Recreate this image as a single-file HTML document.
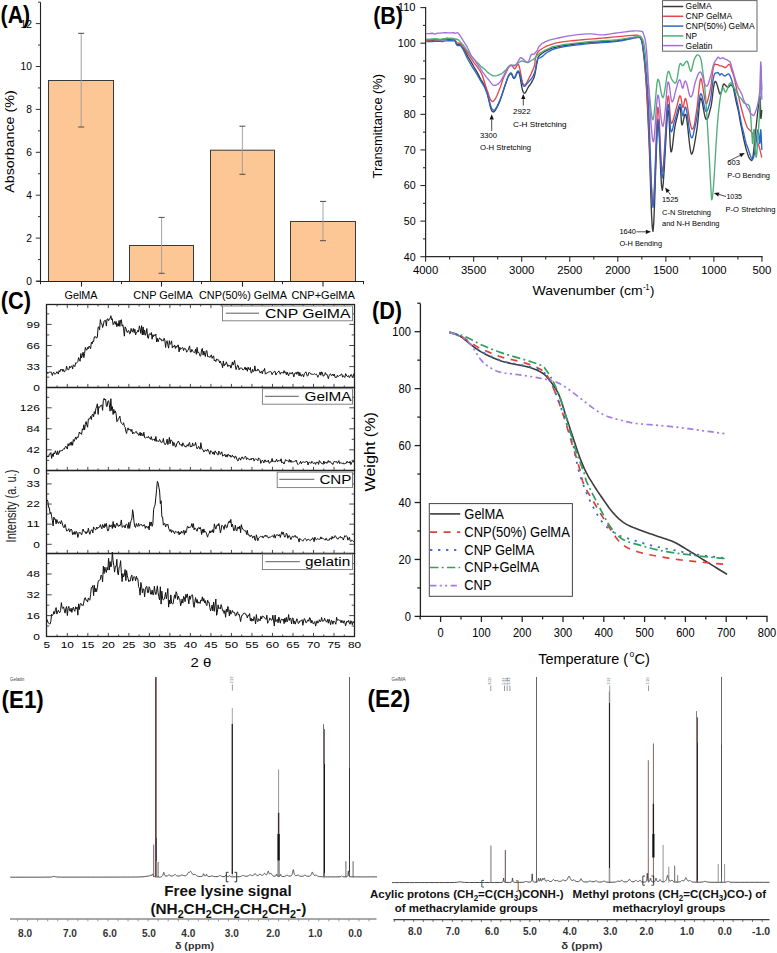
<!DOCTYPE html>
<html><head><meta charset="utf-8"><style>
html,body{margin:0;padding:0;background:#fff;overflow:hidden;width:777px;height:953px;}
svg{display:block;}
text{font-family:"Liberation Sans", sans-serif;}
</style></head><body>
<svg width="777" height="953" viewBox="0 0 777 953">
<defs><clipPath id="clipC"><rect x="46.5" y="304.5" width="308" height="332"/></clipPath></defs>
<rect width="777" height="953" fill="#fff"/>
<rect x="48.50" y="80.50" width="65.00" height="201.00" fill="#fdc795" stroke="#3a3a3a" stroke-width="1"/>
<rect x="129.50" y="245.50" width="64.00" height="36.00" fill="#fdc795" stroke="#3a3a3a" stroke-width="1"/>
<rect x="210.50" y="150.20" width="64.00" height="131.30" fill="#fdc795" stroke="#3a3a3a" stroke-width="1"/>
<rect x="290.50" y="221.50" width="65.00" height="60.00" fill="#fdc795" stroke="#3a3a3a" stroke-width="1"/>
<line x1="81.20" y1="33.30" x2="81.20" y2="127.00" stroke="#9a9a9a" stroke-width="0.9"/>
<line x1="78.20" y1="33.30" x2="84.20" y2="33.30" stroke="#4a4a4a" stroke-width="1.0"/>
<line x1="78.20" y1="127.00" x2="84.20" y2="127.00" stroke="#4a4a4a" stroke-width="1.0"/>
<line x1="161.60" y1="217.40" x2="161.60" y2="273.30" stroke="#9a9a9a" stroke-width="0.9"/>
<line x1="158.60" y1="217.40" x2="164.60" y2="217.40" stroke="#4a4a4a" stroke-width="1.0"/>
<line x1="158.60" y1="273.30" x2="164.60" y2="273.30" stroke="#4a4a4a" stroke-width="1.0"/>
<line x1="242.40" y1="126.20" x2="242.40" y2="174.30" stroke="#9a9a9a" stroke-width="0.9"/>
<line x1="239.40" y1="126.20" x2="245.40" y2="126.20" stroke="#4a4a4a" stroke-width="1.0"/>
<line x1="239.40" y1="174.30" x2="245.40" y2="174.30" stroke="#4a4a4a" stroke-width="1.0"/>
<line x1="323.00" y1="201.40" x2="323.00" y2="240.70" stroke="#9a9a9a" stroke-width="0.9"/>
<line x1="320.00" y1="201.40" x2="326.00" y2="201.40" stroke="#4a4a4a" stroke-width="1.0"/>
<line x1="320.00" y1="240.70" x2="326.00" y2="240.70" stroke="#4a4a4a" stroke-width="1.0"/>
<line x1="40.50" y1="2.20" x2="40.50" y2="282.00" stroke="#222" stroke-width="1.1"/>
<line x1="36.40" y1="281.50" x2="363.80" y2="281.50" stroke="#222" stroke-width="1.2"/>
<line x1="35.80" y1="281.00" x2="40.50" y2="281.00" stroke="#333" stroke-width="1"/>
<line x1="38.00" y1="259.55" x2="40.50" y2="259.55" stroke="#333" stroke-width="1"/>
<line x1="35.80" y1="238.10" x2="40.50" y2="238.10" stroke="#333" stroke-width="1"/>
<line x1="38.00" y1="216.65" x2="40.50" y2="216.65" stroke="#333" stroke-width="1"/>
<line x1="35.80" y1="195.20" x2="40.50" y2="195.20" stroke="#333" stroke-width="1"/>
<line x1="38.00" y1="173.75" x2="40.50" y2="173.75" stroke="#333" stroke-width="1"/>
<line x1="35.80" y1="152.30" x2="40.50" y2="152.30" stroke="#333" stroke-width="1"/>
<line x1="38.00" y1="130.85" x2="40.50" y2="130.85" stroke="#333" stroke-width="1"/>
<line x1="35.80" y1="109.40" x2="40.50" y2="109.40" stroke="#333" stroke-width="1"/>
<line x1="38.00" y1="87.95" x2="40.50" y2="87.95" stroke="#333" stroke-width="1"/>
<line x1="35.80" y1="66.50" x2="40.50" y2="66.50" stroke="#333" stroke-width="1"/>
<line x1="38.00" y1="45.05" x2="40.50" y2="45.05" stroke="#333" stroke-width="1"/>
<line x1="35.80" y1="23.60" x2="40.50" y2="23.60" stroke="#333" stroke-width="1"/>
<line x1="38.00" y1="2.15" x2="40.50" y2="2.15" stroke="#333" stroke-width="1"/>
<text x="31.90" y="284.90" font-size="11" text-anchor="end" textLength="5.70" lengthAdjust="spacingAndGlyphs">0</text>
<text x="31.90" y="242.00" font-size="11" text-anchor="end" textLength="5.70" lengthAdjust="spacingAndGlyphs">2</text>
<text x="31.90" y="199.10" font-size="11" text-anchor="end" textLength="5.70" lengthAdjust="spacingAndGlyphs">4</text>
<text x="31.90" y="156.20" font-size="11" text-anchor="end" textLength="5.70" lengthAdjust="spacingAndGlyphs">6</text>
<text x="31.90" y="113.30" font-size="11" text-anchor="end" textLength="5.70" lengthAdjust="spacingAndGlyphs">8</text>
<text x="31.90" y="70.40" font-size="11" text-anchor="end" textLength="11.40" lengthAdjust="spacingAndGlyphs">10</text>
<text x="31.90" y="27.50" font-size="11" text-anchor="end" textLength="11.40" lengthAdjust="spacingAndGlyphs">12</text>
<line x1="81.50" y1="281.00" x2="81.50" y2="286.60" stroke="#222" stroke-width="1.1"/>
<line x1="161.50" y1="281.00" x2="161.50" y2="286.60" stroke="#222" stroke-width="1.1"/>
<line x1="242.50" y1="281.00" x2="242.50" y2="286.60" stroke="#222" stroke-width="1.1"/>
<line x1="323.00" y1="281.00" x2="323.00" y2="286.60" stroke="#222" stroke-width="1.1"/>
<line x1="40.50" y1="281.00" x2="40.50" y2="284.20" stroke="#222" stroke-width="1"/>
<line x1="121.50" y1="281.00" x2="121.50" y2="284.20" stroke="#222" stroke-width="1"/>
<line x1="201.50" y1="281.00" x2="201.50" y2="284.20" stroke="#222" stroke-width="1"/>
<line x1="282.50" y1="281.00" x2="282.50" y2="284.20" stroke="#222" stroke-width="1"/>
<line x1="363.50" y1="281.00" x2="363.50" y2="284.20" stroke="#222" stroke-width="1"/>
<text x="64.50" y="299.30" font-size="10.8" textLength="33.10" lengthAdjust="spacingAndGlyphs">GelMA</text>
<text x="133.30" y="299.30" font-size="10.8" textLength="59.60" lengthAdjust="spacingAndGlyphs">CNP GelMA</text>
<text x="199.00" y="299.30" font-size="10.8" textLength="88.00" lengthAdjust="spacingAndGlyphs">CNP(50%) GelMA</text>
<text x="291.40" y="299.30" font-size="10.8" textLength="63.40" lengthAdjust="spacingAndGlyphs">CNP+GelMA</text>
<text x="14.20" y="192.80" font-size="13.3" textLength="102.50" lengthAdjust="spacingAndGlyphs" transform="rotate(-90 14.20 192.80)">Absorbance (%)</text>
<text x="0.60" y="22.50" font-size="23.5" font-weight="bold" textLength="29.60" lengthAdjust="spacingAndGlyphs" fill="#000">(A)</text>
<polyline points="426.40,40.00 427.88,39.98 429.92,39.95 432.34,40.26 434.95,39.79 437.56,39.74 440.00,39.92 442.41,39.75 444.98,39.17 447.56,39.62 449.99,39.38 452.12,39.24 453.80,39.40 454.92,40.05 455.57,40.88 455.92,41.78 456.15,42.70 456.42,43.54 456.90,44.20 457.54,44.45 458.21,44.33 458.91,44.13 459.68,44.18 460.54,44.55 461.50,45.58 462.59,47.14 463.78,48.84 465.06,51.01 466.40,53.68 467.79,56.51 469.20,58.80 470.68,61.05 472.24,63.93 473.85,66.76 475.46,69.38 477.02,72.00 478.50,74.82 479.90,77.58 481.25,80.04 482.56,82.14 483.83,84.44 485.04,87.07 486.20,90.11 487.28,93.65 488.28,97.74 489.23,101.90 490.16,105.94 491.10,109.27 492.10,111.31 493.10,112.04 494.06,111.70 495.04,110.62 496.09,108.88 497.26,106.76 498.60,104.08 500.22,100.13 502.11,94.61 504.12,88.32 506.10,82.47 507.91,77.32 509.40,74.39 510.52,73.42 511.39,73.87 512.08,75.11 512.69,76.63 513.30,77.86 514.00,78.54 514.78,78.00 515.56,76.42 516.35,74.46 517.14,72.75 517.92,71.82 518.70,72.15 519.47,74.28 520.24,77.91 521.01,82.36 521.77,86.84 522.53,90.30 523.30,92.32 524.05,93.18 524.77,93.20 525.50,92.44 526.25,91.10 527.04,89.54 527.90,87.79 528.88,86.21 529.96,84.94 531.09,83.17 532.20,81.17 533.23,79.27 534.10,77.13 534.80,74.64 535.37,71.89 535.86,69.16 536.30,66.50 536.74,64.05 537.20,62.00 537.54,60.40 537.69,59.14 537.83,58.10 538.14,57.16 538.81,56.22 540.00,54.86 541.66,53.72 543.63,52.28 545.94,50.92 548.65,49.64 551.79,48.17 555.40,47.29 559.65,46.35 564.55,45.49 569.88,44.72 575.43,44.03 580.97,43.41 586.30,42.83 591.59,42.34 597.06,41.97 602.52,41.66 607.81,41.36 612.76,41.03 617.20,40.63 621.18,40.10 624.84,39.47 628.17,38.81 631.12,38.19 633.68,37.67 635.80,37.33 637.35,37.11 638.33,36.96 638.91,36.91 639.26,37.00 639.57,37.30 640.00,37.50 640.50,38.03 640.92,38.46 641.29,39.09 641.66,40.20 642.05,42.08 642.50,45.00 643.03,48.95 643.61,53.70 644.22,59.22 644.83,65.46 645.43,72.40 646.00,80.00 646.52,88.19 647.00,96.99 647.47,106.48 647.94,116.75 648.45,127.89 649.00,140.00 649.60,155.74 650.23,175.59 650.88,196.30 651.56,214.66 652.27,227.44 653.00,231.40 653.77,222.70 654.59,203.15 655.43,176.82 656.27,152.65 657.10,133.17 657.90,122.31 658.65,124.63 659.36,137.18 660.06,154.74 660.76,172.44 661.50,185.74 662.30,190.38 663.19,184.06 664.17,169.98 665.19,152.06 666.18,133.61 667.10,118.49 667.90,110.10 668.54,110.46 669.06,116.97 669.50,127.06 669.92,137.94 670.37,146.99 670.90,151.70 671.50,151.70 672.12,148.91 672.77,143.81 673.46,137.64 674.16,131.62 674.90,126.89 675.71,122.67 676.60,119.06 677.52,115.42 678.42,111.32 679.23,108.32 679.90,106.86 680.38,107.71 680.71,110.63 680.96,114.81 681.20,119.22 681.49,122.87 681.90,124.90 682.43,124.56 683.03,122.24 683.68,119.13 684.38,116.21 685.12,114.37 685.90,114.91 686.73,119.06 687.63,126.08 688.56,135.15 689.52,143.99 690.47,150.88 691.40,154.17 692.32,153.39 693.26,150.28 694.19,145.55 695.11,140.37 695.98,135.10 696.80,130.09 697.53,124.72 698.19,118.02 698.81,110.96 699.43,104.54 700.08,100.08 700.80,98.06 701.60,99.26 702.45,103.16 703.34,108.22 704.24,113.18 705.13,117.30 706.00,119.27 706.86,119.34 707.72,118.28 708.58,115.90 709.41,112.73 710.23,109.51 711.00,106.47 711.71,102.47 712.37,97.04 713.01,91.36 713.64,86.76 714.29,83.28 715.00,81.39 715.77,81.50 716.60,83.39 717.45,86.03 718.30,88.98 719.13,92.22 719.90,93.99 720.62,93.58 721.30,92.06 721.96,89.66 722.60,86.92 723.24,84.55 723.90,83.91 724.57,84.34 725.23,85.10 725.90,85.72 726.57,86.44 727.23,87.11 727.90,87.41 728.57,87.11 729.23,86.37 729.90,85.48 730.57,84.92 731.23,84.89 731.90,85.52 732.54,86.20 733.16,87.40 733.77,89.59 734.42,92.89 735.12,96.64 735.90,100.26 736.80,104.46 737.79,108.47 738.84,113.20 739.90,119.65 740.93,125.09 741.90,129.54 742.79,134.16 743.63,138.69 744.44,142.26 745.25,145.46 746.06,148.73 746.90,151.65 747.79,154.37 748.71,157.02 749.64,158.70 750.55,159.66 751.41,160.57 752.20,160.05 752.89,157.08 753.51,152.62 754.08,147.23 754.63,141.47 755.20,135.61 755.80,129.98 756.48,123.62 757.21,116.31 757.96,109.64 758.67,103.77 759.30,99.11 759.80,96.54 760.14,97.24 760.36,100.70 760.49,105.72 760.58,111.12 760.67,115.68 760.80,118.22 760.98,118.49 761.17,117.11 761.36,115.27 761.54,113.12 761.69,111.19 761.80,110.00" fill="none" stroke="#3a3a3a" stroke-width="1.35" stroke-linejoin="round"/>
<polyline points="426.40,40.00 427.88,39.97 429.92,39.93 432.34,39.70 434.95,39.95 437.56,39.63 440.00,39.96 442.41,39.40 444.98,39.72 447.56,38.93 449.99,38.84 452.12,39.19 453.80,39.70 454.92,40.21 455.57,40.86 455.92,41.41 456.15,42.07 456.42,42.63 456.90,42.91 457.51,43.02 458.09,43.06 458.72,43.04 459.45,43.21 460.36,43.80 461.50,45.01 462.96,46.79 464.70,48.88 466.61,51.63 468.58,54.66 470.52,57.51 472.30,60.02 473.97,62.61 475.63,64.83 477.24,66.90 478.79,69.06 480.25,71.23 481.60,73.74 482.83,76.85 483.97,80.42 485.01,83.82 485.99,86.94 486.91,89.82 487.80,92.22 488.62,94.74 489.35,96.98 490.03,98.63 490.69,99.87 491.37,100.79 492.10,101.46 492.87,101.68 493.64,101.08 494.43,100.06 495.25,98.84 496.10,97.33 497.00,95.47 497.95,93.12 498.94,90.77 499.97,88.08 501.03,85.11 502.11,81.75 503.20,78.49 504.35,75.92 505.56,73.42 506.80,70.99 508.01,68.45 509.16,66.67 510.20,65.53 511.11,65.16 511.94,65.60 512.69,66.52 513.41,67.57 514.10,68.47 514.80,68.86 515.48,68.29 516.13,67.05 516.75,65.64 517.37,64.65 518.02,64.32 518.70,64.98 519.43,67.08 520.18,70.55 520.96,74.89 521.74,79.23 522.53,82.52 523.30,84.41 524.05,85.16 524.77,85.09 525.50,84.40 526.25,83.35 527.04,81.98 527.90,80.19 528.89,78.26 530.02,76.18 531.19,73.68 532.31,71.11 533.31,68.76 534.10,66.62 534.60,64.73 534.87,63.02 535.02,61.46 535.14,59.99 535.33,58.58 535.70,57.22 536.13,55.95 536.52,54.77 536.99,53.66 537.64,52.48 538.61,51.23 540.00,49.96 541.83,48.72 544.02,47.52 546.52,46.20 549.28,45.21 552.25,44.05 555.40,43.07 558.82,42.43 562.56,41.82 566.51,41.32 570.58,40.88 574.64,40.48 578.60,40.08 582.38,39.71 586.05,39.39 589.72,39.11 593.50,38.84 597.49,38.54 601.80,38.18 606.79,37.73 612.45,37.19 618.32,36.63 623.95,36.10 628.90,35.67 632.70,35.38 635.19,35.23 636.68,35.17 637.49,35.19 637.91,35.32 638.24,35.55 638.80,35.88 639.49,36.11 640.06,36.21 640.54,36.39 640.98,36.93 641.42,38.08 641.90,40.10 642.42,42.96 642.93,46.46 643.45,50.56 643.97,55.26 644.48,60.51 645.00,66.30 645.50,72.33 645.97,78.57 646.44,85.37 646.93,93.09 647.48,102.08 648.10,112.70 648.81,127.62 649.60,147.09 650.44,167.82 651.30,186.57 652.16,200.05 653.00,205.00 653.82,197.90 654.65,180.67 655.48,158.93 656.30,134.98 657.11,115.74 657.90,107.12 658.65,110.45 659.36,121.72 660.06,137.41 660.76,153.83 661.50,166.84 662.30,171.90 663.19,166.93 664.17,154.79 665.19,138.63 666.18,120.63 667.10,104.86 667.90,96.84 668.54,95.89 669.06,99.40 669.50,105.59 669.92,112.69 670.37,118.92 670.90,122.44 671.50,123.31 672.12,122.99 672.77,121.36 673.46,118.98 674.16,116.31 674.90,113.65 675.70,110.49 676.57,107.30 677.46,103.82 678.34,100.12 679.17,97.26 679.90,95.82 680.52,96.27 681.05,98.22 681.52,100.97 681.97,103.85 682.42,106.15 682.90,107.45 683.37,106.93 683.79,104.96 684.22,102.40 684.69,99.89 685.23,98.49 685.90,99.03 686.73,102.31 687.69,107.95 688.73,114.80 689.79,121.29 690.84,126.14 691.80,129.02 692.70,129.10 693.57,127.56 694.42,124.57 695.24,119.59 696.03,114.30 696.80,109.27 697.51,103.59 698.16,97.28 698.79,91.12 699.41,85.59 700.08,80.81 700.80,78.44 701.61,80.02 702.49,85.02 703.40,90.85 704.31,96.28 705.19,101.03 706.00,103.52 706.74,103.37 707.42,101.65 708.08,98.97 708.71,96.53 709.35,93.82 710.00,91.06 710.64,87.73 711.26,83.64 711.88,78.29 712.53,72.81 713.22,68.11 714.00,65.45 714.87,64.16 715.82,64.27 716.83,64.69 717.86,64.64 718.89,65.22 719.90,65.80 720.92,65.89 721.97,66.16 723.02,66.65 724.04,67.21 725.01,67.72 725.90,67.30 726.66,66.52 727.31,65.89 727.90,65.19 728.49,64.68 729.14,64.28 729.90,64.80 730.78,67.04 731.75,70.40 732.77,73.02 733.83,76.36 734.88,80.79 735.90,85.51 736.91,90.39 737.94,93.90 738.96,97.90 739.97,102.57 740.96,106.66 741.90,110.21 742.80,113.72 743.68,117.08 744.53,119.73 745.35,122.13 746.14,124.49 746.90,126.54 747.61,127.87 748.28,128.69 748.91,129.26 749.53,129.83 750.16,130.39 750.80,131.17 751.46,132.13 752.13,133.07 752.79,134.08 753.46,135.14 754.13,136.15 754.80,137.08 755.48,138.06 756.17,139.37 756.86,140.80 757.54,142.30 758.19,143.88 758.80,145.59 759.39,147.60 759.99,149.93 760.55,152.37 761.06,154.44 761.49,156.35 761.80,157.70" fill="none" stroke="#e2474a" stroke-width="1.35" stroke-linejoin="round"/>
<polyline points="426.40,41.60 427.88,41.56 429.92,41.50 432.34,41.66 434.95,41.21 437.56,41.40 440.00,41.44 442.41,41.58 444.98,40.81 447.56,40.79 449.99,40.70 452.12,40.71 453.80,40.85 454.92,41.37 455.57,42.13 455.92,42.97 456.15,43.86 456.42,44.65 456.90,45.18 457.54,45.46 458.21,45.56 458.91,45.58 459.68,45.53 460.54,45.83 461.50,46.93 462.59,48.68 463.78,50.79 465.06,53.54 466.40,56.44 467.79,59.24 469.20,61.78 470.68,64.33 472.24,66.87 473.85,69.36 475.46,71.99 477.02,74.51 478.50,77.09 479.89,79.52 481.24,81.70 482.54,83.99 483.80,85.90 485.02,88.29 486.20,91.21 487.32,94.04 488.38,97.57 489.39,101.36 490.39,104.94 491.38,107.82 492.40,109.48 493.38,110.19 494.30,110.27 495.21,109.49 496.19,107.97 497.30,105.84 498.60,103.14 500.21,99.40 502.09,94.29 504.10,87.89 506.09,82.12 507.91,76.90 509.40,74.21 510.52,73.00 511.39,72.94 512.08,74.29 512.69,76.10 513.30,77.62 514.00,78.03 514.78,77.27 515.56,75.57 516.35,73.51 517.14,71.84 517.92,70.98 518.70,71.11 519.47,72.59 520.24,75.18 521.01,78.25 521.77,81.37 522.53,84.04 523.30,85.67 524.05,86.30 524.77,86.28 525.50,85.71 526.25,84.71 527.04,83.58 527.90,82.57 528.88,81.53 529.96,80.25 531.09,78.98 532.20,77.54 533.23,75.65 534.10,73.86 534.80,71.92 535.37,69.57 535.86,66.83 536.30,64.18 536.74,61.84 537.20,60.06 537.54,59.05 537.69,58.62 537.83,58.51 538.14,58.45 538.81,58.18 540.00,57.78 541.66,56.94 543.63,55.35 545.94,53.27 548.65,51.53 551.79,49.96 555.40,48.50 559.65,47.58 564.55,46.67 569.88,45.89 575.43,45.19 580.97,44.56 586.30,43.95 591.59,43.41 597.06,42.96 602.52,42.58 607.81,42.21 612.76,41.81 617.20,41.35 621.17,40.77 624.83,40.09 628.14,39.39 631.09,38.74 633.65,38.20 635.80,37.85 637.39,37.59 638.43,37.34 639.07,37.21 639.50,37.29 639.88,37.71 640.40,38.50 640.99,39.50 641.49,40.51 641.95,41.85 642.41,43.82 642.91,46.74 643.50,50.90 644.18,55.91 644.91,61.45 645.69,67.93 646.49,75.77 647.30,85.39 648.10,97.20 648.90,114.18 649.71,136.60 650.53,160.79 651.36,183.10 652.18,199.89 653.00,207.50 653.82,202.53 654.65,187.21 655.48,165.85 656.30,144.73 657.11,127.64 657.90,119.12 658.65,121.92 659.36,132.68 660.06,147.55 660.76,162.63 661.50,174.06 662.30,177.98 663.19,172.30 664.17,159.87 665.19,143.89 666.18,126.96 667.10,112.57 667.90,105.09 668.54,104.56 669.06,108.43 669.50,114.73 669.92,121.86 670.37,127.94 670.90,131.25 671.50,131.74 672.12,130.71 672.77,128.34 673.46,125.26 674.16,122.19 674.90,119.88 675.70,117.51 676.57,114.27 677.46,110.91 678.34,107.61 679.17,105.13 679.90,104.03 680.52,104.65 681.05,106.68 681.52,109.47 681.97,112.37 682.42,114.71 682.90,115.77 683.37,115.05 683.81,112.97 684.24,110.35 684.71,108.13 685.26,106.97 685.90,107.68 686.67,110.93 687.55,116.44 688.50,123.47 689.48,130.28 690.46,135.26 691.40,137.81 692.32,137.65 693.26,134.87 694.19,130.29 695.11,126.27 695.98,122.48 696.80,117.96 697.53,113.19 698.19,108.01 698.81,102.93 699.43,98.37 700.08,95.10 700.80,93.66 701.61,94.57 702.49,97.45 703.40,101.75 704.31,106.46 705.19,109.94 706.00,111.48 706.74,111.41 707.42,110.45 708.08,108.74 708.71,106.61 709.35,104.04 710.00,101.45 710.64,98.39 711.26,94.31 711.88,89.06 712.53,83.71 713.22,78.98 714.00,75.45 714.87,73.30 715.82,72.97 716.83,72.94 717.86,72.46 718.89,73.58 719.90,75.24 720.92,73.89 721.97,73.56 723.02,74.95 724.04,75.69 725.01,76.09 725.90,75.52 726.66,74.60 727.31,74.36 727.90,74.05 728.49,73.97 729.14,74.28 729.90,75.59 730.78,77.61 731.75,80.30 732.77,83.73 733.83,87.72 734.88,92.24 735.90,96.37 736.91,100.61 737.94,105.78 738.96,111.10 739.97,116.22 740.96,121.42 741.90,126.24 742.79,129.71 743.64,132.80 744.47,136.75 745.28,140.52 746.08,143.16 746.90,145.44 747.74,147.82 748.61,150.18 749.48,152.93 750.31,155.48 751.09,157.46 751.80,158.74 752.41,159.13 752.94,158.66 753.42,157.70 753.87,156.28 754.32,154.28 754.80,151.83 755.31,148.34 755.84,143.96 756.36,139.47 756.87,135.25 757.36,131.96 757.80,129.97 758.20,130.34 758.58,132.61 758.92,135.90 759.24,139.47 759.54,142.31 759.80,143.48 760.02,142.40 760.21,139.67 760.36,136.16 760.50,132.74 760.64,130.27 760.80,129.62 760.98,131.27 761.17,134.68 761.36,138.97 761.54,143.47 761.69,147.39 761.80,150.00" fill="none" stroke="#2a67cc" stroke-width="1.35" stroke-linejoin="round"/>
<polyline points="426.40,39.30 427.88,39.27 429.92,39.23 432.34,38.92 434.95,38.73 437.56,39.03 440.00,39.41 442.36,38.94 444.81,38.69 447.27,38.02 449.64,38.37 451.85,38.21 453.80,38.58 455.40,39.02 456.70,39.23 457.84,39.67 458.93,40.38 460.11,41.68 461.50,43.14 463.10,44.92 464.81,47.25 466.61,49.98 468.47,52.27 470.37,54.79 472.30,57.24 474.31,59.41 476.43,61.61 478.59,63.73 480.74,66.23 482.79,67.88 484.70,69.29 486.43,71.13 488.03,72.67 489.55,73.73 491.02,74.56 492.49,75.73 494.00,75.83 495.57,75.88 497.19,75.68 498.79,74.86 500.36,74.16 501.84,73.62 503.20,72.57 504.41,71.32 505.49,70.25 506.49,69.27 507.44,67.90 508.40,66.65 509.40,65.61 510.43,65.13 511.47,65.10 512.50,65.19 513.53,65.29 514.57,65.24 515.60,64.92 516.63,64.29 517.67,63.52 518.71,62.71 519.74,61.99 520.77,61.32 521.80,60.84 522.82,61.08 523.84,61.49 524.85,61.79 525.86,62.22 526.88,62.56 527.90,62.62 528.93,62.25 529.97,61.47 531.01,60.75 532.05,60.05 533.08,59.59 534.10,58.93 534.99,57.97 535.74,57.02 536.47,56.07 537.34,55.12 538.47,54.26 540.00,53.14 541.84,52.14 543.86,50.74 546.14,49.59 548.77,48.70 551.83,46.99 555.40,46.21 559.65,45.32 564.55,44.53 569.88,43.82 575.43,43.16 580.97,42.56 586.30,42.00 591.59,41.52 597.06,41.11 602.52,40.77 607.81,40.44 612.76,40.09 617.20,39.70 621.16,39.22 624.77,38.66 628.05,38.08 630.98,37.56 633.57,37.14 635.80,36.90 637.57,36.74 638.87,36.58 639.82,36.53 640.55,36.80 641.20,37.29 641.90,38.20 642.58,39.35 643.12,40.61 643.58,42.19 644.01,44.29 644.47,47.13 645.00,50.90 645.61,55.98 646.27,62.29 646.94,69.33 647.63,76.60 648.32,83.62 649.00,89.90 649.66,96.22 650.30,103.13 650.94,109.78 651.60,115.34 652.28,118.96 653.00,119.80 653.76,116.52 654.56,109.53 655.39,100.34 656.23,90.63 657.07,82.64 657.90,79.28 658.73,80.15 659.56,83.39 660.39,88.25 661.23,92.88 662.07,96.32 662.90,97.74 663.74,95.97 664.60,91.81 665.46,86.46 666.31,80.34 667.12,75.10 667.90,72.06 668.62,71.25 669.31,72.17 669.96,74.20 670.60,76.59 671.24,78.49 671.90,79.74 672.57,80.58 673.23,81.46 673.90,82.20 674.57,82.96 675.23,83.24 675.90,82.71 676.58,80.88 677.27,77.96 677.96,73.78 678.64,69.43 679.29,65.90 679.90,64.08 680.45,63.48 680.94,63.66 681.40,64.22 681.86,64.97 682.35,65.59 682.90,65.67 683.51,65.08 684.16,64.10 684.84,63.14 685.54,62.30 686.23,61.56 686.90,61.15 687.57,61.67 688.24,63.70 688.91,66.12 689.57,68.48 690.20,70.36 690.80,71.31 691.34,70.76 691.83,69.25 692.29,67.27 692.76,65.05 693.25,62.84 693.80,60.91 694.41,59.07 695.06,57.79 695.74,56.58 696.43,55.55 697.12,54.91 697.80,54.95 698.47,55.07 699.13,55.54 699.80,56.48 700.47,58.01 701.13,60.25 701.80,64.14 702.48,69.08 703.17,74.32 703.86,79.38 704.54,85.00 705.19,92.24 705.80,99.79 706.37,107.78 706.90,116.00 707.41,124.62 707.90,133.30 708.36,141.60 708.80,149.27 709.23,156.64 709.64,164.03 710.02,171.66 710.39,178.80 710.71,185.04 711.00,190.09 711.22,193.93 711.39,196.79 711.51,198.60 711.64,199.56 711.79,199.75 712.00,199.18 712.26,197.90 712.56,195.88 712.88,193.07 713.22,189.41 713.60,184.79 714.00,179.26 714.44,172.19 714.93,163.67 715.44,154.84 715.97,145.89 716.49,137.55 717.00,129.92 717.49,123.62 717.97,118.03 718.45,113.01 718.93,108.45 719.41,104.27 719.90,100.37 720.39,97.30 720.89,94.57 721.39,92.23 721.90,90.30 722.40,88.84 722.90,87.93 723.39,87.89 723.86,88.68 724.34,89.96 724.83,91.31 725.34,92.18 725.90,92.19 726.51,91.17 727.16,89.48 727.84,87.46 728.53,85.48 729.22,83.99 729.90,83.22 730.54,82.95 731.16,83.05 731.77,83.51 732.42,84.79 733.12,86.33 733.90,87.60 734.78,88.67 735.75,90.35 736.77,92.44 737.83,94.60 738.88,96.40 739.90,97.29 740.92,98.41 741.98,99.70 743.03,101.72 744.06,103.09 745.02,103.42 745.90,103.92 746.69,104.23 747.43,104.35 748.10,104.62 748.72,105.15 749.28,105.97 749.80,107.69 750.25,110.76 750.64,115.09 750.98,120.18 751.28,125.33 751.55,130.04 751.80,133.77 752.02,136.71 752.19,139.31 752.34,141.35 752.47,142.83 752.62,143.64 752.80,143.66 753.00,142.14 753.21,139.04 753.44,135.27 753.67,131.74 753.93,129.39 754.20,129.33 754.50,132.29 754.82,137.73 755.16,144.35 755.51,150.83 755.86,155.55 756.20,157.42 756.54,156.19 756.88,152.86 757.23,148.07 757.56,143.07 757.89,138.10 758.20,133.67 758.50,129.77 758.79,125.85 759.06,121.68 759.33,116.86 759.57,111.72 759.80,106.15 760.00,99.30 760.18,91.09 760.34,82.57 760.49,74.77 760.64,68.74 760.80,65.57 760.98,66.07 761.17,70.16 761.36,75.51 761.54,81.41 761.69,86.65 761.80,90.00" fill="none" stroke="#4fae78" stroke-width="1.35" stroke-linejoin="round"/>
<polyline points="426.40,33.60 427.86,33.56 429.86,33.50 432.24,33.26 434.84,34.18 437.48,33.11 440.00,33.14 442.58,32.93 445.40,32.67 448.26,32.82 450.98,32.90 453.39,32.63 455.30,33.38 456.57,32.94 457.33,32.65 457.77,32.78 458.09,33.07 458.50,33.60 459.20,34.50 460.20,35.92 461.34,37.61 462.56,39.53 463.82,41.72 465.05,43.66 466.20,45.47 467.25,47.20 468.24,49.23 469.21,51.34 470.18,53.65 471.20,55.72 472.30,57.38 473.49,58.57 474.74,60.17 476.04,62.44 477.37,64.09 478.69,66.12 480.00,67.98 481.31,69.81 482.65,72.16 483.99,73.88 485.31,75.66 486.59,77.33 487.80,78.75 488.93,80.16 489.99,81.57 491.01,82.92 492.00,84.13 492.99,85.07 494.00,85.41 495.02,85.37 496.04,85.02 497.05,84.68 498.06,84.17 499.08,83.06 500.10,81.83 501.15,80.36 502.24,78.43 503.34,76.33 504.40,74.31 505.40,72.42 506.30,70.84 507.07,69.37 507.74,68.02 508.35,66.98 508.93,66.50 509.54,66.18 510.20,65.85 510.92,65.56 511.65,65.60 512.41,65.75 513.18,65.88 513.98,66.02 514.80,65.84 515.69,64.97 516.66,63.65 517.64,62.21 518.60,60.68 519.47,59.07 520.20,57.98 520.73,57.73 521.08,57.66 521.35,57.75 521.62,57.99 521.97,58.30 522.50,58.62 523.25,59.15 524.16,60.00 525.15,60.95 526.16,61.70 527.10,62.16 527.90,62.12 528.55,61.53 529.10,60.32 529.59,58.86 530.05,57.36 530.51,56.03 531.00,55.08 531.52,54.51 532.03,54.18 532.55,54.26 533.07,54.38 533.58,54.43 534.10,54.12 534.62,53.57 535.14,52.93 535.67,52.29 536.19,51.66 536.70,51.01 537.20,50.34 537.61,49.55 537.91,48.76 538.21,47.96 538.60,47.12 539.16,46.31 540.00,45.53 541.03,44.55 542.16,43.35 543.47,42.80 545.05,41.84 546.96,41.02 549.30,40.19 552.22,39.31 555.70,38.56 559.52,37.72 563.47,36.93 567.34,36.21 570.90,35.60 574.23,35.10 577.52,34.68 580.72,34.34 583.80,34.08 586.71,33.90 589.40,33.80 591.78,33.85 593.87,34.07 595.79,34.36 597.67,34.65 599.63,34.86 601.80,34.90 604.19,34.74 606.71,34.46 609.31,34.09 611.95,33.67 614.59,33.26 617.20,32.90 619.87,32.55 622.65,32.18 625.43,31.81 628.11,31.47 630.57,31.19 632.70,31.00 634.49,30.89 636.01,30.84 637.33,30.86 638.46,30.93 639.47,31.08 640.40,31.10 641.18,31.26 641.77,31.32 642.24,31.46 642.64,31.82 643.04,32.58 643.50,33.90 644.01,35.43 644.52,36.96 645.03,38.89 645.54,41.60 646.07,45.48 646.60,50.90 647.15,58.60 647.70,68.43 648.27,79.42 648.84,90.61 649.42,101.06 650.00,109.80 650.58,117.59 651.16,125.35 651.74,132.36 652.34,137.90 652.96,141.25 653.60,141.70 654.27,137.54 654.96,129.01 655.66,117.69 656.39,107.50 657.13,99.37 657.90,95.05 658.69,96.51 659.51,103.08 660.36,111.86 661.21,119.26 662.06,124.47 662.90,126.58 663.74,123.25 664.60,116.56 665.46,107.80 666.31,96.56 667.12,87.01 667.90,82.28 668.62,82.11 669.31,85.17 669.96,90.08 670.60,95.43 671.24,99.68 671.90,101.77 672.57,101.66 673.23,100.41 673.90,98.31 674.57,95.40 675.23,92.43 675.90,89.92 676.58,87.54 677.27,84.91 677.96,82.77 678.64,81.01 679.29,79.93 679.90,79.92 680.46,81.03 680.97,82.85 681.46,84.67 681.94,86.56 682.41,88.04 682.90,88.14 683.38,86.91 683.83,84.81 684.28,82.53 684.76,81.46 685.29,81.04 685.90,81.79 686.61,83.22 687.39,85.94 688.23,89.84 689.09,93.82 689.96,96.25 690.80,96.84 691.63,96.27 692.46,94.49 693.29,91.02 694.13,86.90 694.97,83.27 695.80,80.57 696.63,78.31 697.46,76.03 698.29,74.10 699.12,72.68 699.96,71.99 700.80,72.19 701.67,73.77 702.56,76.69 703.46,79.79 704.35,82.64 705.20,84.85 706.00,85.85 706.74,86.06 707.42,85.73 708.08,84.67 708.71,82.54 709.35,80.25 710.00,78.11 710.67,75.94 711.34,73.39 712.01,70.56 712.67,67.76 713.34,65.31 714.00,63.50 714.63,62.16 715.23,61.08 715.83,60.23 716.45,59.56 717.13,58.42 717.90,57.19 718.78,57.41 719.74,58.65 720.77,58.47 721.82,58.09 722.88,57.76 723.90,58.17 724.90,59.08 725.90,59.32 726.90,59.70 727.90,60.52 728.90,61.06 729.90,61.40 730.90,64.07 731.90,67.64 732.90,70.96 733.90,74.48 734.90,78.06 735.90,81.18 736.90,84.05 737.90,86.65 738.91,88.93 739.91,90.48 740.91,92.33 741.90,94.30 742.90,97.62 743.91,100.69 744.91,102.49 745.90,104.50 746.87,106.72 747.80,108.19 748.70,109.50 749.57,111.37 750.42,113.20 751.24,114.07 752.03,114.44 752.80,115.19 753.54,115.53 754.24,114.89 754.92,113.35 755.58,111.47 756.20,109.77 756.80,107.89 757.38,105.77 757.95,103.23 758.49,100.41 758.99,97.32 759.43,93.81 759.80,90.04 760.08,85.14 760.28,78.93 760.42,72.45 760.54,66.76 760.66,62.89 760.80,61.93 760.98,64.90 761.17,71.13 761.36,79.16 761.54,87.57 761.69,94.93 761.80,99.80" fill="none" stroke="#a46ddc" stroke-width="1.35" stroke-linejoin="round"/>
<line x1="425.60" y1="7.00" x2="425.60" y2="257.20" stroke="#2a2a2a" stroke-width="1.25"/>
<line x1="425.00" y1="256.60" x2="762.60" y2="256.60" stroke="#2a2a2a" stroke-width="1.25"/>
<line x1="420.40" y1="256.70" x2="425.60" y2="256.70" stroke="#2a2a2a" stroke-width="1.1"/>
<text x="415.60" y="260.50" font-size="10.8" text-anchor="end" textLength="11.90" lengthAdjust="spacingAndGlyphs">40</text>
<line x1="423.00" y1="238.91" x2="425.60" y2="238.91" stroke="#2a2a2a" stroke-width="1.1"/>
<line x1="420.40" y1="221.12" x2="425.60" y2="221.12" stroke="#2a2a2a" stroke-width="1.1"/>
<text x="415.60" y="224.92" font-size="10.8" text-anchor="end" textLength="11.90" lengthAdjust="spacingAndGlyphs">50</text>
<line x1="423.00" y1="203.32" x2="425.60" y2="203.32" stroke="#2a2a2a" stroke-width="1.1"/>
<line x1="420.40" y1="185.53" x2="425.60" y2="185.53" stroke="#2a2a2a" stroke-width="1.1"/>
<text x="415.60" y="189.33" font-size="10.8" text-anchor="end" textLength="11.90" lengthAdjust="spacingAndGlyphs">60</text>
<line x1="423.00" y1="167.74" x2="425.60" y2="167.74" stroke="#2a2a2a" stroke-width="1.1"/>
<line x1="420.40" y1="149.94" x2="425.60" y2="149.94" stroke="#2a2a2a" stroke-width="1.1"/>
<text x="415.60" y="153.74" font-size="10.8" text-anchor="end" textLength="11.90" lengthAdjust="spacingAndGlyphs">70</text>
<line x1="423.00" y1="132.15" x2="425.60" y2="132.15" stroke="#2a2a2a" stroke-width="1.1"/>
<line x1="420.40" y1="114.36" x2="425.60" y2="114.36" stroke="#2a2a2a" stroke-width="1.1"/>
<text x="415.60" y="118.16" font-size="10.8" text-anchor="end" textLength="11.90" lengthAdjust="spacingAndGlyphs">80</text>
<line x1="423.00" y1="96.56" x2="425.60" y2="96.56" stroke="#2a2a2a" stroke-width="1.1"/>
<line x1="420.40" y1="78.77" x2="425.60" y2="78.77" stroke="#2a2a2a" stroke-width="1.1"/>
<text x="415.60" y="82.57" font-size="10.8" text-anchor="end" textLength="11.90" lengthAdjust="spacingAndGlyphs">90</text>
<line x1="423.00" y1="60.98" x2="425.60" y2="60.98" stroke="#2a2a2a" stroke-width="1.1"/>
<line x1="420.40" y1="43.19" x2="425.60" y2="43.19" stroke="#2a2a2a" stroke-width="1.1"/>
<text x="415.60" y="46.99" font-size="10.8" text-anchor="end" textLength="17.85" lengthAdjust="spacingAndGlyphs">100</text>
<line x1="423.00" y1="25.39" x2="425.60" y2="25.39" stroke="#2a2a2a" stroke-width="1.1"/>
<line x1="420.40" y1="7.60" x2="425.60" y2="7.60" stroke="#2a2a2a" stroke-width="1.1"/>
<text x="415.60" y="11.40" font-size="10.8" text-anchor="end" textLength="17.85" lengthAdjust="spacingAndGlyphs">110</text>
<line x1="761.95" y1="256.60" x2="761.95" y2="261.80" stroke="#2a2a2a" stroke-width="1.1"/>
<text x="761.95" y="273.90" font-size="10.8" text-anchor="middle" textLength="18.90" lengthAdjust="spacingAndGlyphs">500</text>
<line x1="737.92" y1="256.60" x2="737.92" y2="259.50" stroke="#2a2a2a" stroke-width="1.1"/>
<line x1="713.90" y1="256.60" x2="713.90" y2="261.80" stroke="#2a2a2a" stroke-width="1.1"/>
<text x="713.90" y="273.90" font-size="10.8" text-anchor="middle" textLength="25.20" lengthAdjust="spacingAndGlyphs">1000</text>
<line x1="689.88" y1="256.60" x2="689.88" y2="259.50" stroke="#2a2a2a" stroke-width="1.1"/>
<line x1="665.85" y1="256.60" x2="665.85" y2="261.80" stroke="#2a2a2a" stroke-width="1.1"/>
<text x="665.85" y="273.90" font-size="10.8" text-anchor="middle" textLength="25.20" lengthAdjust="spacingAndGlyphs">1500</text>
<line x1="641.83" y1="256.60" x2="641.83" y2="259.50" stroke="#2a2a2a" stroke-width="1.1"/>
<line x1="617.80" y1="256.60" x2="617.80" y2="261.80" stroke="#2a2a2a" stroke-width="1.1"/>
<text x="617.80" y="273.90" font-size="10.8" text-anchor="middle" textLength="25.20" lengthAdjust="spacingAndGlyphs">2000</text>
<line x1="593.78" y1="256.60" x2="593.78" y2="259.50" stroke="#2a2a2a" stroke-width="1.1"/>
<line x1="569.75" y1="256.60" x2="569.75" y2="261.80" stroke="#2a2a2a" stroke-width="1.1"/>
<text x="569.75" y="273.90" font-size="10.8" text-anchor="middle" textLength="25.20" lengthAdjust="spacingAndGlyphs">2500</text>
<line x1="545.73" y1="256.60" x2="545.73" y2="259.50" stroke="#2a2a2a" stroke-width="1.1"/>
<line x1="521.70" y1="256.60" x2="521.70" y2="261.80" stroke="#2a2a2a" stroke-width="1.1"/>
<text x="521.70" y="273.90" font-size="10.8" text-anchor="middle" textLength="25.20" lengthAdjust="spacingAndGlyphs">3000</text>
<line x1="497.68" y1="256.60" x2="497.68" y2="259.50" stroke="#2a2a2a" stroke-width="1.1"/>
<line x1="473.65" y1="256.60" x2="473.65" y2="261.80" stroke="#2a2a2a" stroke-width="1.1"/>
<text x="473.65" y="273.90" font-size="10.8" text-anchor="middle" textLength="25.20" lengthAdjust="spacingAndGlyphs">3500</text>
<line x1="449.62" y1="256.60" x2="449.62" y2="259.50" stroke="#2a2a2a" stroke-width="1.1"/>
<line x1="425.60" y1="256.60" x2="425.60" y2="261.80" stroke="#2a2a2a" stroke-width="1.1"/>
<text x="425.60" y="273.90" font-size="10.8" text-anchor="middle" textLength="25.20" lengthAdjust="spacingAndGlyphs">4000</text>
<text x="381.70" y="178.40" font-size="13.6" textLength="104.50" lengthAdjust="spacingAndGlyphs" transform="rotate(-90 381.70 178.40)">Transmittance (%)</text>
<text x="532.60" y="295.40" font-size="13.2" textLength="110.20" lengthAdjust="spacingAndGlyphs">Wavenumber (cm</text>
<text x="643.30" y="289.60" font-size="8.6" textLength="6.20" lengthAdjust="spacingAndGlyphs">-1</text>
<text x="650.00" y="295.40" font-size="13.2">)</text>
<text x="373.20" y="24.00" font-size="24" font-weight="bold" textLength="29.80" lengthAdjust="spacingAndGlyphs" fill="#000">(B)</text>
<rect x="662.5" y="0.6" width="94.5" height="50.6" fill="#fff" stroke="#666" stroke-width="1"/>
<line x1="663.10" y1="6.50" x2="683.30" y2="6.50" stroke="#3a3a3a" stroke-width="1.5"/>
<text x="685.60" y="9.40" font-size="8.3" textLength="26.00" lengthAdjust="spacingAndGlyphs">GelMA</text>
<line x1="663.10" y1="16.30" x2="683.30" y2="16.30" stroke="#e2474a" stroke-width="1.5"/>
<text x="685.60" y="19.20" font-size="8.3" textLength="46.50" lengthAdjust="spacingAndGlyphs">CNP GelMA</text>
<line x1="663.10" y1="26.10" x2="683.30" y2="26.10" stroke="#2a67cc" stroke-width="1.5"/>
<text x="685.60" y="29.00" font-size="8.3" textLength="69.00" lengthAdjust="spacingAndGlyphs">CNP(50%) GelMA</text>
<line x1="663.10" y1="35.90" x2="683.30" y2="35.90" stroke="#4fae78" stroke-width="1.5"/>
<text x="685.60" y="38.80" font-size="8.3" textLength="11.50" lengthAdjust="spacingAndGlyphs">NP</text>
<line x1="663.10" y1="45.60" x2="683.30" y2="45.60" stroke="#a46ddc" stroke-width="1.5"/>
<text x="685.60" y="48.50" font-size="8.3" textLength="26.80" lengthAdjust="spacingAndGlyphs">Gelatin</text>
<line x1="491.70" y1="131.00" x2="491.70" y2="119.50" stroke="#222" stroke-width="0.8"/>
<polygon points="491.70,114.30 493.80,119.50 489.60,119.50" fill="#111"/>
<text x="480.00" y="137.50" font-size="7.9" textLength="17.00" lengthAdjust="spacingAndGlyphs">3300</text>
<text x="480.00" y="150.30" font-size="7.9" textLength="51.00" lengthAdjust="spacingAndGlyphs">O-H Stretching</text>
<line x1="523.30" y1="105.50" x2="523.30" y2="99.10" stroke="#222" stroke-width="0.8"/>
<polygon points="523.30,93.90 525.40,99.10 521.20,99.10" fill="#111"/>
<text x="513.00" y="114.30" font-size="7.9" textLength="17.70" lengthAdjust="spacingAndGlyphs">2922</text>
<text x="513.00" y="127.10" font-size="7.9" textLength="53.60" lengthAdjust="spacingAndGlyphs">C-H Stretching</text>
<line x1="636.50" y1="231.80" x2="645.80" y2="231.80" stroke="#222" stroke-width="0.8"/>
<polygon points="651.00,231.80 645.80,233.90 645.80,229.70" fill="#111"/>
<text x="619.40" y="233.70" font-size="7.9" textLength="16.60" lengthAdjust="spacingAndGlyphs">1640</text>
<text x="619.40" y="245.80" font-size="7.9" textLength="42.60" lengthAdjust="spacingAndGlyphs">O-H Bending</text>
<line x1="670.50" y1="194.80" x2="668.22" y2="191.76" stroke="#222" stroke-width="0.8"/>
<polygon points="665.10,187.60 669.90,190.50 666.54,193.02" fill="#111"/>
<text x="662.00" y="202.00" font-size="7.9" textLength="16.30" lengthAdjust="spacingAndGlyphs">1525</text>
<text x="662.00" y="214.60" font-size="7.9" textLength="49.00" lengthAdjust="spacingAndGlyphs">C-N Stretching</text>
<text x="662.00" y="226.30" font-size="7.9" textLength="57.50" lengthAdjust="spacingAndGlyphs">and N-H Bending</text>
<line x1="726.00" y1="196.50" x2="718.80" y2="194.43" stroke="#222" stroke-width="0.8"/>
<polygon points="713.80,193.00 719.38,192.42 718.22,196.45" fill="#111"/>
<text x="726.40" y="199.30" font-size="7.9" textLength="15.60" lengthAdjust="spacingAndGlyphs">1035</text>
<text x="725.50" y="211.50" font-size="7.9" textLength="50.00" lengthAdjust="spacingAndGlyphs">P-O Stretching</text>
<line x1="728.20" y1="161.40" x2="740.16" y2="155.35" stroke="#222" stroke-width="0.8"/>
<polygon points="744.80,153.00 741.11,157.22 739.21,153.47" fill="#111"/>
<text x="727.30" y="165.40" font-size="7.9" textLength="12.70" lengthAdjust="spacingAndGlyphs">603</text>
<text x="727.30" y="177.70" font-size="7.9" textLength="42.70" lengthAdjust="spacingAndGlyphs">P-O Bending</text>
<g clip-path="url(#clipC)">
<polyline points="47.10,372.00 47.85,373.54 48.60,372.71 49.35,371.79 50.10,372.54 50.85,371.73 51.60,373.44 52.35,375.50 53.10,372.59 53.85,372.38 54.60,374.13 55.35,373.88 56.10,373.42 56.85,371.68 57.60,373.02 58.35,374.06 59.10,370.61 59.85,371.89 60.60,369.35 61.35,370.15 62.10,369.02 62.85,371.47 63.60,369.50 64.35,371.85 65.10,371.38 65.85,370.51 66.60,366.13 67.35,369.22 68.10,369.71 68.85,369.61 69.60,366.22 70.35,367.68 71.10,366.27 71.85,366.04 72.60,369.02 73.35,364.80 74.10,365.60 74.85,366.69 75.60,362.93 76.35,363.03 77.10,362.58 77.85,361.51 78.60,357.65 79.35,359.44 80.10,361.29 80.85,353.49 81.60,358.00 82.35,355.14 83.10,352.17 83.85,357.62 84.60,353.50 85.35,347.46 86.10,349.73 86.85,350.13 87.60,347.26 88.35,348.79 89.10,346.03 89.85,347.30 90.60,348.72 91.35,342.15 92.10,343.81 92.85,341.07 93.60,341.77 94.35,336.84 95.10,337.22 95.85,336.71 96.60,338.17 97.35,336.99 98.10,327.22 98.85,326.86 99.60,329.74 100.35,319.58 101.10,323.44 101.85,323.72 102.60,327.52 103.35,325.00 104.10,321.02 104.85,320.42 105.60,320.40 106.35,326.09 107.10,318.94 107.85,318.89 108.60,320.74 109.35,318.91 110.10,318.71 110.85,315.72 111.60,319.84 112.35,318.72 113.10,324.68 113.85,323.37 114.60,321.53 115.35,324.38 116.10,321.47 116.85,326.69 117.60,323.64 118.35,326.13 119.10,320.40 119.85,326.39 120.60,320.25 121.35,319.76 122.10,326.08 122.85,324.79 123.60,328.88 124.35,336.18 125.10,326.85 125.85,328.05 126.60,331.15 127.35,332.44 128.10,330.61 128.85,330.74 129.60,333.75 130.35,333.28 131.10,328.45 131.85,331.48 132.60,331.86 133.35,328.45 134.10,332.61 134.85,329.14 135.60,334.95 136.35,332.57 137.10,332.30 137.85,330.21 138.60,331.73 139.35,325.88 140.10,328.63 140.85,333.34 141.60,325.61 142.35,334.98 143.10,326.97 143.85,334.89 144.60,330.04 145.35,335.28 146.10,333.47 146.85,328.56 147.60,337.47 148.35,338.38 149.10,334.09 149.85,333.83 150.60,334.57 151.35,332.51 152.10,339.21 152.85,334.67 153.60,336.57 154.35,334.76 155.10,335.67 155.85,334.13 156.60,342.01 157.35,338.22 158.10,341.89 158.85,339.48 159.60,337.81 160.35,339.27 161.10,338.98 161.85,341.00 162.60,340.29 163.35,340.89 164.10,338.22 164.85,340.22 165.60,347.52 166.35,341.36 167.10,340.66 167.85,344.89 168.60,348.19 169.35,340.64 170.10,344.41 170.85,343.60 171.60,340.88 172.35,348.00 173.10,346.28 173.85,346.85 174.60,344.95 175.35,348.48 176.10,346.11 176.85,347.42 177.60,345.11 178.35,345.04 179.10,351.96 179.85,347.27 180.60,349.49 181.35,348.74 182.10,347.75 182.85,347.63 183.60,350.65 184.35,348.25 185.10,348.68 185.85,349.16 186.60,352.22 187.35,350.97 188.10,350.26 188.85,347.89 189.60,345.87 190.35,352.02 191.10,352.16 191.85,349.38 192.60,351.24 193.35,351.96 194.10,352.19 194.85,352.54 195.60,349.13 196.35,354.33 197.10,347.42 197.85,353.00 198.60,352.28 199.35,353.48 200.10,356.29 200.85,355.60 201.60,349.38 202.35,348.45 203.10,355.10 203.85,351.05 204.60,354.00 205.35,356.56 206.10,351.09 206.85,350.51 207.60,356.65 208.35,356.63 209.10,356.43 209.85,357.53 210.60,355.89 211.35,354.83 212.10,358.30 212.85,356.90 213.60,355.82 214.35,361.00 215.10,360.13 215.85,361.53 216.60,358.87 217.35,359.96 218.10,359.58 218.85,360.18 219.60,362.80 220.35,361.05 221.10,363.74 221.85,363.99 222.60,367.75 223.35,360.98 224.10,365.91 224.85,364.15 225.60,364.53 226.35,361.85 227.10,364.05 227.85,366.65 228.60,365.19 229.35,365.69 230.10,365.14 230.85,368.15 231.60,366.02 232.35,361.95 233.10,365.06 233.85,362.77 234.60,360.49 235.35,365.89 236.10,369.61 236.85,367.32 237.60,365.17 238.35,365.78 239.10,369.83 239.85,368.16 240.60,368.11 241.35,368.07 242.10,368.39 242.85,369.96 243.60,369.63 244.35,369.16 245.10,367.01 245.85,369.97 246.60,367.94 247.35,371.29 248.10,367.16 248.85,369.33 249.60,369.69 250.35,367.47 251.10,372.98 251.85,372.63 252.60,369.34 253.35,371.62 254.10,371.02 254.85,365.90 255.60,370.99 256.35,370.53 257.10,370.87 257.85,368.95 258.60,370.43 259.35,370.66 260.10,373.08 260.85,371.69 261.60,371.18 262.35,373.86 263.10,370.38 263.85,370.73 264.60,368.38 265.35,374.17 266.10,373.21 266.85,373.19 267.60,372.84 268.35,371.96 269.10,372.20 269.85,371.48 270.60,371.63 271.35,372.12 272.10,374.61 272.85,373.09 273.60,372.14 274.35,371.35 275.10,371.33 275.85,375.07 276.60,373.33 277.35,372.68 278.10,372.07 278.85,370.90 279.60,372.66 280.35,374.25 281.10,372.26 281.85,372.59 282.60,372.67 283.35,373.26 284.10,370.59 284.85,372.82 285.60,371.89 286.35,374.72 287.10,372.14 287.85,374.33 288.60,375.88 289.35,373.02 290.10,372.61 290.85,373.90 291.60,373.64 292.35,372.12 293.10,374.44 293.85,376.91 294.60,373.37 295.35,373.48 296.10,372.18 296.85,374.34 297.60,371.90 298.35,372.13 299.10,375.87 299.85,372.46 300.60,375.57 301.35,376.27 302.10,374.29 302.85,374.76 303.60,376.94 304.35,373.59 305.10,372.98 305.85,371.80 306.60,373.98 307.35,376.23 308.10,375.43 308.85,372.48 309.60,372.64 310.35,373.20 311.10,374.46 311.85,373.72 312.60,374.40 313.35,374.56 314.10,373.69 314.85,374.13 315.60,374.56 316.35,374.17 317.10,375.13 317.85,377.28 318.60,375.38 319.35,374.63 320.10,372.05 320.85,375.27 321.60,371.81 322.35,372.70 323.10,376.19 323.85,376.03 324.60,374.82 325.35,372.57 326.10,374.64 326.85,374.26 327.60,376.27 328.35,378.72 329.10,375.78 329.85,374.39 330.60,373.87 331.35,375.56 332.10,375.44 332.85,374.06 333.60,375.95 334.35,374.15 335.10,377.46 335.85,377.42 336.60,377.48 337.35,375.25 338.10,376.70 338.85,375.79 339.60,375.44 340.35,375.53 341.10,374.17 341.85,373.98 342.60,377.20 343.35,375.80 344.10,376.40 344.85,377.53 345.60,373.63 346.35,374.99 347.10,376.37 347.85,376.69 348.60,375.60 349.35,377.62 350.10,376.45 350.85,374.43 351.60,374.84 352.35,377.32 353.10,376.84 353.85,373.48" fill="none" stroke="#111" stroke-width="1.0" stroke-linejoin="round"/>
<polyline points="47.10,457.14 47.85,455.83 48.60,456.91 49.35,454.02 50.10,454.05 50.85,452.58 51.60,458.41 52.35,453.87 53.10,456.62 53.85,452.82 54.60,454.00 55.35,450.79 56.10,452.74 56.85,454.82 57.60,450.82 58.35,454.50 59.10,452.99 59.85,450.33 60.60,450.95 61.35,450.68 62.10,451.02 62.85,449.73 63.60,448.73 64.35,449.16 65.10,447.27 65.85,446.16 66.60,447.89 67.35,449.03 68.10,443.62 68.85,445.92 69.60,443.87 70.35,442.42 71.10,445.44 71.85,441.78 72.60,445.29 73.35,439.58 74.10,441.32 74.85,439.14 75.60,437.12 76.35,439.35 77.10,436.81 77.85,437.75 78.60,435.37 79.35,432.01 80.10,433.50 80.85,433.00 81.60,434.37 82.35,428.79 83.10,430.06 83.85,424.79 84.60,429.98 85.35,424.47 86.10,421.51 86.85,425.15 87.60,427.26 88.35,418.94 89.10,418.97 89.85,418.75 90.60,416.44 91.35,419.58 92.10,414.94 92.85,413.99 93.60,416.72 94.35,411.59 95.10,414.11 95.85,408.71 96.60,406.85 97.35,403.79 98.10,414.38 98.85,406.50 99.60,407.41 100.35,405.74 101.10,405.68 101.85,404.74 102.60,410.32 103.35,400.32 104.10,398.39 104.85,400.10 105.60,399.11 106.35,406.14 107.10,406.72 107.85,401.40 108.60,400.65 109.35,404.74 110.10,411.18 110.85,398.67 111.60,410.36 112.35,406.59 113.10,414.52 113.85,409.43 114.60,413.23 115.35,410.90 116.10,413.70 116.85,421.69 117.60,421.02 118.35,418.45 119.10,418.08 119.85,416.14 120.60,421.26 121.35,423.15 122.10,423.86 122.85,424.67 123.60,422.71 124.35,426.33 125.10,427.15 125.85,431.33 126.60,433.48 127.35,428.90 128.10,427.86 128.85,430.17 129.60,429.28 130.35,429.37 131.10,431.48 131.85,429.38 132.60,433.82 133.35,432.38 134.10,433.55 134.85,432.78 135.60,431.75 136.35,431.52 137.10,433.57 137.85,433.14 138.60,435.36 139.35,435.12 140.10,432.23 140.85,435.95 141.60,432.95 142.35,434.98 143.10,436.05 143.85,432.22 144.60,437.54 145.35,437.96 146.10,437.52 146.85,437.16 147.60,437.52 148.35,436.38 149.10,438.20 149.85,437.75 150.60,439.37 151.35,436.63 152.10,440.01 152.85,439.94 153.60,439.44 154.35,438.91 155.10,441.24 155.85,436.46 156.60,441.29 157.35,440.95 158.10,441.18 158.85,441.56 159.60,439.44 160.35,440.47 161.10,442.59 161.85,442.30 162.60,441.98 163.35,438.43 164.10,443.02 164.85,444.52 165.60,444.33 166.35,442.81 167.10,439.13 167.85,444.58 168.60,442.39 169.35,437.44 170.10,443.69 170.85,439.82 171.60,440.31 172.35,441.77 173.10,445.84 173.85,442.43 174.60,443.84 175.35,446.99 176.10,446.73 176.85,443.24 177.60,443.03 178.35,441.00 179.10,442.29 179.85,444.73 180.60,444.79 181.35,444.34 182.10,446.30 182.85,442.81 183.60,444.43 184.35,446.19 185.10,446.05 185.85,447.19 186.60,445.98 187.35,444.70 188.10,446.21 188.85,443.62 189.60,442.50 190.35,447.08 191.10,445.94 191.85,446.80 192.60,442.96 193.35,445.74 194.10,445.41 194.85,445.03 195.60,442.45 196.35,446.36 197.10,448.90 197.85,448.05 198.60,446.31 199.35,447.62 200.10,449.28 200.85,442.75 201.60,447.98 202.35,449.46 203.10,449.93 203.85,452.06 204.60,451.22 205.35,449.92 206.10,450.14 206.85,451.26 207.60,449.08 208.35,450.22 209.10,452.16 209.85,454.27 210.60,450.71 211.35,451.14 212.10,451.82 212.85,454.07 213.60,451.93 214.35,454.77 215.10,450.83 215.85,452.41 216.60,452.62 217.35,454.49 218.10,455.12 218.85,451.06 219.60,452.25 220.35,454.49 221.10,453.04 221.85,451.81 222.60,456.14 223.35,455.42 224.10,455.59 224.85,454.20 225.60,456.76 226.35,454.91 227.10,457.17 227.85,454.19 228.60,454.44 229.35,456.24 230.10,455.00 230.85,457.26 231.60,456.78 232.35,455.14 233.10,456.79 233.85,456.30 234.60,458.33 235.35,456.17 236.10,456.60 236.85,459.15 237.60,460.77 238.35,460.54 239.10,457.86 239.85,458.20 240.60,460.20 241.35,457.94 242.10,456.84 242.85,458.50 243.60,459.07 244.35,457.37 245.10,456.33 245.85,456.72 246.60,459.73 247.35,457.85 248.10,458.78 248.85,459.35 249.60,459.98 250.35,458.75 251.10,459.96 251.85,458.15 252.60,458.93 253.35,458.11 254.10,461.07 254.85,459.58 255.60,458.70 256.35,459.28 257.10,459.51 257.85,460.80 258.60,457.83 259.35,458.63 260.10,459.56 260.85,463.43 261.60,461.43 262.35,460.10 263.10,461.23 263.85,463.03 264.60,460.13 265.35,460.02 266.10,462.10 266.85,461.24 267.60,461.52 268.35,460.08 269.10,463.22 269.85,462.99 270.60,461.60 271.35,461.80 272.10,458.45 272.85,461.84 273.60,460.85 274.35,461.68 275.10,462.04 275.85,460.82 276.60,459.20 277.35,461.78 278.10,460.46 278.85,461.01 279.60,460.72 280.35,461.08 281.10,458.72 281.85,463.05 282.60,461.92 283.35,462.99 284.10,464.07 284.85,461.73 285.60,459.57 286.35,460.69 287.10,460.34 287.85,461.21 288.60,461.93 289.35,459.47 290.10,462.29 290.85,460.10 291.60,462.28 292.35,461.81 293.10,461.59 293.85,461.89 294.60,461.35 295.35,461.29 296.10,460.04 296.85,462.01 297.60,464.25 298.35,464.42 299.10,463.66 299.85,462.95 300.60,461.34 301.35,463.85 302.10,462.11 302.85,462.12 303.60,461.88 304.35,462.35 305.10,461.76 305.85,462.19 306.60,461.05 307.35,461.91 308.10,465.02 308.85,462.32 309.60,462.15 310.35,463.07 311.10,463.30 311.85,461.23 312.60,462.30 313.35,463.62 314.10,462.90 314.85,462.75 315.60,464.41 316.35,461.88 317.10,462.77 317.85,462.10 318.60,464.41 319.35,460.51 320.10,461.98 320.85,462.16 321.60,463.52 322.35,463.47 323.10,464.37 323.85,461.02 324.60,463.66 325.35,462.48 326.10,462.07 326.85,463.44 327.60,461.79 328.35,460.49 329.10,462.42 329.85,461.15 330.60,462.11 331.35,463.26 332.10,463.19 332.85,464.63 333.60,462.62 334.35,461.11 335.10,461.99 335.85,461.81 336.60,461.47 337.35,463.33 338.10,462.11 338.85,460.61 339.60,463.63 340.35,462.71 341.10,463.24 341.85,462.95 342.60,463.55 343.35,462.87 344.10,464.22 344.85,463.31 345.60,463.27 346.35,463.28 347.10,461.17 347.85,462.63 348.60,462.52 349.35,463.05 350.10,461.27 350.85,464.66 351.60,462.92 352.35,461.43 353.10,460.87 353.85,462.48" fill="none" stroke="#111" stroke-width="1.0" stroke-linejoin="round"/>
<polyline points="47.10,499.67 47.85,501.39 48.60,507.55 49.35,507.72 50.10,513.92 50.85,512.21 51.60,516.11 52.35,520.45 53.10,525.99 53.85,517.05 54.60,519.34 55.35,519.05 56.10,523.94 56.85,519.52 57.60,521.79 58.35,523.47 59.10,521.63 59.85,522.22 60.60,523.93 61.35,520.60 62.10,522.74 62.85,525.73 63.60,527.56 64.35,527.35 65.10,524.38 65.85,527.77 66.60,530.95 67.35,530.85 68.10,529.92 68.85,528.62 69.60,532.04 70.35,529.88 71.10,529.00 71.85,529.99 72.60,534.62 73.35,532.44 74.10,534.43 74.85,531.48 75.60,534.31 76.35,531.54 77.10,532.48 77.85,537.48 78.60,534.32 79.35,531.98 80.10,532.73 80.85,533.43 81.60,534.96 82.35,531.61 83.10,529.01 83.85,531.55 84.60,531.86 85.35,531.76 86.10,533.88 86.85,531.61 87.60,532.34 88.35,528.16 89.10,531.96 89.85,534.30 90.60,531.34 91.35,530.05 92.10,529.64 92.85,532.94 93.60,526.91 94.35,528.47 95.10,529.52 95.85,529.96 96.60,527.16 97.35,528.63 98.10,527.14 98.85,527.84 99.60,527.10 100.35,524.63 101.10,527.00 101.85,528.90 102.60,524.49 103.35,526.00 104.10,527.95 104.85,523.73 105.60,526.50 106.35,523.40 107.10,528.43 107.85,531.09 108.60,530.27 109.35,524.77 110.10,526.94 110.85,525.33 111.60,525.17 112.35,528.58 113.10,521.53 113.85,527.24 114.60,524.51 115.35,528.04 116.10,525.05 116.85,522.98 117.60,525.33 118.35,526.51 119.10,524.88 119.85,526.07 120.60,523.72 121.35,519.93 122.10,527.35 122.85,526.96 123.60,525.74 124.35,525.64 125.10,528.03 125.85,524.54 126.60,524.00 127.35,525.25 128.10,528.50 128.85,522.31 129.60,528.35 130.35,523.72 131.10,520.42 131.85,519.04 132.60,509.72 133.35,513.85 134.10,522.60 134.85,526.75 135.60,527.42 136.35,523.51 137.10,525.65 137.85,526.54 138.60,523.42 139.35,526.03 140.10,525.30 140.85,524.29 141.60,524.58 142.35,526.05 143.10,526.05 143.85,524.66 144.60,524.92 145.35,528.40 146.10,526.05 146.85,527.38 147.60,527.85 148.35,526.04 149.10,529.86 149.85,521.91 150.60,525.56 151.35,521.98 152.10,526.33 152.85,523.86 153.60,509.67 154.35,506.74 155.10,504.88 155.85,497.31 156.60,489.72 157.35,481.37 158.10,482.81 158.85,487.15 159.60,491.04 160.35,503.68 161.10,500.73 161.85,516.84 162.60,516.90 163.35,525.18 164.10,523.93 164.85,523.37 165.60,527.01 166.35,524.54 167.10,525.07 167.85,524.14 168.60,528.13 169.35,529.82 170.10,531.45 170.85,529.48 171.60,532.40 172.35,530.67 173.10,530.79 173.85,532.45 174.60,533.72 175.35,531.32 176.10,531.81 176.85,532.24 177.60,532.92 178.35,531.26 179.10,534.92 179.85,532.29 180.60,533.80 181.35,531.19 182.10,533.04 182.85,532.60 183.60,530.38 184.35,534.65 185.10,530.57 185.85,532.89 186.60,530.51 187.35,526.35 188.10,526.52 188.85,528.09 189.60,527.14 190.35,527.18 191.10,526.63 191.85,523.54 192.60,527.51 193.35,523.62 194.10,529.77 194.85,527.93 195.60,528.45 196.35,529.90 197.10,531.24 197.85,528.04 198.60,527.59 199.35,529.08 200.10,527.24 200.85,529.45 201.60,534.55 202.35,529.38 203.10,532.79 203.85,528.90 204.60,532.29 205.35,531.33 206.10,532.50 206.85,534.78 207.60,537.15 208.35,534.16 209.10,533.53 209.85,530.83 210.60,533.07 211.35,530.71 212.10,532.14 212.85,529.58 213.60,532.69 214.35,523.87 215.10,526.94 215.85,529.08 216.60,525.86 217.35,524.64 218.10,525.86 218.85,523.45 219.60,527.19 220.35,532.79 221.10,530.11 221.85,525.21 222.60,525.75 223.35,526.62 224.10,529.50 224.85,524.92 225.60,524.74 226.35,527.98 227.10,527.52 227.85,524.17 228.60,522.07 229.35,520.85 230.10,522.93 230.85,519.40 231.60,526.94 232.35,524.07 233.10,527.21 233.85,530.95 234.60,529.86 235.35,525.15 236.10,530.11 236.85,531.11 237.60,527.26 238.35,527.05 239.10,529.04 239.85,526.02 240.60,532.66 241.35,524.61 242.10,527.49 242.85,529.39 243.60,529.66 244.35,530.71 245.10,531.25 245.85,530.80 246.60,534.49 247.35,530.29 248.10,535.16 248.85,534.57 249.60,536.27 250.35,536.64 251.10,535.08 251.85,535.64 252.60,537.93 253.35,537.35 254.10,535.86 254.85,539.98 255.60,540.41 256.35,534.82 257.10,537.46 257.85,540.74 258.60,538.19 259.35,537.35 260.10,536.71 260.85,536.21 261.60,536.69 262.35,536.16 263.10,538.07 263.85,536.33 264.60,536.22 265.35,535.03 266.10,536.71 266.85,535.38 267.60,536.40 268.35,538.21 269.10,537.11 269.85,537.27 270.60,536.98 271.35,536.45 272.10,536.09 272.85,535.74 273.60,537.35 274.35,534.38 275.10,538.15 275.85,536.01 276.60,534.70 277.35,535.05 278.10,534.68 278.85,535.97 279.60,534.50 280.35,537.46 281.10,534.29 281.85,531.82 282.60,534.30 283.35,532.19 284.10,535.38 284.85,537.16 285.60,536.47 286.35,533.19 287.10,534.13 287.85,538.31 288.60,535.94 289.35,535.48 290.10,537.26 290.85,539.61 291.60,537.86 292.35,536.15 293.10,536.67 293.85,537.31 294.60,535.74 295.35,535.50 296.10,537.57 296.85,536.63 297.60,538.28 298.35,538.89 299.10,542.05 299.85,538.36 300.60,539.49 301.35,539.64 302.10,540.47 302.85,541.26 303.60,539.59 304.35,539.27 305.10,538.38 305.85,539.18 306.60,540.81 307.35,540.24 308.10,539.04 308.85,539.72 309.60,540.13 310.35,540.63 311.10,539.33 311.85,539.66 312.60,537.80 313.35,538.50 314.10,541.67 314.85,537.13 315.60,539.25 316.35,539.84 317.10,539.07 317.85,538.47 318.60,539.31 319.35,539.31 320.10,539.16 320.85,536.87 321.60,538.95 322.35,538.01 323.10,538.34 323.85,539.27 324.60,539.75 325.35,540.02 326.10,538.18 326.85,539.95 327.60,540.22 328.35,540.11 329.10,540.38 329.85,538.28 330.60,538.17 331.35,539.44 332.10,536.41 332.85,538.47 333.60,537.39 334.35,537.54 335.10,535.57 335.85,536.67 336.60,537.82 337.35,539.03 338.10,539.13 338.85,537.56 339.60,537.37 340.35,536.41 341.10,538.14 341.85,537.20 342.60,538.41 343.35,540.07 344.10,537.55 344.85,535.56 345.60,536.57 346.35,535.92 347.10,536.52 347.85,540.15 348.60,539.04 349.35,537.25 350.10,540.40 350.85,541.55 351.60,540.27 352.35,540.41 353.10,541.08 353.85,541.97" fill="none" stroke="#111" stroke-width="1.0" stroke-linejoin="round"/>
<polyline points="47.10,619.51 47.85,622.05 48.60,623.27 49.35,623.75 50.10,623.94 50.85,621.26 51.60,614.25 52.35,615.50 53.10,614.79 53.85,611.44 54.60,613.88 55.35,609.67 56.10,607.63 56.85,614.05 57.60,611.67 58.35,610.28 59.10,612.23 59.85,612.59 60.60,610.54 61.35,602.58 62.10,607.69 62.85,608.35 63.60,606.89 64.35,610.27 65.10,613.10 65.85,608.32 66.60,606.47 67.35,615.51 68.10,608.56 68.85,606.46 69.60,610.73 70.35,611.34 71.10,608.20 71.85,612.39 72.60,608.69 73.35,607.24 74.10,610.06 74.85,611.34 75.60,606.79 76.35,609.01 77.10,607.12 77.85,615.17 78.60,603.83 79.35,609.48 80.10,604.31 80.85,603.32 81.60,605.27 82.35,605.14 83.10,605.68 83.85,601.95 84.60,598.19 85.35,597.67 86.10,600.47 86.85,600.00 87.60,602.08 88.35,597.95 89.10,599.40 89.85,600.21 90.60,594.51 91.35,587.57 92.10,587.59 92.85,585.48 93.60,595.65 94.35,585.24 95.10,592.00 95.85,588.32 96.60,591.61 97.35,587.64 98.10,581.98 98.85,580.31 99.60,580.21 100.35,579.32 101.10,575.08 101.85,575.94 102.60,581.80 103.35,566.23 104.10,573.54 104.85,567.13 105.60,570.76 106.35,572.52 107.10,567.30 107.85,570.08 108.60,558.26 109.35,570.03 110.10,561.50 110.85,566.97 111.60,564.93 112.35,552.16 113.10,560.90 113.85,565.67 114.60,572.12 115.35,566.51 116.10,566.67 116.85,559.28 117.60,572.77 118.35,574.88 119.10,567.14 119.85,566.48 120.60,560.66 121.35,572.64 122.10,581.58 122.85,573.56 123.60,577.03 124.35,574.98 125.10,569.49 125.85,580.66 126.60,570.62 127.35,575.85 128.10,578.64 128.85,581.81 129.60,580.43 130.35,580.86 131.10,576.63 131.85,574.98 132.60,581.06 133.35,578.43 134.10,576.54 134.85,577.29 135.60,581.03 136.35,576.25 137.10,579.03 137.85,578.70 138.60,586.64 139.35,588.29 140.10,595.18 140.85,582.43 141.60,586.20 142.35,592.77 143.10,588.99 143.85,589.00 144.60,596.91 145.35,589.57 146.10,586.79 146.85,586.41 147.60,592.69 148.35,592.74 149.10,586.73 149.85,588.29 150.60,594.00 151.35,594.28 152.10,589.95 152.85,594.71 153.60,594.66 154.35,586.26 155.10,591.78 155.85,594.61 156.60,591.25 157.35,585.85 158.10,592.78 158.85,596.74 159.60,599.95 160.35,586.78 161.10,604.11 161.85,591.13 162.60,598.76 163.35,599.99 164.10,599.37 164.85,596.72 165.60,592.42 166.35,598.88 167.10,594.48 167.85,588.49 168.60,607.12 169.35,600.03 170.10,604.02 170.85,594.90 171.60,603.18 172.35,603.77 173.10,603.81 173.85,598.65 174.60,594.81 175.35,598.40 176.10,591.72 176.85,593.52 177.60,599.61 178.35,596.04 179.10,598.85 179.85,599.04 180.60,605.82 181.35,603.62 182.10,599.02 182.85,603.11 183.60,596.28 184.35,597.64 185.10,601.72 185.85,594.32 186.60,597.49 187.35,593.90 188.10,598.75 188.85,603.92 189.60,595.90 190.35,599.32 191.10,595.67 191.85,594.99 192.60,594.89 193.35,604.13 194.10,607.37 194.85,601.32 195.60,597.58 196.35,602.55 197.10,599.38 197.85,603.38 198.60,601.96 199.35,602.19 200.10,603.51 200.85,599.93 201.60,600.78 202.35,596.85 203.10,601.27 203.85,598.47 204.60,602.85 205.35,600.61 206.10,604.26 206.85,605.67 207.60,600.16 208.35,602.36 209.10,602.26 209.85,607.72 210.60,610.90 211.35,608.54 212.10,605.13 212.85,610.82 213.60,602.09 214.35,611.33 215.10,605.10 215.85,599.01 216.60,615.31 217.35,612.33 218.10,604.87 218.85,608.62 219.60,607.74 220.35,608.91 221.10,604.60 221.85,607.21 222.60,610.80 223.35,610.41 224.10,613.48 224.85,610.64 225.60,617.29 226.35,609.09 227.10,612.10 227.85,606.46 228.60,608.59 229.35,615.87 230.10,610.01 230.85,614.20 231.60,612.83 232.35,610.43 233.10,612.46 233.85,612.20 234.60,612.43 235.35,615.82 236.10,615.69 236.85,612.62 237.60,611.90 238.35,615.11 239.10,614.25 239.85,617.28 240.60,621.57 241.35,617.08 242.10,614.99 242.85,614.80 243.60,613.23 244.35,613.27 245.10,613.19 245.85,614.87 246.60,614.95 247.35,618.00 248.10,615.33 248.85,615.97 249.60,613.60 250.35,620.73 251.10,618.07 251.85,621.29 252.60,618.99 253.35,620.75 254.10,616.65 254.85,619.05 255.60,623.89 256.35,614.56 257.10,620.36 257.85,621.67 258.60,618.69 259.35,619.58 260.10,620.87 260.85,616.32 261.60,618.97 262.35,615.96 263.10,616.51 263.85,616.73 264.60,617.95 265.35,618.72 266.10,619.53 266.85,615.15 267.60,623.31 268.35,621.42 269.10,620.48 269.85,618.00 270.60,618.71 271.35,620.28 272.10,620.04 272.85,615.21 273.60,620.95 274.35,626.09 275.10,615.07 275.85,621.75 276.60,620.37 277.35,619.32 278.10,622.82 278.85,616.99 279.60,620.15 280.35,623.20 281.10,619.45 281.85,619.00 282.60,620.28 283.35,619.05 284.10,623.64 284.85,618.10 285.60,622.20 286.35,617.42 287.10,621.82 287.85,620.10 288.60,614.54 289.35,620.41 290.10,618.05 290.85,619.49 291.60,624.00 292.35,618.05 293.10,618.22 293.85,623.86 294.60,620.92 295.35,624.15 296.10,621.45 296.85,618.78 297.60,620.64 298.35,623.56 299.10,622.94 299.85,620.88 300.60,621.01 301.35,620.68 302.10,619.68 302.85,625.28 303.60,621.04 304.35,618.55 305.10,620.03 305.85,622.72 306.60,622.56 307.35,620.87 308.10,619.73 308.85,621.28 309.60,617.57 310.35,618.42 311.10,623.06 311.85,620.28 312.60,622.18 313.35,624.05 314.10,622.83 314.85,621.48 315.60,626.11 316.35,622.94 317.10,620.73 317.85,623.13 318.60,622.44 319.35,619.71 320.10,621.76 320.85,621.26 321.60,617.37 322.35,621.29 323.10,621.07 323.85,620.76 324.60,618.17 325.35,620.98 326.10,621.68 326.85,622.01 327.60,619.36 328.35,623.20 329.10,619.23 329.85,621.39 330.60,624.70 331.35,620.42 332.10,620.83 332.85,624.26 333.60,621.15 334.35,621.35 335.10,622.48 335.85,624.28 336.60,617.33 337.35,620.30 338.10,619.93 338.85,619.79 339.60,620.30 340.35,620.35 341.10,622.80 341.85,620.29 342.60,622.46 343.35,623.07 344.10,620.69 344.85,622.53 345.60,625.74 346.35,622.98 347.10,620.97 347.85,622.20 348.60,620.42 349.35,622.94 350.10,624.21 350.85,620.68 351.60,621.99 352.35,624.78 353.10,621.42 353.85,622.88" fill="none" stroke="#111" stroke-width="1.0" stroke-linejoin="round"/>
</g>
<rect x="46.5" y="304.5" width="308.00" height="83.00" fill="none" stroke="#222" stroke-width="1.3"/>
<rect x="46.5" y="387.5" width="308.00" height="83.00" fill="none" stroke="#222" stroke-width="1.3"/>
<rect x="46.5" y="470.5" width="308.00" height="83.00" fill="none" stroke="#222" stroke-width="1.3"/>
<rect x="46.5" y="553.5" width="308.00" height="83.00" fill="none" stroke="#222" stroke-width="1.3"/>
<line x1="57.06" y1="387.50" x2="57.06" y2="385.50" stroke="#333" stroke-width="0.9"/>
<line x1="57.06" y1="304.50" x2="57.06" y2="306.50" stroke="#333" stroke-width="0.9"/>
<line x1="67.31" y1="387.50" x2="67.31" y2="383.90" stroke="#333" stroke-width="0.9"/>
<line x1="67.31" y1="304.50" x2="67.31" y2="308.10" stroke="#333" stroke-width="0.9"/>
<line x1="77.57" y1="387.50" x2="77.57" y2="385.50" stroke="#333" stroke-width="0.9"/>
<line x1="77.57" y1="304.50" x2="77.57" y2="306.50" stroke="#333" stroke-width="0.9"/>
<line x1="87.83" y1="387.50" x2="87.83" y2="383.90" stroke="#333" stroke-width="0.9"/>
<line x1="87.83" y1="304.50" x2="87.83" y2="308.10" stroke="#333" stroke-width="0.9"/>
<line x1="98.09" y1="387.50" x2="98.09" y2="385.50" stroke="#333" stroke-width="0.9"/>
<line x1="98.09" y1="304.50" x2="98.09" y2="306.50" stroke="#333" stroke-width="0.9"/>
<line x1="108.34" y1="387.50" x2="108.34" y2="383.90" stroke="#333" stroke-width="0.9"/>
<line x1="108.34" y1="304.50" x2="108.34" y2="308.10" stroke="#333" stroke-width="0.9"/>
<line x1="118.60" y1="387.50" x2="118.60" y2="385.50" stroke="#333" stroke-width="0.9"/>
<line x1="118.60" y1="304.50" x2="118.60" y2="306.50" stroke="#333" stroke-width="0.9"/>
<line x1="128.86" y1="387.50" x2="128.86" y2="383.90" stroke="#333" stroke-width="0.9"/>
<line x1="128.86" y1="304.50" x2="128.86" y2="308.10" stroke="#333" stroke-width="0.9"/>
<line x1="139.12" y1="387.50" x2="139.12" y2="385.50" stroke="#333" stroke-width="0.9"/>
<line x1="139.12" y1="304.50" x2="139.12" y2="306.50" stroke="#333" stroke-width="0.9"/>
<line x1="149.38" y1="387.50" x2="149.38" y2="383.90" stroke="#333" stroke-width="0.9"/>
<line x1="149.38" y1="304.50" x2="149.38" y2="308.10" stroke="#333" stroke-width="0.9"/>
<line x1="159.63" y1="387.50" x2="159.63" y2="385.50" stroke="#333" stroke-width="0.9"/>
<line x1="159.63" y1="304.50" x2="159.63" y2="306.50" stroke="#333" stroke-width="0.9"/>
<line x1="169.89" y1="387.50" x2="169.89" y2="383.90" stroke="#333" stroke-width="0.9"/>
<line x1="169.89" y1="304.50" x2="169.89" y2="308.10" stroke="#333" stroke-width="0.9"/>
<line x1="180.15" y1="387.50" x2="180.15" y2="385.50" stroke="#333" stroke-width="0.9"/>
<line x1="180.15" y1="304.50" x2="180.15" y2="306.50" stroke="#333" stroke-width="0.9"/>
<line x1="190.40" y1="387.50" x2="190.40" y2="383.90" stroke="#333" stroke-width="0.9"/>
<line x1="190.40" y1="304.50" x2="190.40" y2="308.10" stroke="#333" stroke-width="0.9"/>
<line x1="200.66" y1="387.50" x2="200.66" y2="385.50" stroke="#333" stroke-width="0.9"/>
<line x1="200.66" y1="304.50" x2="200.66" y2="306.50" stroke="#333" stroke-width="0.9"/>
<line x1="210.92" y1="387.50" x2="210.92" y2="383.90" stroke="#333" stroke-width="0.9"/>
<line x1="210.92" y1="304.50" x2="210.92" y2="308.10" stroke="#333" stroke-width="0.9"/>
<line x1="221.18" y1="387.50" x2="221.18" y2="385.50" stroke="#333" stroke-width="0.9"/>
<line x1="221.18" y1="304.50" x2="221.18" y2="306.50" stroke="#333" stroke-width="0.9"/>
<line x1="231.44" y1="387.50" x2="231.44" y2="383.90" stroke="#333" stroke-width="0.9"/>
<line x1="231.44" y1="304.50" x2="231.44" y2="308.10" stroke="#333" stroke-width="0.9"/>
<line x1="241.69" y1="387.50" x2="241.69" y2="385.50" stroke="#333" stroke-width="0.9"/>
<line x1="241.69" y1="304.50" x2="241.69" y2="306.50" stroke="#333" stroke-width="0.9"/>
<line x1="251.95" y1="387.50" x2="251.95" y2="383.90" stroke="#333" stroke-width="0.9"/>
<line x1="251.95" y1="304.50" x2="251.95" y2="308.10" stroke="#333" stroke-width="0.9"/>
<line x1="262.21" y1="387.50" x2="262.21" y2="385.50" stroke="#333" stroke-width="0.9"/>
<line x1="262.21" y1="304.50" x2="262.21" y2="306.50" stroke="#333" stroke-width="0.9"/>
<line x1="272.46" y1="387.50" x2="272.46" y2="383.90" stroke="#333" stroke-width="0.9"/>
<line x1="272.46" y1="304.50" x2="272.46" y2="308.10" stroke="#333" stroke-width="0.9"/>
<line x1="282.72" y1="387.50" x2="282.72" y2="385.50" stroke="#333" stroke-width="0.9"/>
<line x1="282.72" y1="304.50" x2="282.72" y2="306.50" stroke="#333" stroke-width="0.9"/>
<line x1="292.98" y1="387.50" x2="292.98" y2="383.90" stroke="#333" stroke-width="0.9"/>
<line x1="292.98" y1="304.50" x2="292.98" y2="308.10" stroke="#333" stroke-width="0.9"/>
<line x1="303.24" y1="387.50" x2="303.24" y2="385.50" stroke="#333" stroke-width="0.9"/>
<line x1="303.24" y1="304.50" x2="303.24" y2="306.50" stroke="#333" stroke-width="0.9"/>
<line x1="313.50" y1="387.50" x2="313.50" y2="383.90" stroke="#333" stroke-width="0.9"/>
<line x1="313.50" y1="304.50" x2="313.50" y2="308.10" stroke="#333" stroke-width="0.9"/>
<line x1="323.75" y1="387.50" x2="323.75" y2="385.50" stroke="#333" stroke-width="0.9"/>
<line x1="323.75" y1="304.50" x2="323.75" y2="306.50" stroke="#333" stroke-width="0.9"/>
<line x1="334.01" y1="387.50" x2="334.01" y2="383.90" stroke="#333" stroke-width="0.9"/>
<line x1="334.01" y1="304.50" x2="334.01" y2="308.10" stroke="#333" stroke-width="0.9"/>
<line x1="344.27" y1="387.50" x2="344.27" y2="385.50" stroke="#333" stroke-width="0.9"/>
<line x1="344.27" y1="304.50" x2="344.27" y2="306.50" stroke="#333" stroke-width="0.9"/>
<line x1="57.06" y1="470.50" x2="57.06" y2="468.50" stroke="#333" stroke-width="0.9"/>
<line x1="67.31" y1="470.50" x2="67.31" y2="466.90" stroke="#333" stroke-width="0.9"/>
<line x1="77.57" y1="470.50" x2="77.57" y2="468.50" stroke="#333" stroke-width="0.9"/>
<line x1="87.83" y1="470.50" x2="87.83" y2="466.90" stroke="#333" stroke-width="0.9"/>
<line x1="98.09" y1="470.50" x2="98.09" y2="468.50" stroke="#333" stroke-width="0.9"/>
<line x1="108.34" y1="470.50" x2="108.34" y2="466.90" stroke="#333" stroke-width="0.9"/>
<line x1="118.60" y1="470.50" x2="118.60" y2="468.50" stroke="#333" stroke-width="0.9"/>
<line x1="128.86" y1="470.50" x2="128.86" y2="466.90" stroke="#333" stroke-width="0.9"/>
<line x1="139.12" y1="470.50" x2="139.12" y2="468.50" stroke="#333" stroke-width="0.9"/>
<line x1="149.38" y1="470.50" x2="149.38" y2="466.90" stroke="#333" stroke-width="0.9"/>
<line x1="159.63" y1="470.50" x2="159.63" y2="468.50" stroke="#333" stroke-width="0.9"/>
<line x1="169.89" y1="470.50" x2="169.89" y2="466.90" stroke="#333" stroke-width="0.9"/>
<line x1="180.15" y1="470.50" x2="180.15" y2="468.50" stroke="#333" stroke-width="0.9"/>
<line x1="190.40" y1="470.50" x2="190.40" y2="466.90" stroke="#333" stroke-width="0.9"/>
<line x1="200.66" y1="470.50" x2="200.66" y2="468.50" stroke="#333" stroke-width="0.9"/>
<line x1="210.92" y1="470.50" x2="210.92" y2="466.90" stroke="#333" stroke-width="0.9"/>
<line x1="221.18" y1="470.50" x2="221.18" y2="468.50" stroke="#333" stroke-width="0.9"/>
<line x1="231.44" y1="470.50" x2="231.44" y2="466.90" stroke="#333" stroke-width="0.9"/>
<line x1="241.69" y1="470.50" x2="241.69" y2="468.50" stroke="#333" stroke-width="0.9"/>
<line x1="251.95" y1="470.50" x2="251.95" y2="466.90" stroke="#333" stroke-width="0.9"/>
<line x1="262.21" y1="470.50" x2="262.21" y2="468.50" stroke="#333" stroke-width="0.9"/>
<line x1="272.46" y1="470.50" x2="272.46" y2="466.90" stroke="#333" stroke-width="0.9"/>
<line x1="282.72" y1="470.50" x2="282.72" y2="468.50" stroke="#333" stroke-width="0.9"/>
<line x1="292.98" y1="470.50" x2="292.98" y2="466.90" stroke="#333" stroke-width="0.9"/>
<line x1="303.24" y1="470.50" x2="303.24" y2="468.50" stroke="#333" stroke-width="0.9"/>
<line x1="313.50" y1="470.50" x2="313.50" y2="466.90" stroke="#333" stroke-width="0.9"/>
<line x1="323.75" y1="470.50" x2="323.75" y2="468.50" stroke="#333" stroke-width="0.9"/>
<line x1="334.01" y1="470.50" x2="334.01" y2="466.90" stroke="#333" stroke-width="0.9"/>
<line x1="344.27" y1="470.50" x2="344.27" y2="468.50" stroke="#333" stroke-width="0.9"/>
<line x1="57.06" y1="553.50" x2="57.06" y2="551.50" stroke="#333" stroke-width="0.9"/>
<line x1="67.31" y1="553.50" x2="67.31" y2="549.90" stroke="#333" stroke-width="0.9"/>
<line x1="77.57" y1="553.50" x2="77.57" y2="551.50" stroke="#333" stroke-width="0.9"/>
<line x1="87.83" y1="553.50" x2="87.83" y2="549.90" stroke="#333" stroke-width="0.9"/>
<line x1="98.09" y1="553.50" x2="98.09" y2="551.50" stroke="#333" stroke-width="0.9"/>
<line x1="108.34" y1="553.50" x2="108.34" y2="549.90" stroke="#333" stroke-width="0.9"/>
<line x1="118.60" y1="553.50" x2="118.60" y2="551.50" stroke="#333" stroke-width="0.9"/>
<line x1="128.86" y1="553.50" x2="128.86" y2="549.90" stroke="#333" stroke-width="0.9"/>
<line x1="139.12" y1="553.50" x2="139.12" y2="551.50" stroke="#333" stroke-width="0.9"/>
<line x1="149.38" y1="553.50" x2="149.38" y2="549.90" stroke="#333" stroke-width="0.9"/>
<line x1="159.63" y1="553.50" x2="159.63" y2="551.50" stroke="#333" stroke-width="0.9"/>
<line x1="169.89" y1="553.50" x2="169.89" y2="549.90" stroke="#333" stroke-width="0.9"/>
<line x1="180.15" y1="553.50" x2="180.15" y2="551.50" stroke="#333" stroke-width="0.9"/>
<line x1="190.40" y1="553.50" x2="190.40" y2="549.90" stroke="#333" stroke-width="0.9"/>
<line x1="200.66" y1="553.50" x2="200.66" y2="551.50" stroke="#333" stroke-width="0.9"/>
<line x1="210.92" y1="553.50" x2="210.92" y2="549.90" stroke="#333" stroke-width="0.9"/>
<line x1="221.18" y1="553.50" x2="221.18" y2="551.50" stroke="#333" stroke-width="0.9"/>
<line x1="231.44" y1="553.50" x2="231.44" y2="549.90" stroke="#333" stroke-width="0.9"/>
<line x1="241.69" y1="553.50" x2="241.69" y2="551.50" stroke="#333" stroke-width="0.9"/>
<line x1="251.95" y1="553.50" x2="251.95" y2="549.90" stroke="#333" stroke-width="0.9"/>
<line x1="262.21" y1="553.50" x2="262.21" y2="551.50" stroke="#333" stroke-width="0.9"/>
<line x1="272.46" y1="553.50" x2="272.46" y2="549.90" stroke="#333" stroke-width="0.9"/>
<line x1="282.72" y1="553.50" x2="282.72" y2="551.50" stroke="#333" stroke-width="0.9"/>
<line x1="292.98" y1="553.50" x2="292.98" y2="549.90" stroke="#333" stroke-width="0.9"/>
<line x1="303.24" y1="553.50" x2="303.24" y2="551.50" stroke="#333" stroke-width="0.9"/>
<line x1="313.50" y1="553.50" x2="313.50" y2="549.90" stroke="#333" stroke-width="0.9"/>
<line x1="323.75" y1="553.50" x2="323.75" y2="551.50" stroke="#333" stroke-width="0.9"/>
<line x1="334.01" y1="553.50" x2="334.01" y2="549.90" stroke="#333" stroke-width="0.9"/>
<line x1="344.27" y1="553.50" x2="344.27" y2="551.50" stroke="#333" stroke-width="0.9"/>
<line x1="57.06" y1="636.50" x2="57.06" y2="634.50" stroke="#333" stroke-width="0.9"/>
<line x1="67.31" y1="636.50" x2="67.31" y2="632.90" stroke="#333" stroke-width="0.9"/>
<line x1="77.57" y1="636.50" x2="77.57" y2="634.50" stroke="#333" stroke-width="0.9"/>
<line x1="87.83" y1="636.50" x2="87.83" y2="632.90" stroke="#333" stroke-width="0.9"/>
<line x1="98.09" y1="636.50" x2="98.09" y2="634.50" stroke="#333" stroke-width="0.9"/>
<line x1="108.34" y1="636.50" x2="108.34" y2="632.90" stroke="#333" stroke-width="0.9"/>
<line x1="118.60" y1="636.50" x2="118.60" y2="634.50" stroke="#333" stroke-width="0.9"/>
<line x1="128.86" y1="636.50" x2="128.86" y2="632.90" stroke="#333" stroke-width="0.9"/>
<line x1="139.12" y1="636.50" x2="139.12" y2="634.50" stroke="#333" stroke-width="0.9"/>
<line x1="149.38" y1="636.50" x2="149.38" y2="632.90" stroke="#333" stroke-width="0.9"/>
<line x1="159.63" y1="636.50" x2="159.63" y2="634.50" stroke="#333" stroke-width="0.9"/>
<line x1="169.89" y1="636.50" x2="169.89" y2="632.90" stroke="#333" stroke-width="0.9"/>
<line x1="180.15" y1="636.50" x2="180.15" y2="634.50" stroke="#333" stroke-width="0.9"/>
<line x1="190.40" y1="636.50" x2="190.40" y2="632.90" stroke="#333" stroke-width="0.9"/>
<line x1="200.66" y1="636.50" x2="200.66" y2="634.50" stroke="#333" stroke-width="0.9"/>
<line x1="210.92" y1="636.50" x2="210.92" y2="632.90" stroke="#333" stroke-width="0.9"/>
<line x1="221.18" y1="636.50" x2="221.18" y2="634.50" stroke="#333" stroke-width="0.9"/>
<line x1="231.44" y1="636.50" x2="231.44" y2="632.90" stroke="#333" stroke-width="0.9"/>
<line x1="241.69" y1="636.50" x2="241.69" y2="634.50" stroke="#333" stroke-width="0.9"/>
<line x1="251.95" y1="636.50" x2="251.95" y2="632.90" stroke="#333" stroke-width="0.9"/>
<line x1="262.21" y1="636.50" x2="262.21" y2="634.50" stroke="#333" stroke-width="0.9"/>
<line x1="272.46" y1="636.50" x2="272.46" y2="632.90" stroke="#333" stroke-width="0.9"/>
<line x1="282.72" y1="636.50" x2="282.72" y2="634.50" stroke="#333" stroke-width="0.9"/>
<line x1="292.98" y1="636.50" x2="292.98" y2="632.90" stroke="#333" stroke-width="0.9"/>
<line x1="303.24" y1="636.50" x2="303.24" y2="634.50" stroke="#333" stroke-width="0.9"/>
<line x1="313.50" y1="636.50" x2="313.50" y2="632.90" stroke="#333" stroke-width="0.9"/>
<line x1="323.75" y1="636.50" x2="323.75" y2="634.50" stroke="#333" stroke-width="0.9"/>
<line x1="334.01" y1="636.50" x2="334.01" y2="632.90" stroke="#333" stroke-width="0.9"/>
<line x1="344.27" y1="636.50" x2="344.27" y2="634.50" stroke="#333" stroke-width="0.9"/>
<line x1="46.50" y1="377.15" x2="49.30" y2="377.15" stroke="#333" stroke-width="0.9"/>
<line x1="354.50" y1="377.15" x2="351.70" y2="377.15" stroke="#333" stroke-width="0.9"/>
<line x1="46.50" y1="366.60" x2="51.70" y2="366.60" stroke="#333" stroke-width="0.9"/>
<line x1="354.50" y1="366.60" x2="349.30" y2="366.60" stroke="#333" stroke-width="0.9"/>
<line x1="46.50" y1="356.05" x2="49.30" y2="356.05" stroke="#333" stroke-width="0.9"/>
<line x1="354.50" y1="356.05" x2="351.70" y2="356.05" stroke="#333" stroke-width="0.9"/>
<line x1="46.50" y1="345.50" x2="51.70" y2="345.50" stroke="#333" stroke-width="0.9"/>
<line x1="354.50" y1="345.50" x2="349.30" y2="345.50" stroke="#333" stroke-width="0.9"/>
<line x1="46.50" y1="334.95" x2="49.30" y2="334.95" stroke="#333" stroke-width="0.9"/>
<line x1="354.50" y1="334.95" x2="351.70" y2="334.95" stroke="#333" stroke-width="0.9"/>
<line x1="46.50" y1="324.40" x2="51.70" y2="324.40" stroke="#333" stroke-width="0.9"/>
<line x1="354.50" y1="324.40" x2="349.30" y2="324.40" stroke="#333" stroke-width="0.9"/>
<line x1="46.50" y1="313.85" x2="49.30" y2="313.85" stroke="#333" stroke-width="0.9"/>
<line x1="354.50" y1="313.85" x2="351.70" y2="313.85" stroke="#333" stroke-width="0.9"/>
<text x="39.80" y="391.00" font-size="9.8" text-anchor="end" textLength="6.65" lengthAdjust="spacingAndGlyphs">0</text>
<text x="39.80" y="369.90" font-size="9.8" text-anchor="end" textLength="13.30" lengthAdjust="spacingAndGlyphs">33</text>
<text x="39.80" y="348.80" font-size="9.8" text-anchor="end" textLength="13.30" lengthAdjust="spacingAndGlyphs">66</text>
<text x="39.80" y="327.70" font-size="9.8" text-anchor="end" textLength="13.30" lengthAdjust="spacingAndGlyphs">99</text>
<line x1="46.50" y1="460.30" x2="49.30" y2="460.30" stroke="#333" stroke-width="0.9"/>
<line x1="354.50" y1="460.30" x2="351.70" y2="460.30" stroke="#333" stroke-width="0.9"/>
<line x1="46.50" y1="449.80" x2="51.70" y2="449.80" stroke="#333" stroke-width="0.9"/>
<line x1="354.50" y1="449.80" x2="349.30" y2="449.80" stroke="#333" stroke-width="0.9"/>
<line x1="46.50" y1="439.30" x2="49.30" y2="439.30" stroke="#333" stroke-width="0.9"/>
<line x1="354.50" y1="439.30" x2="351.70" y2="439.30" stroke="#333" stroke-width="0.9"/>
<line x1="46.50" y1="428.80" x2="51.70" y2="428.80" stroke="#333" stroke-width="0.9"/>
<line x1="354.50" y1="428.80" x2="349.30" y2="428.80" stroke="#333" stroke-width="0.9"/>
<line x1="46.50" y1="418.30" x2="49.30" y2="418.30" stroke="#333" stroke-width="0.9"/>
<line x1="354.50" y1="418.30" x2="351.70" y2="418.30" stroke="#333" stroke-width="0.9"/>
<line x1="46.50" y1="407.80" x2="51.70" y2="407.80" stroke="#333" stroke-width="0.9"/>
<line x1="354.50" y1="407.80" x2="349.30" y2="407.80" stroke="#333" stroke-width="0.9"/>
<line x1="46.50" y1="397.30" x2="49.30" y2="397.30" stroke="#333" stroke-width="0.9"/>
<line x1="354.50" y1="397.30" x2="351.70" y2="397.30" stroke="#333" stroke-width="0.9"/>
<text x="39.80" y="474.10" font-size="9.8" text-anchor="end" textLength="6.65" lengthAdjust="spacingAndGlyphs">0</text>
<text x="39.80" y="453.10" font-size="9.8" text-anchor="end" textLength="13.30" lengthAdjust="spacingAndGlyphs">42</text>
<text x="39.80" y="432.10" font-size="9.8" text-anchor="end" textLength="13.30" lengthAdjust="spacingAndGlyphs">84</text>
<text x="39.80" y="411.10" font-size="9.8" text-anchor="end" textLength="19.95" lengthAdjust="spacingAndGlyphs">126</text>
<line x1="46.50" y1="544.30" x2="51.70" y2="544.30" stroke="#333" stroke-width="0.9"/>
<line x1="354.50" y1="544.30" x2="349.30" y2="544.30" stroke="#333" stroke-width="0.9"/>
<line x1="46.50" y1="534.23" x2="49.30" y2="534.23" stroke="#333" stroke-width="0.9"/>
<line x1="354.50" y1="534.23" x2="351.70" y2="534.23" stroke="#333" stroke-width="0.9"/>
<line x1="46.50" y1="524.17" x2="51.70" y2="524.17" stroke="#333" stroke-width="0.9"/>
<line x1="354.50" y1="524.17" x2="349.30" y2="524.17" stroke="#333" stroke-width="0.9"/>
<line x1="46.50" y1="514.10" x2="49.30" y2="514.10" stroke="#333" stroke-width="0.9"/>
<line x1="354.50" y1="514.10" x2="351.70" y2="514.10" stroke="#333" stroke-width="0.9"/>
<line x1="46.50" y1="504.04" x2="51.70" y2="504.04" stroke="#333" stroke-width="0.9"/>
<line x1="354.50" y1="504.04" x2="349.30" y2="504.04" stroke="#333" stroke-width="0.9"/>
<line x1="46.50" y1="493.97" x2="49.30" y2="493.97" stroke="#333" stroke-width="0.9"/>
<line x1="354.50" y1="493.97" x2="351.70" y2="493.97" stroke="#333" stroke-width="0.9"/>
<line x1="46.50" y1="483.91" x2="51.70" y2="483.91" stroke="#333" stroke-width="0.9"/>
<line x1="354.50" y1="483.91" x2="349.30" y2="483.91" stroke="#333" stroke-width="0.9"/>
<line x1="46.50" y1="473.84" x2="49.30" y2="473.84" stroke="#333" stroke-width="0.9"/>
<line x1="354.50" y1="473.84" x2="351.70" y2="473.84" stroke="#333" stroke-width="0.9"/>
<text x="39.80" y="547.60" font-size="9.8" text-anchor="end" textLength="6.65" lengthAdjust="spacingAndGlyphs">0</text>
<text x="39.80" y="527.47" font-size="9.8" text-anchor="end" textLength="13.30" lengthAdjust="spacingAndGlyphs">11</text>
<text x="39.80" y="507.34" font-size="9.8" text-anchor="end" textLength="13.30" lengthAdjust="spacingAndGlyphs">22</text>
<text x="39.80" y="487.21" font-size="9.8" text-anchor="end" textLength="13.30" lengthAdjust="spacingAndGlyphs">33</text>
<line x1="46.50" y1="626.00" x2="49.30" y2="626.00" stroke="#333" stroke-width="0.9"/>
<line x1="354.50" y1="626.00" x2="351.70" y2="626.00" stroke="#333" stroke-width="0.9"/>
<line x1="46.50" y1="615.60" x2="51.70" y2="615.60" stroke="#333" stroke-width="0.9"/>
<line x1="354.50" y1="615.60" x2="349.30" y2="615.60" stroke="#333" stroke-width="0.9"/>
<line x1="46.50" y1="605.20" x2="49.30" y2="605.20" stroke="#333" stroke-width="0.9"/>
<line x1="354.50" y1="605.20" x2="351.70" y2="605.20" stroke="#333" stroke-width="0.9"/>
<line x1="46.50" y1="594.80" x2="51.70" y2="594.80" stroke="#333" stroke-width="0.9"/>
<line x1="354.50" y1="594.80" x2="349.30" y2="594.80" stroke="#333" stroke-width="0.9"/>
<line x1="46.50" y1="584.40" x2="49.30" y2="584.40" stroke="#333" stroke-width="0.9"/>
<line x1="354.50" y1="584.40" x2="351.70" y2="584.40" stroke="#333" stroke-width="0.9"/>
<line x1="46.50" y1="574.00" x2="51.70" y2="574.00" stroke="#333" stroke-width="0.9"/>
<line x1="354.50" y1="574.00" x2="349.30" y2="574.00" stroke="#333" stroke-width="0.9"/>
<line x1="46.50" y1="563.60" x2="49.30" y2="563.60" stroke="#333" stroke-width="0.9"/>
<line x1="354.50" y1="563.60" x2="351.70" y2="563.60" stroke="#333" stroke-width="0.9"/>
<text x="39.80" y="639.70" font-size="9.8" text-anchor="end" textLength="6.65" lengthAdjust="spacingAndGlyphs">0</text>
<text x="39.80" y="618.90" font-size="9.8" text-anchor="end" textLength="13.30" lengthAdjust="spacingAndGlyphs">16</text>
<text x="39.80" y="598.10" font-size="9.8" text-anchor="end" textLength="13.30" lengthAdjust="spacingAndGlyphs">32</text>
<text x="39.80" y="577.30" font-size="9.8" text-anchor="end" textLength="13.30" lengthAdjust="spacingAndGlyphs">48</text>
<text x="46.80" y="648.40" font-size="9.5" text-anchor="middle" textLength="6.60" lengthAdjust="spacingAndGlyphs">5</text>
<text x="67.31" y="648.40" font-size="9.5" text-anchor="middle" textLength="13.20" lengthAdjust="spacingAndGlyphs">10</text>
<text x="87.83" y="648.40" font-size="9.5" text-anchor="middle" textLength="13.20" lengthAdjust="spacingAndGlyphs">15</text>
<text x="108.34" y="648.40" font-size="9.5" text-anchor="middle" textLength="13.20" lengthAdjust="spacingAndGlyphs">20</text>
<text x="128.86" y="648.40" font-size="9.5" text-anchor="middle" textLength="13.20" lengthAdjust="spacingAndGlyphs">25</text>
<text x="149.38" y="648.40" font-size="9.5" text-anchor="middle" textLength="13.20" lengthAdjust="spacingAndGlyphs">30</text>
<text x="169.89" y="648.40" font-size="9.5" text-anchor="middle" textLength="13.20" lengthAdjust="spacingAndGlyphs">35</text>
<text x="190.40" y="648.40" font-size="9.5" text-anchor="middle" textLength="13.20" lengthAdjust="spacingAndGlyphs">40</text>
<text x="210.92" y="648.40" font-size="9.5" text-anchor="middle" textLength="13.20" lengthAdjust="spacingAndGlyphs">45</text>
<text x="231.44" y="648.40" font-size="9.5" text-anchor="middle" textLength="13.20" lengthAdjust="spacingAndGlyphs">50</text>
<text x="251.95" y="648.40" font-size="9.5" text-anchor="middle" textLength="13.20" lengthAdjust="spacingAndGlyphs">55</text>
<text x="272.46" y="648.40" font-size="9.5" text-anchor="middle" textLength="13.20" lengthAdjust="spacingAndGlyphs">60</text>
<text x="292.98" y="648.40" font-size="9.5" text-anchor="middle" textLength="13.20" lengthAdjust="spacingAndGlyphs">65</text>
<text x="313.50" y="648.40" font-size="9.5" text-anchor="middle" textLength="13.20" lengthAdjust="spacingAndGlyphs">70</text>
<text x="334.01" y="648.40" font-size="9.5" text-anchor="middle" textLength="13.20" lengthAdjust="spacingAndGlyphs">75</text>
<text x="354.52" y="648.40" font-size="9.5" text-anchor="middle" textLength="13.20" lengthAdjust="spacingAndGlyphs">80</text>
<text x="190.60" y="667.10" font-size="12.2" textLength="20.80" lengthAdjust="spacingAndGlyphs">2 &#952;</text>
<text x="0" y="0" font-size="10.6" textLength="72.7" lengthAdjust="spacingAndGlyphs" fill="#222" transform="translate(16.4 542.4) scale(1.38 1) rotate(-90)">Intensity (a. u.)</text>
<text x="0.70" y="309.10" font-size="23.5" font-weight="bold" textLength="30.40" lengthAdjust="spacingAndGlyphs" fill="#000">(C)</text>
<rect x="222.5" y="306.0" width="130.00" height="14.80" fill="#fff" stroke="#777" stroke-width="0.9"/>
<line x1="225.80" y1="313.20" x2="259.00" y2="313.20" stroke="#333" stroke-width="0.8"/>
<text x="265.00" y="317.50" font-size="12.0" textLength="85.50" lengthAdjust="spacingAndGlyphs">CNP GelMA</text>
<rect x="262.4" y="388.7" width="90.10" height="15.50" fill="#fff" stroke="#777" stroke-width="0.9"/>
<line x1="264.90" y1="396.30" x2="298.80" y2="396.30" stroke="#333" stroke-width="0.8"/>
<text x="304.60" y="400.60" font-size="12.0" textLength="46.80" lengthAdjust="spacingAndGlyphs">GelMA</text>
<rect x="277.2" y="472.1" width="75.30" height="15.50" fill="#fff" stroke="#777" stroke-width="0.9"/>
<line x1="279.30" y1="479.30" x2="314.30" y2="479.30" stroke="#333" stroke-width="0.8"/>
<text x="319.40" y="483.60" font-size="12.0" textLength="32.00" lengthAdjust="spacingAndGlyphs">CNP</text>
<rect x="262.4" y="554.1" width="90.10" height="15.50" fill="#fff" stroke="#777" stroke-width="0.9"/>
<line x1="265.50" y1="561.70" x2="299.90" y2="561.70" stroke="#333" stroke-width="0.8"/>
<text x="305.00" y="566.00" font-size="12.0" textLength="45.30" lengthAdjust="spacingAndGlyphs">gelatin</text>
<polyline points="449.30,332.40 450.18,332.69 451.35,333.04 452.75,333.46 454.31,333.94 455.94,334.48 457.58,335.09 459.16,335.76 460.60,336.50 461.94,337.34 463.25,338.29 464.54,339.32 465.81,340.41 467.08,341.52 468.35,342.62 469.62,343.69 470.90,344.70 472.19,345.66 473.47,346.62 474.76,347.56 476.05,348.49 477.34,349.39 478.62,350.26 479.91,351.10 481.20,351.90 482.49,352.65 483.77,353.37 485.06,354.04 486.35,354.69 487.64,355.32 488.93,355.92 490.21,356.52 491.50,357.10 492.79,357.68 494.07,358.24 495.36,358.79 496.65,359.32 497.94,359.83 499.23,360.31 500.51,360.77 501.80,361.20 503.09,361.59 504.38,361.95 505.66,362.28 506.95,362.58 508.24,362.87 509.53,363.15 510.81,363.42 512.10,363.70 513.39,363.97 514.68,364.22 515.96,364.46 517.25,364.69 518.54,364.92 519.83,365.16 521.11,365.42 522.40,365.70 523.69,365.99 524.98,366.27 526.26,366.56 527.55,366.86 528.84,367.18 530.13,367.54 531.41,367.94 532.70,368.40 534.01,368.91 535.37,369.47 536.74,370.08 538.10,370.71 539.43,371.38 540.71,372.07 541.90,372.78 543.00,373.50 543.96,374.19 544.79,374.85 545.53,375.51 546.22,376.20 546.90,376.96 547.61,377.82 548.40,378.82 549.30,380.00 550.33,381.34 551.45,382.79 552.63,384.37 553.86,386.06 555.08,387.86 556.29,389.77 557.44,391.78 558.50,393.90 559.48,396.17 560.41,398.61 561.29,401.19 562.14,403.86 562.98,406.59 563.81,409.33 564.64,412.05 565.50,414.70 566.37,417.31 567.23,419.92 568.09,422.53 568.95,425.15 569.81,427.77 570.67,430.38 571.53,432.99 572.40,435.60 573.27,438.24 574.15,440.91 575.02,443.61 575.90,446.29 576.78,448.93 577.65,451.52 578.53,454.02 579.40,456.40 580.25,458.66 581.08,460.81 581.89,462.88 582.71,464.88 583.54,466.84 584.41,468.79 585.32,470.73 586.30,472.70 587.37,474.72 588.54,476.80 589.77,478.89 591.03,480.95 592.28,482.95 593.48,484.85 594.60,486.61 595.60,488.20 596.44,489.54 597.15,490.64 597.76,491.57 598.34,492.42 598.92,493.26 599.56,494.16 600.30,495.22 601.20,496.50 602.26,498.04 603.44,499.77 604.72,501.63 606.06,503.57 607.43,505.53 608.81,507.45 610.18,509.25 611.50,510.90 612.79,512.41 614.08,513.87 615.36,515.26 616.65,516.59 617.94,517.85 619.22,519.04 620.51,520.16 621.80,521.20 623.02,522.13 624.13,522.92 625.21,523.63 626.31,524.27 627.48,524.89 628.80,525.53 630.32,526.22 632.10,527.00 634.18,527.87 636.53,528.78 639.07,529.74 641.76,530.71 644.52,531.70 647.31,532.69 650.05,533.66 652.70,534.60 655.32,535.51 658.00,536.40 660.70,537.29 663.39,538.16 666.03,539.04 668.59,539.94 671.02,540.85 673.30,541.80 675.38,542.76 677.29,543.73 679.06,544.71 680.76,545.71 682.42,546.73 684.10,547.78 685.84,548.87 687.70,550.00 689.62,551.16 691.53,552.34 693.45,553.54 695.42,554.78 697.45,556.07 699.58,557.41 701.82,558.82 704.20,560.30 706.91,561.98 710.01,563.89 713.33,565.93 716.68,567.99 719.91,569.98 722.84,571.78 725.29,573.29 727.10,574.40" fill="none" stroke="#3c3c3c" stroke-width="1.6" stroke-linejoin="round"/>
<polyline points="449.30,332.20 450.18,332.48 451.35,332.84 452.75,333.26 454.31,333.74 455.94,334.27 457.58,334.84 459.16,335.46 460.60,336.10 461.94,336.80 463.25,337.57 464.54,338.40 465.81,339.26 467.08,340.14 468.35,341.02 469.62,341.88 470.90,342.70 472.12,343.47 473.23,344.21 474.31,344.93 475.41,345.64 476.58,346.37 477.90,347.13 479.42,347.94 481.20,348.80 483.28,349.75 485.63,350.80 488.17,351.89 490.86,353.01 493.62,354.13 496.41,355.20 499.15,356.20 501.80,357.10 504.40,357.88 507.05,358.57 509.71,359.20 512.36,359.78 514.98,360.35 517.55,360.92 520.03,361.53 522.40,362.20 524.71,362.92 526.99,363.65 529.21,364.40 531.37,365.17 533.43,365.95 535.37,366.75 537.17,367.57 538.80,368.40 540.24,369.21 541.48,369.98 542.57,370.74 543.55,371.53 544.45,372.38 545.32,373.32 546.19,374.38 547.10,375.60 548.00,376.92 548.85,378.29 549.65,379.75 550.44,381.31 551.23,383.02 552.06,384.90 552.94,386.98 553.90,389.30 554.94,391.88 556.05,394.71 557.21,397.76 558.40,400.97 559.61,404.31 560.82,407.74 562.03,411.22 563.20,414.70 564.37,418.29 565.56,422.08 566.75,425.99 567.94,429.94 569.12,433.88 570.26,437.74 571.36,441.43 572.40,444.90 573.40,448.18 574.37,451.34 575.30,454.39 576.21,457.33 577.07,460.16 577.89,462.88 578.67,465.50 579.40,468.00 580.03,470.34 580.55,472.51 580.99,474.53 581.41,476.46 581.85,478.34 582.34,480.21 582.95,482.12 583.70,484.10 584.59,486.12 585.58,488.10 586.65,490.08 587.79,492.07 589.00,494.09 590.26,496.18 591.56,498.34 592.90,500.60 594.30,502.99 595.77,505.51 597.32,508.12 598.90,510.78 600.51,513.45 602.12,516.10 603.73,518.70 605.30,521.20 606.86,523.68 608.45,526.21 610.04,528.74 611.63,531.22 613.20,533.60 614.75,535.84 616.25,537.89 617.70,539.70 619.06,541.25 620.33,542.57 621.54,543.70 622.73,544.69 623.93,545.57 625.19,546.39 626.53,547.19 628.00,548.00 629.56,548.80 631.17,549.52 632.83,550.19 634.56,550.81 636.37,551.40 638.27,551.97 640.28,552.53 642.40,553.10 644.68,553.67 647.11,554.22 649.67,554.75 652.31,555.28 655.00,555.78 657.70,556.27 660.38,556.74 663.00,557.20 665.58,557.64 668.15,558.07 670.73,558.48 673.30,558.88 675.88,559.25 678.45,559.62 681.02,559.97 683.60,560.30 686.16,560.61 688.70,560.89 691.22,561.16 693.76,561.41 696.31,561.65 698.89,561.89 701.51,562.14 704.20,562.40 707.11,562.69 710.30,562.99 713.63,563.31 716.94,563.63 720.09,563.93 722.93,564.20 725.32,564.43 727.10,564.60" fill="none" stroke="#e0403c" stroke-width="1.7" stroke-linejoin="round" stroke-dasharray="7 6.5"/>
<polyline points="449.30,332.40 450.18,332.69 451.35,333.05 452.75,333.47 454.31,333.95 455.94,334.50 457.58,335.10 459.16,335.77 460.60,336.50 461.94,337.32 463.25,338.25 464.54,339.26 465.81,340.32 467.08,341.40 468.35,342.48 469.62,343.52 470.90,344.50 472.12,345.41 473.23,346.27 474.31,347.10 475.41,347.92 476.58,348.75 477.90,349.61 479.42,350.52 481.20,351.50 483.28,352.59 485.63,353.78 488.17,355.03 490.86,356.31 493.62,357.57 496.41,358.77 499.15,359.86 501.80,360.80 504.40,361.59 507.05,362.25 509.71,362.81 512.36,363.31 514.98,363.77 517.55,364.22 520.03,364.69 522.40,365.20 524.71,365.73 526.99,366.23 529.21,366.72 531.37,367.22 533.43,367.73 535.37,368.27 537.17,368.86 538.80,369.50 540.24,370.16 541.48,370.82 542.57,371.49 543.55,372.21 544.45,372.99 545.32,373.87 546.19,374.86 547.10,376.00 548.00,377.23 548.85,378.51 549.65,379.87 550.44,381.34 551.23,382.96 552.06,384.75 552.94,386.76 553.90,389.00 554.94,391.53 556.05,394.34 557.21,397.36 558.40,400.56 559.61,403.88 560.82,407.26 562.03,410.65 563.20,414.00 564.39,417.40 565.61,420.94 566.86,424.57 568.09,428.22 569.29,431.85 570.43,435.39 571.47,438.80 572.40,442.00 573.20,445.02 573.87,447.93 574.46,450.72 574.99,453.41 575.48,456.02 575.96,458.54 576.46,461.00 577.00,463.40 577.54,465.66 578.04,467.74 578.52,469.71 579.01,471.62 579.53,473.54 580.12,475.53 580.80,477.67 581.60,480.00 582.52,482.56 583.52,485.30 584.61,488.16 585.77,491.11 586.99,494.08 588.25,497.04 589.56,499.93 590.90,502.70 592.28,505.43 593.71,508.19 595.20,510.95 596.72,513.66 598.29,516.28 599.90,518.77 601.54,521.09 603.20,523.20 604.91,525.10 606.67,526.84 608.48,528.42 610.32,529.86 612.17,531.19 614.03,532.41 615.88,533.54 617.70,534.60 619.46,535.53 621.16,536.29 622.83,536.93 624.52,537.48 626.25,537.98 628.07,538.50 630.00,539.05 632.10,539.70 634.38,540.44 636.81,541.22 639.37,542.04 642.01,542.86 644.70,543.68 647.40,544.47 650.08,545.22 652.70,545.90 655.28,546.51 657.85,547.07 660.43,547.59 663.00,548.08 665.58,548.55 668.15,549.02 670.73,549.50 673.30,550.00 675.79,550.51 678.15,551.02 680.47,551.53 682.81,552.04 685.25,552.56 687.86,553.07 690.72,553.58 693.90,554.10 697.67,554.65 702.09,555.24 706.89,555.85 711.79,556.46 716.53,557.03 720.84,557.54 724.45,557.98 727.10,558.30" fill="none" stroke="#3a6fc8" stroke-width="1.8" stroke-linejoin="round" stroke-dasharray="2.2 5.8"/>
<polyline points="449.30,332.00 450.48,332.32 452.04,332.72 453.90,333.20 455.97,333.74 458.17,334.34 460.41,335.01 462.62,335.73 464.70,336.50 466.68,337.35 468.65,338.29 470.63,339.30 472.62,340.37 474.66,341.46 476.76,342.56 478.93,343.65 481.20,344.70 483.58,345.74 486.06,346.80 488.62,347.86 491.24,348.92 493.89,349.97 496.55,350.99 499.20,351.97 501.80,352.90 504.39,353.77 507.00,354.59 509.62,355.37 512.23,356.12 514.83,356.86 517.40,357.60 519.93,358.34 522.40,359.10 524.90,359.88 527.46,360.65 530.03,361.43 532.55,362.20 534.96,362.98 537.19,363.75 539.19,364.53 540.90,365.30 542.26,366.05 543.31,366.75 544.13,367.44 544.77,368.14 545.32,368.87 545.84,369.66 546.41,370.53 547.10,371.50 547.88,372.56 548.65,373.69 549.43,374.88 550.21,376.14 550.98,377.46 551.76,378.84 552.53,380.29 553.30,381.80 554.07,383.38 554.83,385.02 555.59,386.72 556.36,388.49 557.12,390.32 557.88,392.22 558.64,394.18 559.40,396.20 560.14,398.22 560.85,400.21 561.55,402.22 562.26,404.32 562.99,406.56 563.76,408.99 564.59,411.69 565.50,414.70 566.50,418.14 567.58,422.00 568.72,426.17 569.90,430.51 571.11,434.91 572.32,439.24 573.52,443.38 574.70,447.20 575.90,450.83 577.17,454.44 578.47,457.98 579.75,461.39 580.98,464.62 582.13,467.62 583.15,470.33 584.00,472.70 584.61,474.57 584.98,475.92 585.20,476.91 585.34,477.71 585.49,478.46 585.72,479.34 586.14,480.50 586.80,482.10 587.71,484.13 588.80,486.42 590.03,488.92 591.36,491.58 592.76,494.34 594.21,497.15 595.67,499.95 597.10,502.70 598.54,505.49 600.03,508.42 601.56,511.43 603.12,514.45 604.69,517.41 606.27,520.25 607.84,522.90 609.40,525.30 610.89,527.46 612.30,529.44 613.68,531.27 615.08,532.96 616.55,534.53 618.12,536.00 619.86,537.38 621.80,538.70 623.98,539.91 626.37,540.99 628.92,541.95 631.59,542.82 634.31,543.63 637.06,544.39 639.77,545.14 642.40,545.90 644.98,546.65 647.55,547.37 650.12,548.05 652.70,548.71 655.27,549.33 657.85,549.91 660.42,550.47 663.00,551.00 665.58,551.49 668.15,551.93 670.73,552.34 673.30,552.71 675.88,553.07 678.45,553.41 681.02,553.75 683.60,554.10 686.16,554.44 688.70,554.78 691.22,555.10 693.76,555.41 696.31,555.72 698.89,556.02 701.51,556.31 704.20,556.60 707.11,556.90 710.30,557.20 713.63,557.51 716.94,557.81 720.09,558.08 722.93,558.33 725.32,558.54 727.10,558.70" fill="none" stroke="#2da060" stroke-width="1.7" stroke-linejoin="round" stroke-dasharray="8.3 3.3 1.9 3.4"/>
<polyline points="449.30,332.40 450.37,332.78 451.83,333.27 453.57,333.85 455.49,334.50 457.47,335.21 459.40,335.96 461.18,336.73 462.70,337.50 463.96,338.24 465.07,338.96 466.06,339.68 466.99,340.45 467.90,341.30 468.82,342.27 469.81,343.39 470.90,344.70 472.09,346.29 473.33,348.16 474.61,350.23 475.92,352.39 477.25,354.56 478.58,356.64 479.90,358.56 481.20,360.20 482.49,361.60 483.77,362.86 485.06,363.99 486.35,365.01 487.64,365.95 488.93,366.81 490.21,367.62 491.50,368.40 492.72,369.12 493.83,369.75 494.91,370.30 496.01,370.79 497.18,371.25 498.50,371.67 500.02,372.08 501.80,372.50 503.88,372.90 506.23,373.25 508.77,373.58 511.46,373.89 514.22,374.19 517.01,374.50 519.75,374.83 522.40,375.20 525.04,375.61 527.78,376.04 530.55,376.50 533.31,376.96 535.99,377.43 538.53,377.88 540.89,378.30 543.00,378.70 544.83,379.05 546.44,379.34 547.85,379.61 549.13,379.88 550.33,380.15 551.49,380.44 552.66,380.79 553.90,381.20 555.16,381.66 556.38,382.14 557.56,382.66 558.74,383.21 559.91,383.80 561.10,384.44 562.33,385.14 563.60,385.90 564.93,386.75 566.31,387.68 567.73,388.68 569.16,389.73 570.59,390.80 572.00,391.86 573.38,392.91 574.70,393.90 575.98,394.87 577.25,395.84 578.50,396.81 579.72,397.77 580.91,398.71 582.05,399.61 583.15,400.48 584.20,401.30 585.16,402.06 586.04,402.75 586.85,403.41 587.63,404.03 588.41,404.65 589.21,405.27 590.06,405.91 591.00,406.60 592.02,407.34 593.08,408.11 594.19,408.90 595.33,409.71 596.49,410.50 597.66,411.28 598.84,412.01 600.00,412.70 601.07,413.32 602.02,413.89 602.92,414.41 603.86,414.92 604.91,415.42 606.15,415.94 607.65,416.49 609.50,417.10 611.75,417.78 614.34,418.53 617.20,419.33 620.25,420.13 623.41,420.92 626.59,421.66 629.71,422.33 632.70,422.90 635.59,423.35 638.48,423.72 641.37,424.02 644.25,424.27 647.13,424.49 650.02,424.71 652.91,424.94 655.80,425.20 658.58,425.47 661.21,425.70 663.78,425.93 666.38,426.16 669.11,426.42 672.06,426.71 675.32,427.07 679.00,427.50 683.36,428.05 688.43,428.71 693.94,429.45 699.61,430.22 705.16,430.98 710.33,431.69 714.83,432.31 718.40,432.80 721.02,433.15 722.94,433.42 724.29,433.60 725.21,433.73 725.82,433.82 726.26,433.88 726.64,433.94 727.10,434.00" fill="none" stroke="#a77be0" stroke-width="1.7" stroke-linejoin="round" stroke-dasharray="6.3 3.3 2.1 3.3 2.1 3.4"/>
<line x1="420.40" y1="303.60" x2="420.40" y2="617.00" stroke="#222" stroke-width="1.3"/>
<line x1="419.80" y1="616.40" x2="767.60" y2="616.40" stroke="#222" stroke-width="1.3"/>
<line x1="414.60" y1="616.40" x2="420.40" y2="616.40" stroke="#222" stroke-width="1.3"/>
<text x="410.90" y="620.70" font-size="12.6" text-anchor="end" textLength="6.20" lengthAdjust="spacingAndGlyphs">0</text>
<line x1="417.30" y1="587.93" x2="420.40" y2="587.93" stroke="#222" stroke-width="1.3"/>
<line x1="414.60" y1="559.46" x2="420.40" y2="559.46" stroke="#222" stroke-width="1.3"/>
<text x="410.90" y="563.76" font-size="12.6" text-anchor="end" textLength="12.40" lengthAdjust="spacingAndGlyphs">20</text>
<line x1="417.30" y1="530.99" x2="420.40" y2="530.99" stroke="#222" stroke-width="1.3"/>
<line x1="414.60" y1="502.52" x2="420.40" y2="502.52" stroke="#222" stroke-width="1.3"/>
<text x="410.90" y="506.82" font-size="12.6" text-anchor="end" textLength="12.40" lengthAdjust="spacingAndGlyphs">40</text>
<line x1="417.30" y1="474.05" x2="420.40" y2="474.05" stroke="#222" stroke-width="1.3"/>
<line x1="414.60" y1="445.58" x2="420.40" y2="445.58" stroke="#222" stroke-width="1.3"/>
<text x="410.90" y="449.88" font-size="12.6" text-anchor="end" textLength="12.40" lengthAdjust="spacingAndGlyphs">60</text>
<line x1="417.30" y1="417.11" x2="420.40" y2="417.11" stroke="#222" stroke-width="1.3"/>
<line x1="414.60" y1="388.64" x2="420.40" y2="388.64" stroke="#222" stroke-width="1.3"/>
<text x="410.90" y="392.94" font-size="12.6" text-anchor="end" textLength="12.40" lengthAdjust="spacingAndGlyphs">80</text>
<line x1="417.30" y1="360.17" x2="420.40" y2="360.17" stroke="#222" stroke-width="1.3"/>
<line x1="414.60" y1="331.70" x2="420.40" y2="331.70" stroke="#222" stroke-width="1.3"/>
<text x="410.90" y="336.00" font-size="12.6" text-anchor="end" textLength="18.60" lengthAdjust="spacingAndGlyphs">100</text>
<line x1="417.30" y1="303.23" x2="420.40" y2="303.23" stroke="#222" stroke-width="1.3"/>
<line x1="420.20" y1="616.40" x2="420.20" y2="619.40" stroke="#222" stroke-width="1.3"/>
<line x1="440.60" y1="616.40" x2="440.60" y2="622.00" stroke="#222" stroke-width="1.3"/>
<text x="440.60" y="637.00" font-size="12.8" text-anchor="middle" textLength="6.15" lengthAdjust="spacingAndGlyphs">0</text>
<line x1="461.00" y1="616.40" x2="461.00" y2="619.40" stroke="#222" stroke-width="1.3"/>
<line x1="481.40" y1="616.40" x2="481.40" y2="622.00" stroke="#222" stroke-width="1.3"/>
<text x="481.40" y="637.00" font-size="12.8" text-anchor="middle" textLength="18.45" lengthAdjust="spacingAndGlyphs">100</text>
<line x1="501.80" y1="616.40" x2="501.80" y2="619.40" stroke="#222" stroke-width="1.3"/>
<line x1="522.20" y1="616.40" x2="522.20" y2="622.00" stroke="#222" stroke-width="1.3"/>
<text x="522.20" y="637.00" font-size="12.8" text-anchor="middle" textLength="18.45" lengthAdjust="spacingAndGlyphs">200</text>
<line x1="542.60" y1="616.40" x2="542.60" y2="619.40" stroke="#222" stroke-width="1.3"/>
<line x1="563.00" y1="616.40" x2="563.00" y2="622.00" stroke="#222" stroke-width="1.3"/>
<text x="563.00" y="637.00" font-size="12.8" text-anchor="middle" textLength="18.45" lengthAdjust="spacingAndGlyphs">300</text>
<line x1="583.40" y1="616.40" x2="583.40" y2="619.40" stroke="#222" stroke-width="1.3"/>
<line x1="603.80" y1="616.40" x2="603.80" y2="622.00" stroke="#222" stroke-width="1.3"/>
<text x="603.80" y="637.00" font-size="12.8" text-anchor="middle" textLength="18.45" lengthAdjust="spacingAndGlyphs">400</text>
<line x1="624.20" y1="616.40" x2="624.20" y2="619.40" stroke="#222" stroke-width="1.3"/>
<line x1="644.60" y1="616.40" x2="644.60" y2="622.00" stroke="#222" stroke-width="1.3"/>
<text x="644.60" y="637.00" font-size="12.8" text-anchor="middle" textLength="18.45" lengthAdjust="spacingAndGlyphs">500</text>
<line x1="665.00" y1="616.40" x2="665.00" y2="619.40" stroke="#222" stroke-width="1.3"/>
<line x1="685.40" y1="616.40" x2="685.40" y2="622.00" stroke="#222" stroke-width="1.3"/>
<text x="685.40" y="637.00" font-size="12.8" text-anchor="middle" textLength="18.45" lengthAdjust="spacingAndGlyphs">600</text>
<line x1="705.80" y1="616.40" x2="705.80" y2="619.40" stroke="#222" stroke-width="1.3"/>
<line x1="726.20" y1="616.40" x2="726.20" y2="622.00" stroke="#222" stroke-width="1.3"/>
<text x="726.20" y="637.00" font-size="12.8" text-anchor="middle" textLength="18.45" lengthAdjust="spacingAndGlyphs">700</text>
<line x1="746.60" y1="616.40" x2="746.60" y2="619.40" stroke="#222" stroke-width="1.3"/>
<line x1="767.00" y1="616.40" x2="767.00" y2="622.00" stroke="#222" stroke-width="1.3"/>
<text x="767.00" y="637.00" font-size="12.8" text-anchor="middle" textLength="18.45" lengthAdjust="spacingAndGlyphs">800</text>
<text x="375.10" y="491.50" font-size="14" textLength="79.40" lengthAdjust="spacingAndGlyphs" transform="rotate(-90 375.10 491.50)">Weight (%)</text>
<text x="538.20" y="663.50" font-size="14.2" textLength="90.00" lengthAdjust="spacingAndGlyphs">Temperature (</text>
<text x="629.50" y="657.00" font-size="8.5">o</text>
<text x="634.50" y="663.50" font-size="14.2" textLength="15.50" lengthAdjust="spacingAndGlyphs">C)</text>
<text x="372.00" y="318.90" font-size="23.2" font-weight="bold" textLength="30.10" lengthAdjust="spacingAndGlyphs" fill="#000">(D)</text>
<rect x="429.3" y="503.6" width="143.1" height="92.7" fill="#fff" stroke="#444" stroke-width="1"/>
<line x1="430.10" y1="513.90" x2="460.20" y2="513.90" stroke="#3c3c3c" stroke-width="1.6"/>
<text x="464.30" y="518.50" font-size="14.2" textLength="39.60" lengthAdjust="spacingAndGlyphs">GelMA</text>
<line x1="430.10" y1="532.10" x2="460.20" y2="532.10" stroke="#e0403c" stroke-width="1.7" stroke-dasharray="7 6.5"/>
<text x="464.30" y="536.70" font-size="14.2" textLength="105.60" lengthAdjust="spacingAndGlyphs">CNP(50%) GelMA</text>
<line x1="430.10" y1="550.00" x2="460.20" y2="550.00" stroke="#3a6fc8" stroke-width="1.8" stroke-dasharray="2.2 5.8"/>
<text x="464.30" y="554.60" font-size="14.2" textLength="70.20" lengthAdjust="spacingAndGlyphs">CNP GelMA</text>
<line x1="430.10" y1="567.50" x2="460.20" y2="567.50" stroke="#2da060" stroke-width="1.7" stroke-dasharray="8.3 3.3 1.9 3.4"/>
<text x="464.30" y="572.10" font-size="14.2" textLength="75.00" lengthAdjust="spacingAndGlyphs">CNP+GelMA</text>
<line x1="430.10" y1="585.60" x2="460.20" y2="585.60" stroke="#a77be0" stroke-width="1.7" stroke-dasharray="6.3 3.3 2.1 3.3 2.1 3.4"/>
<text x="464.30" y="590.20" font-size="14.2" textLength="27.20" lengthAdjust="spacingAndGlyphs">CNP</text>
<polyline points="10.30,877.20 12.80,877.19 15.30,877.19 17.80,877.19 20.30,877.19 22.80,877.18 25.30,877.18 27.80,877.18 30.30,877.18 32.80,877.17 35.30,877.17 37.80,877.17 40.30,877.16 42.80,877.16 45.30,877.14 47.80,877.12 50.30,877.05 51.70,876.92 52.40,876.79 52.80,876.67 53.20,876.54 53.60,876.41 54.80,876.54 55.20,876.67 55.30,876.70 55.80,876.83 56.60,876.96 57.80,877.05 60.30,877.11 62.80,877.13 65.30,877.14 67.80,877.14 70.30,877.14 72.80,877.14 75.30,877.14 77.80,877.13 80.30,877.13 82.80,877.13 85.30,877.13 87.80,877.13 90.30,877.12 92.80,877.12 95.30,877.12 97.80,877.12 100.30,877.11 102.80,877.11 105.30,877.11 107.80,877.10 110.30,877.10 112.80,877.10 115.30,877.09 117.80,877.09 120.30,877.09 122.80,877.08 125.30,877.07 127.80,877.07 130.30,877.06 132.80,877.04 135.30,877.02 137.80,876.99 140.30,876.93 142.70,876.81 142.80,876.80 144.00,876.68 144.90,876.56 145.30,876.49 146.10,876.35 147.00,876.23 147.80,876.16 148.70,876.03 149.20,875.88 149.30,875.84 149.40,875.80 149.50,875.76 149.60,875.71 149.70,875.66 149.80,875.61 149.90,875.56 150.00,875.52 150.10,875.48 150.30,875.41 151.50,875.35 151.60,875.30 151.70,875.22 151.80,875.11 151.90,874.97 152.00,874.79 152.10,874.58 152.20,874.35 152.30,874.14 152.40,873.99 152.50,873.95 152.60,874.05 152.70,874.26 152.80,874.54 152.90,874.83 153.00,875.11 153.10,875.35 153.20,875.56 153.30,875.74 153.40,875.89 153.50,876.01 153.60,876.11 153.70,876.20 153.80,876.27 153.90,876.33 154.00,876.39 154.10,876.44 154.20,876.48 154.60,876.60 155.30,876.72 157.00,876.84 157.80,876.88 158.90,877.01 159.40,877.16 159.50,877.21 159.60,877.25 159.70,877.29 160.20,877.29 160.30,877.24 160.40,877.19 160.50,877.13 160.60,877.07 160.70,877.01 160.80,876.95 160.90,876.90 161.00,876.85 161.10,876.81 161.20,876.76 161.30,876.72 161.40,876.67 161.50,876.63 161.60,876.58 161.70,876.53 161.80,876.48 161.90,876.42 162.00,876.36 162.10,876.29 162.20,876.21 162.30,876.12 162.40,876.02 162.50,875.90 162.60,875.76 162.70,875.60 162.80,875.41 162.90,875.19 163.00,874.93 163.10,874.62 163.20,874.27 163.30,873.88 163.40,873.46 163.50,873.05 163.60,872.68 163.70,872.43 163.80,872.33 163.90,872.41 164.00,872.65 164.10,873.01 164.20,873.41 164.30,873.81 164.40,874.19 164.50,874.52 164.60,874.81 164.70,875.06 164.80,875.27 164.90,875.44 165.00,875.58 165.10,875.70 165.20,875.80 165.30,875.88 165.40,875.95 165.50,876.01 165.60,876.05 167.20,875.98 167.30,875.94 167.40,875.89 167.50,875.84 167.60,875.78 167.70,875.72 167.80,875.65 167.90,875.58 168.00,875.51 168.10,875.43 168.20,875.36 168.30,875.28 168.40,875.21 168.50,875.14 168.60,875.08 168.70,875.03 169.30,875.02 169.40,875.06 169.50,875.12 169.60,875.19 169.70,875.25 169.80,875.33 169.90,875.40 170.00,875.47 170.10,875.54 170.20,875.61 170.30,875.67 170.40,875.73 170.50,875.78 170.60,875.83 170.70,875.87 171.10,876.01 172.80,875.94 172.90,875.91 173.00,875.87 173.10,875.82 173.20,875.77 173.30,875.72 173.40,875.66 173.50,875.59 173.60,875.52 173.70,875.44 173.80,875.36 173.90,875.28 174.00,875.19 174.10,875.09 174.20,875.00 174.30,874.91 174.40,874.82 174.50,874.74 174.60,874.67 174.70,874.60 174.80,874.56 175.20,874.56 175.30,874.60 175.40,874.66 175.50,874.73 175.60,874.81 175.70,874.90 175.80,874.99 175.90,875.08 176.00,875.18 176.10,875.26 176.20,875.35 176.30,875.43 176.40,875.50 176.50,875.58 176.60,875.64 176.70,875.70 176.80,875.76 176.90,875.81 177.00,875.85 177.10,875.89 177.50,876.02 177.80,876.07 179.70,875.94 180.10,875.81 180.20,875.77 180.30,875.72 180.40,875.68 180.50,875.63 180.60,875.58 180.70,875.53 180.80,875.48 180.90,875.43 181.00,875.38 181.10,875.33 181.20,875.28 181.30,875.23 181.40,875.19 181.80,875.06 182.80,875.22 182.90,875.26 183.00,875.30 183.10,875.35 183.20,875.39 183.30,875.43 183.40,875.47 183.80,875.62 184.40,875.75 185.30,875.75 185.90,875.60 186.00,875.56 186.10,875.51 186.20,875.46 186.30,875.41 186.40,875.34 186.50,875.27 186.60,875.20 186.70,875.11 186.80,875.01 186.90,874.91 187.00,874.80 187.10,874.67 187.20,874.54 187.30,874.39 187.40,874.23 187.50,874.06 187.60,873.88 187.70,873.70 187.80,873.50 187.90,873.31 188.00,873.12 188.10,872.94 188.20,872.77 188.30,872.62 188.40,872.50 188.50,872.40 188.60,872.34 189.60,872.25 189.70,872.19 189.80,872.12 189.90,872.04 190.00,871.94 190.10,871.84 190.20,871.73 190.30,871.64 190.40,871.55 190.50,871.49 190.60,871.45 190.80,871.46 190.90,871.52 191.00,871.61 191.10,871.73 191.20,871.88 191.30,872.05 191.40,872.24 191.50,872.44 191.60,872.64 191.70,872.85 191.80,873.05 191.90,873.24 192.00,873.42 192.10,873.59 192.20,873.75 192.30,873.89 192.40,874.03 192.50,874.15 192.60,874.25 192.70,874.35 192.80,874.43 192.90,874.50 193.00,874.56 193.10,874.60 194.00,874.59 194.10,874.55 194.20,874.50 194.30,874.46 194.40,874.41 194.50,874.37 195.10,874.35 195.20,874.40 195.30,874.47 195.40,874.54 195.50,874.63 195.60,874.72 195.70,874.82 195.80,874.92 195.90,875.02 196.00,875.13 196.10,875.22 196.20,875.32 196.30,875.41 196.40,875.49 196.50,875.57 196.60,875.65 196.70,875.72 196.80,875.78 196.90,875.84 197.00,875.90 197.10,875.95 197.20,876.00 197.30,876.05 197.40,876.09 197.80,876.23 198.30,876.36 199.10,876.48 200.30,876.56 201.80,876.43 202.00,876.36 202.10,876.32 202.20,876.27 202.30,876.21 202.40,876.14 202.50,876.05 202.60,875.94 202.70,875.81 202.80,875.66 202.90,875.47 203.00,875.23 203.10,874.96 203.20,874.65 203.30,874.33 203.40,874.02 203.50,873.80 203.60,873.72 203.70,873.79 203.80,874.00 203.90,874.30 204.00,874.61 204.10,874.91 204.20,875.17 204.30,875.39 204.40,875.56 204.50,875.70 204.60,875.81 204.70,875.90 204.80,875.96 204.90,876.00 205.30,876.00 205.40,875.96 205.50,875.90 205.60,875.82 205.70,875.71 205.80,875.57 205.90,875.39 206.00,875.18 206.10,874.94 206.20,874.68 206.30,874.44 206.40,874.27 206.50,874.21 206.60,874.28 206.70,874.47 206.80,874.72 206.90,875.00 207.00,875.26 207.10,875.48 207.20,875.68 207.30,875.84 207.40,875.97 207.50,876.08 207.60,876.17 207.70,876.24 207.80,876.30 207.90,876.35 208.00,876.39 208.60,876.52 210.30,876.40 210.80,876.24 211.00,876.16 211.10,876.12 211.20,876.08 211.30,876.04 211.70,875.91 212.60,876.01 212.70,876.06 212.80,876.10 212.90,876.14 213.00,876.18 213.10,876.23 213.20,876.27 213.60,876.41 214.10,876.53 215.00,876.65 215.30,876.67 217.80,876.54 218.30,876.39 218.40,876.35 218.50,876.31 218.60,876.26 218.70,876.21 218.80,876.15 218.90,876.08 219.00,876.01 219.10,875.94 219.20,875.86 219.30,875.78 219.40,875.70 219.50,875.62 219.60,875.55 219.70,875.49 219.80,875.45 220.20,875.45 220.30,875.49 220.40,875.56 220.50,875.63 220.60,875.71 220.70,875.79 220.80,875.87 220.90,875.95 221.00,876.02 221.10,876.09 221.20,876.16 221.30,876.21 221.40,876.27 221.50,876.32 221.60,876.36 221.70,876.40 222.10,876.53 222.80,876.65 224.80,876.54 224.90,876.50 225.00,876.44 225.10,876.37 225.20,876.28 225.30,876.17 225.40,876.03 225.50,875.85 225.60,875.63 225.70,875.38 225.80,875.13 225.90,874.93 226.00,874.85 226.10,874.93 226.20,875.13 226.30,875.38 226.40,875.63 226.50,875.85 226.60,876.03 226.70,876.17 226.80,876.28 226.90,876.37 227.00,876.44 227.10,876.49 227.20,876.54 227.80,876.64 228.50,876.53 228.60,876.48 228.70,876.42 228.80,876.34 228.90,876.24 229.00,876.11 229.10,875.95 229.20,875.76 229.30,875.57 229.40,875.43 229.50,875.37 229.60,875.43 229.70,875.58 229.80,875.77 229.90,875.96 230.00,876.13 230.10,876.27 230.20,876.38 230.30,876.46 230.40,876.53 230.50,876.59 230.60,876.63 231.10,876.76 232.80,876.86 235.30,876.85 237.80,876.79 239.50,876.66 240.30,876.53 240.80,876.40 241.10,876.29 241.20,876.25 241.30,876.21 241.40,876.16 241.50,876.11 241.60,876.06 241.70,876.00 241.80,875.94 241.90,875.88 242.00,875.81 242.10,875.74 242.20,875.68 242.30,875.61 242.40,875.55 242.50,875.49 242.60,875.43 242.70,875.39 242.80,875.35 243.40,875.41 243.50,875.45 243.60,875.51 243.70,875.56 243.80,875.62 243.90,875.68 244.00,875.74 244.10,875.80 244.20,875.86 244.30,875.91 244.40,875.96 244.50,876.01 244.60,876.05 245.00,876.18 245.30,876.25 247.60,876.13 247.80,876.06 247.90,876.02 248.00,875.97 248.10,875.93 248.20,875.88 248.30,875.82 248.40,875.76 248.50,875.70 248.60,875.63 248.70,875.55 248.80,875.47 248.90,875.39 249.00,875.30 249.10,875.21 249.20,875.12 249.30,875.04 249.40,874.95 249.50,874.87 249.60,874.80 249.70,874.74 249.80,874.69 250.30,874.70 250.40,874.74 250.50,874.80 250.60,874.87 250.70,874.94 250.80,875.01 250.90,875.09 251.00,875.16 251.10,875.23 251.20,875.30 251.30,875.36 251.40,875.42 251.50,875.47 251.60,875.51 252.10,875.65 252.80,875.59 252.90,875.56 253.00,875.52 253.10,875.47 253.20,875.41 253.30,875.35 253.40,875.28 253.50,875.20 253.60,875.11 253.70,875.00 253.80,874.89 253.90,874.77 254.00,874.64 254.10,874.51 254.20,874.37 254.30,874.22 254.40,874.08 254.50,873.94 254.60,873.82 254.70,873.71 254.80,873.63 254.90,873.58 255.10,873.58 255.20,873.63 255.30,873.71 255.40,873.81 255.50,873.94 255.60,874.07 255.70,874.22 255.80,874.36 255.90,874.50 256.00,874.64 256.10,874.77 256.20,874.89 256.30,875.00 256.40,875.10 256.50,875.19 256.60,875.27 256.70,875.34 256.80,875.40 256.90,875.45 257.00,875.50 257.50,875.63 257.80,875.62 258.20,875.52 258.30,875.48 258.40,875.43 258.50,875.37 258.60,875.30 258.70,875.22 258.80,875.13 258.90,875.03 259.00,874.92 259.10,874.81 259.20,874.68 259.30,874.55 259.40,874.42 259.50,874.30 259.60,874.18 259.70,874.08 259.80,874.00 259.90,873.94 260.10,873.94 260.20,873.99 260.30,874.06 260.40,874.16 260.50,874.27 260.60,874.39 260.70,874.52 260.80,874.64 260.90,874.76 261.00,874.87 261.10,874.97 261.20,875.07 261.30,875.15 261.40,875.22 261.50,875.28 261.60,875.33 261.70,875.37 262.60,875.36 262.70,875.31 262.80,875.26 262.90,875.20 263.00,875.12 263.10,875.03 263.20,874.94 263.30,874.83 263.40,874.71 263.50,874.57 263.60,874.43 263.70,874.27 263.80,874.11 263.90,873.95 264.00,873.80 264.10,873.65 264.20,873.52 264.30,873.42 264.40,873.36 264.60,873.34 264.70,873.39 264.80,873.47 264.90,873.58 265.00,873.70 265.10,873.84 265.20,873.98 265.30,874.11 265.40,874.24 265.50,874.36 265.60,874.47 265.70,874.56 265.80,874.63 265.90,874.69 266.00,874.74 266.50,874.72 266.60,874.66 266.70,874.58 266.80,874.48 266.90,874.36 267.00,874.21 267.10,874.03 267.20,873.82 267.30,873.57 267.40,873.30 267.50,872.98 267.60,872.65 267.70,872.29 267.80,871.94 267.90,871.61 268.00,871.34 268.10,871.16 268.20,871.09 268.30,871.14 268.40,871.29 268.50,871.53 268.60,871.83 268.70,872.16 268.80,872.48 268.90,872.79 269.00,873.06 269.10,873.30 269.20,873.51 269.30,873.67 269.40,873.80 269.50,873.90 269.60,873.96 269.90,873.99 270.00,873.95 270.10,873.89 270.20,873.81 270.30,873.72 270.40,873.62 270.50,873.52 270.60,873.43 270.70,873.35 270.80,873.30 271.00,873.29 271.10,873.34 271.20,873.43 271.30,873.55 271.40,873.70 271.50,873.86 271.60,874.04 271.70,874.22 271.80,874.40 271.90,874.57 272.00,874.74 272.10,874.89 272.20,875.03 272.30,875.16 272.40,875.28 272.50,875.39 272.60,875.49 272.70,875.58 272.80,875.66 272.90,875.74 273.00,875.80 273.10,875.86 273.20,875.92 273.30,875.97 273.40,876.01 273.50,876.05 273.90,876.18 275.30,876.16 275.40,876.11 275.50,876.05 275.60,875.97 275.70,875.87 275.80,875.73 275.90,875.56 276.00,875.34 276.10,875.07 276.20,874.76 276.30,874.45 276.40,874.21 276.50,874.12 276.60,874.22 276.70,874.47 276.80,874.79 276.90,875.10 277.00,875.38 277.10,875.61 277.20,875.79 277.30,875.93 277.40,876.04 277.50,876.13 277.60,876.20 277.70,876.26 277.80,876.30 278.40,876.43 279.20,876.33 279.30,876.29 279.40,876.23 279.50,876.17 279.60,876.08 279.70,875.97 279.80,875.84 279.90,875.66 280.00,875.44 280.10,875.16 280.20,874.85 280.30,874.54 280.40,874.29 280.50,874.19 280.60,874.29 280.70,874.54 280.80,874.86 280.90,875.17 281.00,875.44 281.10,875.67 281.20,875.85 281.30,875.99 281.40,876.10 281.50,876.19 281.60,876.26 281.70,876.31 281.80,876.36 282.30,876.48 282.80,876.52 284.40,876.39 284.90,876.26 285.20,876.15 285.30,876.11 285.40,876.06 285.50,876.01 285.60,875.96 285.70,875.91 285.80,875.85 285.90,875.78 286.00,875.72 286.10,875.65 286.20,875.59 286.30,875.52 286.40,875.46 286.50,875.40 286.60,875.35 286.70,875.30 287.40,875.32 287.50,875.37 287.60,875.42 287.70,875.48 287.80,875.54 287.90,875.59 288.00,875.65 288.10,875.71 288.20,875.76 288.30,875.82 288.40,875.86 288.50,875.91 288.60,875.95 289.00,876.07 290.30,876.11 290.80,875.97 290.90,875.93 291.00,875.88 291.10,875.83 291.20,875.76 291.30,875.69 291.40,875.60 291.50,875.51 291.60,875.40 291.70,875.27 291.80,875.12 291.90,874.95 292.00,874.75 292.10,874.52 292.20,874.26 292.30,873.95 292.40,873.59 292.50,873.18 292.60,872.71 292.70,872.20 292.80,871.64 292.90,871.07 293.00,870.54 293.10,870.08 293.20,869.78 293.30,869.66 293.40,869.77 293.50,870.07 293.60,870.52 293.70,871.05 293.80,871.61 293.90,872.16 294.00,872.67 294.10,873.12 294.20,873.53 294.30,873.87 294.40,874.18 294.50,874.43 294.60,874.65 294.70,874.84 294.80,875.00 294.90,875.14 295.00,875.25 295.10,875.35 295.20,875.44 295.30,875.51 295.40,875.56 295.50,875.61 296.80,875.56 296.90,875.52 297.00,875.47 297.10,875.42 297.20,875.37 297.30,875.32 297.40,875.27 297.50,875.22 297.60,875.18 297.80,875.12 298.30,875.19 298.40,875.23 298.50,875.29 298.60,875.35 298.70,875.41 298.80,875.48 298.90,875.55 299.00,875.61 299.10,875.68 299.20,875.74 299.30,875.80 299.40,875.85 299.50,875.91 299.60,875.95 299.70,876.00 299.80,876.04 300.20,876.17 300.30,876.20 301.10,876.32 302.80,876.20 303.20,876.07 303.30,876.04 303.40,875.99 303.50,875.95 303.60,875.90 303.70,875.85 303.80,875.79 303.90,875.73 304.00,875.67 304.10,875.61 304.20,875.55 304.30,875.48 304.40,875.42 304.50,875.37 304.60,875.32 304.70,875.28 305.30,875.27 305.40,875.32 305.50,875.36 305.60,875.42 305.70,875.48 305.80,875.54 305.90,875.60 306.00,875.67 306.10,875.73 306.20,875.79 306.30,875.84 306.40,875.89 306.50,875.94 306.60,875.99 306.70,876.03 307.10,876.16 307.80,876.28 309.50,876.15 309.80,876.05 309.90,876.01 310.00,875.96 310.10,875.91 310.20,875.85 310.30,875.78 310.40,875.71 310.50,875.63 310.60,875.53 310.70,875.42 310.80,875.30 310.90,875.17 311.00,875.01 311.10,874.84 311.20,874.65 311.30,874.43 311.40,874.19 311.50,873.93 311.60,873.65 311.70,873.36 311.80,873.06 311.90,872.78 312.00,872.52 312.10,872.32 312.20,872.18 312.30,872.13 312.40,872.17 312.50,872.29 312.60,872.47 312.70,872.71 312.80,872.98 312.90,873.26 313.00,873.53 313.10,873.79 313.20,874.04 313.30,874.25 313.40,874.45 313.50,874.62 313.60,874.77 313.70,874.90 313.80,875.00 313.90,875.10 314.00,875.17 314.10,875.23 314.20,875.28 315.30,875.20 315.80,875.07 316.20,875.13 316.30,875.18 316.40,875.23 316.50,875.30 316.60,875.36 316.70,875.44 316.80,875.51 316.90,875.58 317.00,875.66 317.10,875.73 317.20,875.80 317.30,875.86 317.40,875.92 317.50,875.98 317.60,876.04 317.70,876.09 317.80,876.14 317.90,876.18 318.00,876.22 318.40,876.36 318.90,876.48 319.70,876.61 320.30,876.67 322.60,876.79 322.80,876.80 325.30,876.85 327.80,876.87 330.30,876.88 332.80,876.89 335.30,876.89 337.80,876.87 340.20,876.74 340.30,876.72 340.60,876.63 340.70,876.59 340.80,876.53 340.90,876.47 341.00,876.39 341.10,876.30 341.20,876.20 341.30,876.09 341.40,875.99 341.50,875.92 341.70,875.92 341.80,875.99 341.90,876.09 342.00,876.20 342.10,876.30 342.20,876.39 342.30,876.47 342.40,876.53 342.50,876.58 342.60,876.62 342.80,876.69 343.80,876.81 345.30,876.82 346.80,876.69 347.10,876.59 347.20,876.54 347.30,876.48 347.40,876.40 347.50,876.30 347.60,876.16 347.70,875.96 347.80,875.70 347.90,875.31 348.00,874.74 348.10,873.90 348.20,872.74 348.30,871.50 348.40,870.90 348.50,871.50 348.60,872.74 348.70,873.90 348.80,874.74 348.90,875.31 349.00,875.70 349.10,875.97 349.20,876.16 349.30,876.30 349.40,876.40 349.50,876.48 349.60,876.55 349.70,876.60 349.80,876.64 350.30,876.75 352.80,876.87 355.30,876.89 357.80,876.90 360.30,876.90 362.80,876.90 365.30,876.90 367.80,876.90 370.30,876.89 372.80,876.89 375.30,876.89 377.00,876.89" fill="none" stroke="#383838" stroke-width="0.9" stroke-linejoin="round"/>
<line x1="153.70" y1="877.20" x2="153.70" y2="844.60" stroke="#555" stroke-width="0.9"/>
<line x1="158.10" y1="877.20" x2="158.10" y2="862.00" stroke="#555" stroke-width="0.9"/>
<line x1="155.50" y1="877.20" x2="155.50" y2="677.10" stroke="#6e4242" stroke-width="1.0"/>
<line x1="156.50" y1="877.20" x2="156.50" y2="677.10" stroke="#8a8078" stroke-width="1.0"/>
<line x1="156.50" y1="838.00" x2="156.50" y2="861.00" stroke="#4a4a4a" stroke-width="1.0"/>
<line x1="232.30" y1="877.20" x2="232.30" y2="707.90" stroke="#a8a0a0" stroke-width="1.0"/>
<line x1="232.30" y1="724.00" x2="232.30" y2="874.00" stroke="#2a2020" stroke-width="1.3"/>
<line x1="278.60" y1="877.20" x2="278.60" y2="769.40" stroke="#777" stroke-width="0.8"/>
<line x1="278.60" y1="812.80" x2="278.60" y2="834.00" stroke="#3a2a2a" stroke-width="1.4"/>
<line x1="278.60" y1="834.00" x2="278.60" y2="860.60" stroke="#111" stroke-width="2.4"/>
<line x1="277.80" y1="860.60" x2="277.80" y2="876.50" stroke="#555" stroke-width="0.6"/>
<line x1="279.40" y1="860.60" x2="279.40" y2="876.50" stroke="#555" stroke-width="0.6"/>
<line x1="323.50" y1="877.20" x2="323.50" y2="724.30" stroke="#7a6a6a" stroke-width="1.0"/>
<line x1="323.50" y1="764.00" x2="323.50" y2="872.80" stroke="#8a8a8a" stroke-width="1.0"/>
<line x1="324.50" y1="877.20" x2="324.50" y2="729.10" stroke="#7a6a6a" stroke-width="1.0"/>
<line x1="324.50" y1="764.00" x2="324.50" y2="872.80" stroke="#141414" stroke-width="1.0"/>
<line x1="349.50" y1="877.20" x2="349.50" y2="677.00" stroke="#6a5e5e" stroke-width="1.0"/>
<line x1="349.50" y1="768.00" x2="349.50" y2="872.00" stroke="#3a3030" stroke-width="1.0"/>
<line x1="345.90" y1="877.20" x2="345.90" y2="861.20" stroke="#555" stroke-width="0.9"/>
<line x1="353.10" y1="877.20" x2="353.10" y2="861.20" stroke="#555" stroke-width="0.9"/>
<path d="M228.5,872.3 L226.3,872.3 L226.3,881.8 L228.5,881.8 M234.5,872.3 L236.7,872.3 L236.7,881.8 L234.5,881.8" fill="none" stroke="#223333" stroke-width="1.0"/>
<line x1="10.00" y1="919.00" x2="376.50" y2="919.00" stroke="#8c8c8c" stroke-width="1.7"/>
<line x1="17.60" y1="919.00" x2="17.60" y2="921.30" stroke="#8a8a8a" stroke-width="0.9"/>
<line x1="27.64" y1="919.00" x2="27.64" y2="921.30" stroke="#8a8a8a" stroke-width="0.9"/>
<line x1="37.68" y1="919.00" x2="37.68" y2="921.30" stroke="#8a8a8a" stroke-width="0.9"/>
<line x1="47.72" y1="919.00" x2="47.72" y2="921.30" stroke="#8a8a8a" stroke-width="0.9"/>
<line x1="57.76" y1="919.00" x2="57.76" y2="921.30" stroke="#8a8a8a" stroke-width="0.9"/>
<line x1="67.80" y1="919.00" x2="67.80" y2="921.30" stroke="#8a8a8a" stroke-width="0.9"/>
<line x1="77.84" y1="919.00" x2="77.84" y2="921.30" stroke="#8a8a8a" stroke-width="0.9"/>
<line x1="87.88" y1="919.00" x2="87.88" y2="921.30" stroke="#8a8a8a" stroke-width="0.9"/>
<line x1="97.92" y1="919.00" x2="97.92" y2="921.30" stroke="#8a8a8a" stroke-width="0.9"/>
<line x1="107.96" y1="919.00" x2="107.96" y2="921.30" stroke="#8a8a8a" stroke-width="0.9"/>
<line x1="118.00" y1="919.00" x2="118.00" y2="921.30" stroke="#8a8a8a" stroke-width="0.9"/>
<line x1="128.04" y1="919.00" x2="128.04" y2="921.30" stroke="#8a8a8a" stroke-width="0.9"/>
<line x1="138.08" y1="919.00" x2="138.08" y2="921.30" stroke="#8a8a8a" stroke-width="0.9"/>
<line x1="148.12" y1="919.00" x2="148.12" y2="921.30" stroke="#8a8a8a" stroke-width="0.9"/>
<line x1="158.16" y1="919.00" x2="158.16" y2="921.30" stroke="#8a8a8a" stroke-width="0.9"/>
<line x1="168.20" y1="919.00" x2="168.20" y2="921.30" stroke="#8a8a8a" stroke-width="0.9"/>
<line x1="178.24" y1="919.00" x2="178.24" y2="921.30" stroke="#8a8a8a" stroke-width="0.9"/>
<line x1="188.28" y1="919.00" x2="188.28" y2="921.30" stroke="#8a8a8a" stroke-width="0.9"/>
<line x1="198.32" y1="919.00" x2="198.32" y2="921.30" stroke="#8a8a8a" stroke-width="0.9"/>
<line x1="208.36" y1="919.00" x2="208.36" y2="921.30" stroke="#8a8a8a" stroke-width="0.9"/>
<line x1="218.40" y1="919.00" x2="218.40" y2="921.30" stroke="#8a8a8a" stroke-width="0.9"/>
<line x1="228.44" y1="919.00" x2="228.44" y2="921.30" stroke="#8a8a8a" stroke-width="0.9"/>
<line x1="238.48" y1="919.00" x2="238.48" y2="921.30" stroke="#8a8a8a" stroke-width="0.9"/>
<line x1="248.52" y1="919.00" x2="248.52" y2="921.30" stroke="#8a8a8a" stroke-width="0.9"/>
<line x1="258.56" y1="919.00" x2="258.56" y2="921.30" stroke="#8a8a8a" stroke-width="0.9"/>
<line x1="268.60" y1="919.00" x2="268.60" y2="921.30" stroke="#8a8a8a" stroke-width="0.9"/>
<line x1="278.64" y1="919.00" x2="278.64" y2="921.30" stroke="#8a8a8a" stroke-width="0.9"/>
<line x1="288.68" y1="919.00" x2="288.68" y2="921.30" stroke="#8a8a8a" stroke-width="0.9"/>
<line x1="298.72" y1="919.00" x2="298.72" y2="921.30" stroke="#8a8a8a" stroke-width="0.9"/>
<line x1="308.76" y1="919.00" x2="308.76" y2="921.30" stroke="#8a8a8a" stroke-width="0.9"/>
<line x1="318.80" y1="919.00" x2="318.80" y2="921.30" stroke="#8a8a8a" stroke-width="0.9"/>
<line x1="328.84" y1="919.00" x2="328.84" y2="921.30" stroke="#8a8a8a" stroke-width="0.9"/>
<line x1="338.88" y1="919.00" x2="338.88" y2="921.30" stroke="#8a8a8a" stroke-width="0.9"/>
<line x1="348.92" y1="919.00" x2="348.92" y2="921.30" stroke="#8a8a8a" stroke-width="0.9"/>
<line x1="358.96" y1="919.00" x2="358.96" y2="921.30" stroke="#8a8a8a" stroke-width="0.9"/>
<line x1="369.00" y1="919.00" x2="369.00" y2="921.30" stroke="#8a8a8a" stroke-width="0.9"/>
<text x="25.10" y="936.80" font-size="10" text-anchor="middle" font-weight="bold" textLength="14.00" lengthAdjust="spacingAndGlyphs" fill="#333">8.0</text>
<text x="69.90" y="936.80" font-size="10" text-anchor="middle" font-weight="bold" textLength="14.00" lengthAdjust="spacingAndGlyphs" fill="#333">7.0</text>
<text x="109.80" y="936.80" font-size="10" text-anchor="middle" font-weight="bold" textLength="14.00" lengthAdjust="spacingAndGlyphs" fill="#333">6.0</text>
<text x="148.90" y="936.80" font-size="10" text-anchor="middle" font-weight="bold" textLength="14.00" lengthAdjust="spacingAndGlyphs" fill="#333">5.0</text>
<text x="188.30" y="936.80" font-size="10" text-anchor="middle" font-weight="bold" textLength="14.00" lengthAdjust="spacingAndGlyphs" fill="#333">4.0</text>
<text x="231.80" y="936.80" font-size="10" text-anchor="middle" font-weight="bold" textLength="14.00" lengthAdjust="spacingAndGlyphs" fill="#333">3.0</text>
<text x="273.20" y="936.80" font-size="10" text-anchor="middle" font-weight="bold" textLength="14.00" lengthAdjust="spacingAndGlyphs" fill="#333">2.0</text>
<text x="315.30" y="936.80" font-size="10" text-anchor="middle" font-weight="bold" textLength="14.00" lengthAdjust="spacingAndGlyphs" fill="#333">1.0</text>
<text x="355.20" y="936.80" font-size="10" text-anchor="middle" font-weight="bold" textLength="14.00" lengthAdjust="spacingAndGlyphs" fill="#333">0.0</text>
<text x="174.90" y="948.80" font-size="9.6" font-weight="bold" textLength="39.10" lengthAdjust="spacingAndGlyphs" fill="#333">&#948; (ppm)</text>
<text x="164.30" y="895.50" font-size="14.3" font-weight="bold" textLength="127.40" lengthAdjust="spacingAndGlyphs" fill="#111">Free lysine signal</text>
<text x="150.4" y="914.0" font-size="14.6" font-weight="bold" fill="#111" textLength="155.9" lengthAdjust="spacingAndGlyphs">(NH<tspan font-size="10.2" dy="4">2</tspan><tspan dy="-4">CH</tspan><tspan font-size="10.2" dy="4">2</tspan><tspan dy="-4">CH</tspan><tspan font-size="10.2" dy="4">2</tspan><tspan dy="-4">CH</tspan><tspan font-size="10.2" dy="4">2</tspan><tspan dy="-4">CH</tspan><tspan font-size="10.2" dy="4">2</tspan><tspan dy="-4">-)</tspan></text>
<text x="1.60" y="708.10" font-size="24" font-weight="bold" textLength="42.20" lengthAdjust="spacingAndGlyphs" fill="#000">(E1)</text>
<text x="10.00" y="680.80" font-size="4.6" textLength="14.30" lengthAdjust="spacingAndGlyphs" fill="#444">Gelatin</text>
<line x1="232.40" y1="684.50" x2="232.40" y2="690.50" stroke="#4a5a6a" stroke-width="0.6"/>
<text x="232.80" y="683.50" font-size="3.6" fill="#4a5a6a" transform="rotate(-90 232.80 683.50)">2.92</text>
<polyline points="392.00,882.60 394.50,882.59 397.00,882.59 399.50,882.59 402.00,882.59 404.50,882.59 407.00,882.58 409.50,882.58 412.00,882.58 414.50,882.58 417.00,882.58 419.50,882.57 422.00,882.57 424.50,882.57 427.00,882.57 429.50,882.56 432.00,882.56 434.50,882.56 437.00,882.55 439.50,882.55 442.00,882.55 444.50,882.54 447.00,882.53 449.50,882.52 452.00,882.50 454.50,882.45 456.70,882.33 457.00,882.30 457.90,882.16 458.50,882.03 459.00,881.90 459.50,881.79 461.10,881.92 461.60,882.05 462.00,882.14 462.80,882.27 464.20,882.39 464.50,882.40 467.00,882.47 469.50,882.50 472.00,882.51 474.50,882.51 477.00,882.51 479.50,882.51 482.00,882.51 484.50,882.51 487.00,882.51 489.50,882.50 492.00,882.50 494.50,882.50 497.00,882.49 499.50,882.47 502.00,882.34 502.40,882.22 502.50,882.18 502.60,882.11 502.70,882.04 502.80,881.93 502.90,881.79 503.00,881.59 503.10,881.29 503.20,880.86 503.30,880.23 503.40,879.37 503.50,878.43 503.60,877.98 503.70,878.43 503.80,879.37 503.90,880.23 504.00,880.86 504.10,881.29 504.20,881.58 504.30,881.78 504.40,881.93 504.50,882.03 504.60,882.11 504.70,882.17 504.80,882.22 505.30,882.34 507.00,882.43 509.50,882.42 511.00,882.29 511.30,882.20 511.40,882.15 511.50,882.09 511.60,882.01 511.70,881.91 511.80,881.77 511.90,881.56 512.00,881.27 512.10,880.84 512.20,880.21 512.30,879.35 512.40,878.41 512.50,877.96 512.60,878.41 512.70,879.35 512.80,880.21 512.90,880.84 513.00,881.27 513.10,881.56 513.20,881.76 513.30,881.91 513.40,882.01 513.50,882.09 513.60,882.15 513.70,882.19 514.20,882.32 514.50,882.36 517.00,882.42 519.50,882.40 522.00,882.32 523.40,882.19 524.10,882.05 524.50,881.93 524.80,881.82 524.90,881.78 525.00,881.74 525.10,881.70 525.20,881.65 525.30,881.61 525.40,881.57 525.80,881.44 526.70,881.59 526.80,881.63 526.90,881.68 527.00,881.72 527.10,881.76 527.50,881.90 528.00,882.03 529.00,882.15 529.50,882.16 530.60,882.03 530.70,881.99 530.80,881.95 530.90,881.89 531.00,881.83 531.10,881.74 531.20,881.63 531.30,881.48 531.40,881.28 531.50,881.01 531.60,880.63 531.70,880.08 531.80,879.28 531.90,878.09 532.00,876.45 532.10,874.69 532.20,873.84 532.30,874.69 532.40,876.45 532.50,878.09 532.60,879.28 532.70,880.09 532.80,880.64 532.90,881.02 533.00,881.29 533.10,881.48 533.20,881.63 533.30,881.74 533.40,881.83 533.50,881.90 533.60,881.95 533.70,882.00 534.20,882.13 534.50,882.16 536.80,882.04 537.00,881.98 537.10,881.94 537.20,881.89 537.30,881.83 537.40,881.76 537.50,881.67 537.60,881.55 537.70,881.41 537.80,881.21 537.90,880.96 538.00,880.62 538.10,880.17 538.20,879.60 538.30,878.94 538.40,878.36 538.50,878.11 538.60,878.33 538.70,878.87 538.80,879.48 538.90,880.01 539.00,880.42 539.10,880.71 539.20,880.91 539.30,881.04 539.40,881.11 539.50,881.13 539.60,881.11 539.70,881.05 539.80,880.93 539.90,880.74 540.00,880.47 540.10,880.10 540.20,879.62 540.30,879.06 540.40,878.56 540.50,878.34 540.60,878.53 540.70,879.01 540.80,879.54 540.90,880.00 541.00,880.34 541.10,880.58 541.20,880.74 541.30,880.83 541.50,880.86 541.60,880.81 541.70,880.71 541.80,880.56 541.90,880.35 542.00,880.07 542.10,879.73 542.20,879.33 542.30,878.92 542.40,878.58 542.50,878.41 542.60,878.46 542.70,878.68 542.80,878.97 542.90,879.24 543.00,879.44 543.10,879.56 543.20,879.61 543.30,879.57 543.40,879.48 543.50,879.32 543.60,879.11 543.70,878.86 543.80,878.59 543.90,878.33 544.00,878.11 544.10,877.96 544.20,877.93 544.30,878.01 544.40,878.19 544.50,878.46 544.60,878.78 544.70,879.11 544.80,879.42 544.90,879.72 545.00,879.98 545.10,880.21 545.20,880.41 545.30,880.58 545.40,880.72 545.50,880.84 545.60,880.94 545.70,881.02 545.80,881.08 545.90,881.13 546.70,881.12 546.80,881.06 546.90,881.00 547.00,880.93 547.10,880.84 547.20,880.74 547.30,880.63 547.40,880.51 547.50,880.39 547.60,880.28 547.70,880.18 547.80,880.10 547.90,880.04 548.10,880.05 548.20,880.11 548.30,880.20 548.40,880.31 548.50,880.44 548.60,880.57 548.70,880.69 548.80,880.82 548.90,880.93 549.00,881.03 549.10,881.12 549.20,881.20 549.30,881.27 549.40,881.33 549.50,881.38 549.60,881.43 550.10,881.56 551.30,881.42 551.40,881.38 551.50,881.33 551.60,881.28 551.70,881.22 551.80,881.16 551.90,881.08 552.00,881.00 552.10,880.91 552.20,880.81 552.30,880.70 552.40,880.58 552.50,880.46 552.60,880.32 552.70,880.19 552.80,880.05 552.90,879.91 553.00,879.79 553.10,879.68 553.20,879.59 553.30,879.53 553.60,879.55 553.70,879.62 553.80,879.71 553.90,879.82 554.00,879.93 554.10,880.05 554.20,880.17 554.30,880.28 554.40,880.38 554.50,880.48 554.60,880.56 554.70,880.63 554.80,880.69 554.90,880.75 555.00,880.79 556.00,880.73 556.10,880.69 556.20,880.64 556.30,880.60 556.40,880.56 556.50,880.51 557.00,880.42 557.30,880.50 557.40,880.54 557.50,880.59 557.60,880.65 557.70,880.72 557.80,880.78 557.90,880.85 558.00,880.91 558.10,880.97 558.20,881.03 558.30,881.08 558.40,881.13 558.50,881.18 558.60,881.22 559.00,881.35 559.50,881.43 560.70,881.31 561.00,881.20 561.10,881.16 561.20,881.11 561.30,881.06 561.40,881.00 561.50,880.93 561.60,880.87 561.70,880.79 561.80,880.71 561.90,880.63 562.00,880.54 562.10,880.45 562.20,880.36 562.30,880.28 562.40,880.19 562.50,880.11 562.60,880.03 562.70,879.97 562.80,879.92 563.30,879.91 563.40,879.96 563.50,880.01 563.60,880.08 563.70,880.14 563.80,880.21 563.90,880.28 564.00,880.35 564.10,880.41 564.20,880.48 564.30,880.53 564.40,880.58 564.50,880.63 565.00,880.76 565.90,880.62 566.00,880.58 566.10,880.53 566.20,880.47 566.30,880.41 566.40,880.33 566.50,880.25 566.60,880.16 566.70,880.07 566.80,879.96 566.90,879.84 567.00,879.71 567.10,879.58 567.20,879.43 567.30,879.26 567.40,879.09 567.50,878.90 567.60,878.70 567.70,878.49 567.80,878.27 567.90,878.04 568.00,877.81 568.10,877.57 568.20,877.33 568.30,877.10 568.40,876.87 568.50,876.67 568.60,876.49 568.70,876.34 568.80,876.23 568.90,876.16 569.10,876.16 569.20,876.23 569.30,876.34 569.40,876.49 569.50,876.67 569.60,876.87 569.70,877.09 569.80,877.32 569.90,877.56 570.00,877.80 570.10,878.03 570.20,878.26 570.30,878.48 570.40,878.69 570.50,878.88 570.60,879.07 570.70,879.24 570.80,879.40 570.90,879.54 571.00,879.68 571.10,879.80 571.20,879.91 571.30,880.01 571.40,880.10 571.50,880.18 571.60,880.25 571.70,880.31 571.80,880.37 571.90,880.41 572.00,880.44 572.80,880.40 572.90,880.35 573.00,880.29 573.10,880.23 573.20,880.16 573.30,880.08 573.40,880.00 573.50,879.92 573.60,879.85 573.70,879.79 573.80,879.75 574.10,879.77 574.20,879.83 574.30,879.91 574.40,880.00 574.50,880.11 574.60,880.23 574.70,880.35 574.80,880.47 574.90,880.59 575.00,880.70 575.10,880.80 575.20,880.89 575.30,880.98 575.40,881.06 575.50,881.14 575.60,881.20 575.70,881.26 575.80,881.32 575.90,881.37 576.00,881.41 576.40,881.55 577.00,881.66 578.70,881.54 578.80,881.50 578.90,881.46 579.00,881.41 579.10,881.36 579.20,881.30 579.30,881.23 579.40,881.16 579.50,881.07 579.60,880.97 579.70,880.85 579.80,880.72 579.90,880.58 580.00,880.42 580.10,880.24 580.20,880.04 580.30,879.83 580.40,879.61 580.50,879.39 580.60,879.17 580.70,878.98 580.80,878.83 580.90,878.73 581.10,878.74 581.20,878.84 581.30,879.00 581.40,879.19 581.50,879.41 581.60,879.64 581.70,879.87 581.80,880.08 581.90,880.29 582.00,880.47 582.10,880.64 582.20,880.79 582.30,880.92 582.40,881.04 582.50,881.15 582.60,881.24 582.70,881.33 582.80,881.40 582.90,881.47 583.00,881.53 583.10,881.58 583.20,881.63 583.30,881.67 583.70,881.81 584.30,881.93 584.50,881.95 587.00,881.98 587.80,881.86 588.30,881.72 588.50,881.65 588.60,881.61 588.70,881.57 588.80,881.52 588.90,881.47 589.00,881.42 589.10,881.37 589.20,881.32 589.30,881.27 589.40,881.22 589.50,881.18 589.60,881.13 590.50,881.17 590.60,881.21 590.70,881.26 590.80,881.31 590.90,881.36 591.00,881.41 591.10,881.46 591.20,881.50 591.30,881.55 591.40,881.59 591.80,881.72 592.00,881.77 594.40,881.67 594.50,881.63 594.60,881.58 594.70,881.53 594.80,881.47 594.90,881.41 595.00,881.34 595.10,881.27 595.20,881.20 595.30,881.12 595.40,881.04 595.50,880.97 595.60,880.90 595.70,880.84 595.80,880.79 596.20,880.80 596.30,880.85 596.40,880.91 596.50,880.98 596.60,881.06 596.70,881.14 596.80,881.22 596.90,881.30 597.00,881.38 597.10,881.45 597.20,881.51 597.30,881.57 597.40,881.63 597.50,881.68 597.60,881.72 597.70,881.76 598.10,881.89 598.80,882.01 599.50,882.06 601.70,881.93 602.00,881.86 602.40,881.74 602.60,881.66 602.70,881.62 602.80,881.57 602.90,881.53 603.00,881.48 603.10,881.43 603.20,881.38 603.30,881.33 603.40,881.28 603.50,881.23 604.40,881.20 604.50,881.24 604.60,881.29 604.70,881.34 604.80,881.39 604.90,881.44 605.00,881.49 605.10,881.54 605.20,881.59 605.30,881.64 605.40,881.68 605.50,881.73 605.90,881.87 606.40,881.99 607.00,882.09 608.70,882.21 609.50,882.23 612.00,882.23 614.50,882.11 615.40,881.99 616.00,881.85 616.40,881.71 616.50,881.67 616.60,881.62 616.70,881.58 616.80,881.53 616.90,881.48 617.00,881.42 617.10,881.37 617.20,881.31 617.30,881.26 617.40,881.20 617.50,881.15 617.60,881.11 618.90,881.23 619.30,881.36 619.50,881.40 620.30,881.34 620.40,881.30 620.50,881.25 620.60,881.19 620.70,881.12 620.80,881.04 620.90,880.95 621.00,880.85 621.10,880.73 621.20,880.62 621.30,880.49 621.40,880.38 621.50,880.28 621.60,880.19 621.70,880.14 621.90,880.15 622.00,880.22 622.10,880.31 622.20,880.42 622.30,880.55 622.40,880.68 622.50,880.81 622.60,880.94 622.70,881.05 622.80,881.16 622.90,881.26 623.00,881.34 623.10,881.42 623.20,881.49 623.30,881.55 623.40,881.60 623.50,881.64 623.60,881.69 624.10,881.83 624.50,881.89 626.60,881.76 627.00,881.64 627.10,881.60 627.20,881.56 627.30,881.51 627.40,881.46 627.50,881.40 627.60,881.33 627.70,881.26 627.80,881.18 627.90,881.09 628.00,880.99 628.10,880.88 628.20,880.76 628.30,880.63 628.40,880.49 628.50,880.34 628.60,880.19 628.70,880.03 628.80,879.86 628.90,879.71 629.00,879.56 629.10,879.44 629.20,879.35 629.30,879.29 629.50,879.28 629.60,879.34 629.70,879.44 629.80,879.56 629.90,879.70 630.00,879.86 630.10,880.02 630.20,880.18 630.30,880.34 630.40,880.48 630.50,880.62 630.60,880.75 630.70,880.87 630.80,880.98 630.90,881.07 631.00,881.16 631.10,881.24 631.20,881.31 631.30,881.38 631.40,881.43 631.50,881.49 631.60,881.53 631.70,881.57 632.00,881.67 632.70,881.80 634.20,881.66 634.30,881.62 634.40,881.58 634.50,881.53 634.60,881.47 634.70,881.41 634.80,881.34 634.90,881.25 635.00,881.16 635.10,881.06 635.20,880.95 635.30,880.83 635.40,880.70 635.50,880.57 635.60,880.45 635.70,880.34 635.80,880.25 635.90,880.19 636.10,880.19 636.20,880.24 636.30,880.33 636.40,880.44 636.50,880.56 636.60,880.68 636.70,880.81 636.80,880.93 636.90,881.04 637.00,881.13 637.10,881.22 637.20,881.30 637.30,881.37 637.40,881.42 637.50,881.47 637.60,881.51 638.60,881.53 638.70,881.49 638.80,881.44 638.90,881.38 639.00,881.31 639.10,881.21 639.20,881.11 639.30,880.99 639.40,880.85 639.50,880.70 639.60,880.54 639.70,880.40 639.80,880.27 639.90,880.19 640.10,880.20 640.20,880.30 640.30,880.43 640.40,880.59 640.50,880.75 640.60,880.91 640.70,881.06 640.80,881.20 640.90,881.32 641.00,881.42 641.10,881.52 641.20,881.59 641.30,881.66 641.40,881.72 641.50,881.77 641.60,881.81 642.00,881.94 642.90,882.07 644.50,882.07 645.40,881.92 645.60,881.85 645.70,881.81 645.80,881.75 645.90,881.69 646.00,881.61 646.10,881.51 646.20,881.39 646.30,881.23 646.40,881.03 646.50,880.76 646.60,880.41 646.70,879.92 646.80,879.24 646.90,878.29 647.00,877.00 647.10,875.40 647.20,873.86 647.30,873.18 647.40,873.85 647.50,875.38 647.60,876.97 647.70,878.25 647.80,879.18 647.90,879.85 648.00,880.32 648.10,880.66 648.20,880.91 648.30,881.09 648.40,881.23 648.50,881.33 648.60,881.40 648.70,881.46 649.20,881.46 649.30,881.41 649.40,881.34 649.50,881.24 649.60,881.12 649.70,880.95 649.80,880.74 649.90,880.46 650.00,880.11 650.10,879.68 650.20,879.19 650.30,878.69 650.40,878.29 650.50,878.14 650.60,878.30 650.70,878.70 650.80,879.21 650.90,879.72 651.00,880.16 651.10,880.52 651.20,880.81 651.30,881.04 651.40,881.22 651.50,881.36 651.60,881.48 651.70,881.57 651.80,881.64 651.90,881.70 652.00,881.75 652.10,881.79 652.70,881.92 654.10,881.80 654.20,881.77 654.30,881.72 654.40,881.68 654.50,881.62 654.60,881.55 654.70,881.47 654.80,881.37 654.90,881.26 655.00,881.11 655.10,880.94 655.20,880.73 655.30,880.48 655.40,880.17 655.50,879.81 655.60,879.39 655.70,878.96 655.80,878.56 655.90,878.26 656.00,878.15 656.10,878.26 656.20,878.54 656.30,878.94 656.40,879.36 656.50,879.76 656.60,880.12 656.70,880.42 656.80,880.66 656.90,880.86 657.00,881.02 657.10,881.15 657.20,881.26 657.30,881.34 657.40,881.41 657.50,881.46 657.60,881.50 658.50,881.47 658.60,881.42 658.70,881.36 658.80,881.29 658.90,881.20 659.00,881.10 659.10,880.98 659.20,880.84 659.30,880.68 659.40,880.50 659.50,880.31 659.60,880.11 659.70,879.92 659.80,879.76 659.90,879.65 660.10,879.66 660.20,879.77 660.30,879.93 660.40,880.12 660.50,880.32 660.60,880.52 660.70,880.70 660.80,880.86 660.90,881.01 661.00,881.13 661.10,881.24 661.20,881.34 661.30,881.41 661.40,881.48 661.50,881.54 661.60,881.59 661.70,881.63 662.00,881.72 664.40,881.59 664.50,881.56 664.60,881.52 664.70,881.48 664.80,881.43 664.90,881.38 665.00,881.33 665.10,881.27 665.20,881.20 665.30,881.12 665.40,881.04 665.50,880.94 665.60,880.84 665.70,880.72 665.80,880.59 665.90,880.44 666.00,880.27 666.10,880.09 666.20,879.88 666.30,879.64 666.40,879.37 666.50,879.07 666.60,878.74 666.70,878.37 666.80,877.97 666.90,877.54 667.00,877.09 667.10,876.64 667.20,876.20 667.30,875.81 667.40,875.50 667.50,875.30 667.60,875.23 667.70,875.29 667.80,875.49 667.90,875.80 668.00,876.18 668.10,876.61 668.20,877.06 668.30,877.51 668.40,877.93 668.50,878.33 668.60,878.69 668.70,879.02 668.80,879.31 668.90,879.57 669.00,879.80 669.10,880.00 669.20,880.18 669.30,880.34 669.40,880.47 669.50,880.59 669.60,880.70 669.70,880.79 669.80,880.86 669.90,880.93 670.00,880.99 670.10,881.03 670.80,881.06 670.90,881.01 671.00,880.96 671.10,880.88 671.20,880.79 671.30,880.68 671.40,880.56 671.50,880.42 671.60,880.28 671.70,880.14 671.80,880.03 671.90,879.96 672.00,879.95 672.10,879.99 672.20,880.09 672.30,880.23 672.40,880.40 672.50,880.57 672.60,880.74 672.70,880.89 672.80,881.03 672.90,881.16 673.00,881.27 673.10,881.37 673.20,881.45 673.30,881.52 673.40,881.58 673.50,881.64 673.60,881.69 673.70,881.73 674.10,881.86 674.50,881.94 675.90,882.06 677.00,882.07 679.20,881.95 679.50,881.90 680.10,881.76 680.30,881.69 680.40,881.65 680.50,881.60 680.60,881.55 680.70,881.49 680.80,881.42 680.90,881.35 681.00,881.27 681.10,881.18 681.20,881.09 681.30,880.98 681.40,880.88 681.50,880.77 681.60,880.66 681.70,880.56 681.80,880.48 681.90,880.42 682.00,880.39 682.20,880.41 682.30,880.45 682.40,880.51 682.50,880.58 682.60,880.65 682.70,880.72 682.80,880.78 682.90,880.83 683.00,880.87 683.70,880.86 683.80,880.81 683.90,880.76 684.00,880.69 684.10,880.61 684.20,880.52 684.30,880.41 684.40,880.29 684.50,880.15 684.60,880.00 684.70,879.83 684.80,879.65 684.90,879.45 685.00,879.23 685.10,879.00 685.20,878.76 685.30,878.53 685.40,878.30 685.50,878.08 685.60,877.90 685.70,877.76 685.80,877.67 686.00,877.67 686.10,877.76 686.20,877.91 686.30,878.09 686.40,878.30 686.50,878.54 686.60,878.78 686.70,879.01 686.80,879.25 686.90,879.46 687.00,879.67 687.10,879.86 687.20,880.03 687.30,880.18 687.40,880.32 687.50,880.45 687.60,880.56 687.70,880.65 687.80,880.74 687.90,880.81 688.00,880.87 688.10,880.93 688.20,880.97 689.00,880.96 689.10,880.91 689.20,880.85 689.30,880.79 689.40,880.72 689.50,880.65 689.60,880.58 689.70,880.51 689.80,880.47 690.10,880.48 690.20,880.53 690.30,880.61 690.40,880.71 690.50,880.82 690.60,880.93 690.70,881.03 690.80,881.13 690.90,881.23 691.00,881.32 691.10,881.40 691.20,881.47 691.30,881.54 691.40,881.59 691.50,881.65 691.60,881.69 691.70,881.74 692.00,881.84 692.60,881.98 693.70,882.10 694.50,882.15 697.00,882.22 699.50,882.21 702.00,882.10 702.90,881.96 703.40,881.84 703.80,881.70 703.90,881.66 704.00,881.61 704.10,881.57 704.20,881.53 704.30,881.49 704.40,881.45 704.50,881.41 705.60,881.45 705.70,881.49 705.80,881.53 705.90,881.58 706.00,881.62 706.10,881.66 706.20,881.70 706.60,881.84 707.00,881.95 707.70,882.08 709.20,882.20 709.50,882.22 712.00,882.27 714.50,882.29 717.00,882.30 719.50,882.30 722.00,882.29 724.50,882.24 726.00,882.12 726.60,881.98 726.80,881.91 726.90,881.86 727.00,881.82 727.10,881.76 727.20,881.71 727.30,881.65 727.40,881.58 727.50,881.52 727.60,881.45 727.70,881.40 727.80,881.36 728.20,881.36 728.30,881.40 728.40,881.45 728.50,881.52 728.60,881.58 728.70,881.65 728.80,881.71 728.90,881.76 729.00,881.82 729.10,881.86 729.20,881.91 729.50,882.01 730.10,882.13 731.90,882.25 732.00,882.26 734.50,882.29 737.00,882.30 739.50,882.31 742.00,882.31 744.50,882.31 747.00,882.31 749.50,882.31 752.00,882.30 754.50,882.30 757.00,882.30 759.50,882.30 762.00,882.30 764.50,882.30 767.00,882.30 769.50,882.29" fill="none" stroke="#383838" stroke-width="0.9" stroke-linejoin="round"/>
<line x1="490.90" y1="882.60" x2="490.90" y2="845.50" stroke="#9a9a9a" stroke-width="1.4"/>
<line x1="505.30" y1="882.60" x2="505.30" y2="850.10" stroke="#553333" stroke-width="0.9"/>
<line x1="536.50" y1="882.60" x2="536.50" y2="677.00" stroke="#6a6460" stroke-width="1.0"/>
<line x1="609.50" y1="882.60" x2="609.50" y2="691.60" stroke="#222222" stroke-width="1.2"/>
<line x1="609.50" y1="691.60" x2="609.50" y2="703.00" stroke="#8a8a8a" stroke-width="1.0"/>
<line x1="609.50" y1="868.00" x2="609.50" y2="882.00" stroke="#999" stroke-width="1.2"/>
<line x1="648.30" y1="882.60" x2="648.30" y2="760.20" stroke="#6a4a4a" stroke-width="0.85"/>
<line x1="653.40" y1="882.60" x2="653.40" y2="743.40" stroke="#6a4a4a" stroke-width="0.85"/>
<line x1="653.40" y1="803.80" x2="653.40" y2="834.00" stroke="#2a1a1a" stroke-width="1.3"/>
<line x1="653.40" y1="834.00" x2="653.40" y2="857.50" stroke="#111" stroke-width="2.2"/>
<line x1="663.10" y1="882.60" x2="663.10" y2="844.90" stroke="#888" stroke-width="0.9"/>
<line x1="668.80" y1="882.60" x2="668.80" y2="866.70" stroke="#777" stroke-width="0.8"/>
<line x1="674.70" y1="882.60" x2="674.70" y2="865.60" stroke="#555" stroke-width="0.9"/>
<line x1="677.70" y1="882.60" x2="677.70" y2="875.10" stroke="#666" stroke-width="0.8"/>
<line x1="696.50" y1="882.60" x2="696.50" y2="711.10" stroke="#8a7a7a" stroke-width="1.0"/>
<line x1="696.50" y1="742.70" x2="696.50" y2="880.00" stroke="#8a8a8a" stroke-width="1.0"/>
<line x1="697.50" y1="882.60" x2="697.50" y2="717.30" stroke="#7a5050" stroke-width="1.0"/>
<line x1="697.50" y1="742.70" x2="697.50" y2="880.00" stroke="#3a2424" stroke-width="1.0"/>
<line x1="721.50" y1="882.60" x2="721.50" y2="676.90" stroke="#6a6a6a" stroke-width="1.0"/>
<line x1="721.50" y1="745.00" x2="721.50" y2="878.00" stroke="#5a5050" stroke-width="1.0"/>
<line x1="718.20" y1="882.60" x2="718.20" y2="864.00" stroke="#777" stroke-width="0.8"/>
<line x1="724.60" y1="882.60" x2="724.60" y2="864.00" stroke="#777" stroke-width="0.8"/>
<path d="M484.0,880.4 L481.8,880.4 L481.8,887.0 L484.0,887.0" fill="none" stroke="#3a6060" stroke-width="1.0"/>
<path d="M516.0,880.8 L518.2,880.8 L518.2,891.3 L516.0,891.3" fill="none" stroke="#8a5a30" stroke-width="1.0"/>
<path d="M645.0,876.0 L642.8,876.0 L642.8,885.2 L645.0,885.2 M651.5,876.0 L653.7,876.0 L653.7,885.2 L651.5,885.2" fill="none" stroke="#2f2f2f" stroke-width="0.9"/>
<line x1="393.40" y1="919.60" x2="769.50" y2="919.60" stroke="#3c3c3c" stroke-width="1.2"/>
<line x1="394.30" y1="919.60" x2="394.30" y2="921.90" stroke="#555" stroke-width="0.9"/>
<line x1="403.98" y1="919.60" x2="403.98" y2="921.90" stroke="#555" stroke-width="0.9"/>
<line x1="413.66" y1="919.60" x2="413.66" y2="921.90" stroke="#555" stroke-width="0.9"/>
<line x1="423.34" y1="919.60" x2="423.34" y2="921.90" stroke="#555" stroke-width="0.9"/>
<line x1="433.02" y1="919.60" x2="433.02" y2="921.90" stroke="#555" stroke-width="0.9"/>
<line x1="442.70" y1="919.60" x2="442.70" y2="921.90" stroke="#555" stroke-width="0.9"/>
<line x1="452.38" y1="919.60" x2="452.38" y2="921.90" stroke="#555" stroke-width="0.9"/>
<line x1="462.06" y1="919.60" x2="462.06" y2="921.90" stroke="#555" stroke-width="0.9"/>
<line x1="471.74" y1="919.60" x2="471.74" y2="921.90" stroke="#555" stroke-width="0.9"/>
<line x1="481.42" y1="919.60" x2="481.42" y2="921.90" stroke="#555" stroke-width="0.9"/>
<line x1="491.10" y1="919.60" x2="491.10" y2="921.90" stroke="#555" stroke-width="0.9"/>
<line x1="500.78" y1="919.60" x2="500.78" y2="921.90" stroke="#555" stroke-width="0.9"/>
<line x1="510.46" y1="919.60" x2="510.46" y2="921.90" stroke="#555" stroke-width="0.9"/>
<line x1="520.14" y1="919.60" x2="520.14" y2="921.90" stroke="#555" stroke-width="0.9"/>
<line x1="529.82" y1="919.60" x2="529.82" y2="921.90" stroke="#555" stroke-width="0.9"/>
<line x1="539.50" y1="919.60" x2="539.50" y2="921.90" stroke="#555" stroke-width="0.9"/>
<line x1="549.18" y1="919.60" x2="549.18" y2="921.90" stroke="#555" stroke-width="0.9"/>
<line x1="558.86" y1="919.60" x2="558.86" y2="921.90" stroke="#555" stroke-width="0.9"/>
<line x1="568.54" y1="919.60" x2="568.54" y2="921.90" stroke="#555" stroke-width="0.9"/>
<line x1="578.22" y1="919.60" x2="578.22" y2="921.90" stroke="#555" stroke-width="0.9"/>
<line x1="587.90" y1="919.60" x2="587.90" y2="921.90" stroke="#555" stroke-width="0.9"/>
<line x1="597.58" y1="919.60" x2="597.58" y2="921.90" stroke="#555" stroke-width="0.9"/>
<line x1="607.26" y1="919.60" x2="607.26" y2="921.90" stroke="#555" stroke-width="0.9"/>
<line x1="616.94" y1="919.60" x2="616.94" y2="921.90" stroke="#555" stroke-width="0.9"/>
<line x1="626.62" y1="919.60" x2="626.62" y2="921.90" stroke="#555" stroke-width="0.9"/>
<line x1="636.30" y1="919.60" x2="636.30" y2="921.90" stroke="#555" stroke-width="0.9"/>
<line x1="645.98" y1="919.60" x2="645.98" y2="921.90" stroke="#555" stroke-width="0.9"/>
<line x1="655.66" y1="919.60" x2="655.66" y2="921.90" stroke="#555" stroke-width="0.9"/>
<line x1="665.34" y1="919.60" x2="665.34" y2="921.90" stroke="#555" stroke-width="0.9"/>
<line x1="675.02" y1="919.60" x2="675.02" y2="921.90" stroke="#555" stroke-width="0.9"/>
<line x1="684.70" y1="919.60" x2="684.70" y2="921.90" stroke="#555" stroke-width="0.9"/>
<line x1="694.38" y1="919.60" x2="694.38" y2="921.90" stroke="#555" stroke-width="0.9"/>
<line x1="704.06" y1="919.60" x2="704.06" y2="921.90" stroke="#555" stroke-width="0.9"/>
<line x1="713.74" y1="919.60" x2="713.74" y2="921.90" stroke="#555" stroke-width="0.9"/>
<line x1="723.42" y1="919.60" x2="723.42" y2="921.90" stroke="#555" stroke-width="0.9"/>
<line x1="733.10" y1="919.60" x2="733.10" y2="921.90" stroke="#555" stroke-width="0.9"/>
<line x1="742.78" y1="919.60" x2="742.78" y2="921.90" stroke="#555" stroke-width="0.9"/>
<line x1="752.46" y1="919.60" x2="752.46" y2="921.90" stroke="#555" stroke-width="0.9"/>
<line x1="762.14" y1="919.60" x2="762.14" y2="921.90" stroke="#555" stroke-width="0.9"/>
<text x="415.00" y="935.10" font-size="10" text-anchor="middle" font-weight="bold" textLength="14.00" lengthAdjust="spacingAndGlyphs" fill="#333">8.0</text>
<text x="452.80" y="935.10" font-size="10" text-anchor="middle" font-weight="bold" textLength="14.00" lengthAdjust="spacingAndGlyphs" fill="#333">7.0</text>
<text x="492.00" y="935.10" font-size="10" text-anchor="middle" font-weight="bold" textLength="14.00" lengthAdjust="spacingAndGlyphs" fill="#333">6.0</text>
<text x="529.90" y="935.10" font-size="10" text-anchor="middle" font-weight="bold" textLength="14.00" lengthAdjust="spacingAndGlyphs" fill="#333">5.0</text>
<text x="569.80" y="935.10" font-size="10" text-anchor="middle" font-weight="bold" textLength="14.00" lengthAdjust="spacingAndGlyphs" fill="#333">4.0</text>
<text x="610.30" y="935.10" font-size="10" text-anchor="middle" font-weight="bold" textLength="14.00" lengthAdjust="spacingAndGlyphs" fill="#333">3.0</text>
<text x="646.60" y="935.10" font-size="10" text-anchor="middle" font-weight="bold" textLength="14.00" lengthAdjust="spacingAndGlyphs" fill="#333">2.0</text>
<text x="687.10" y="935.10" font-size="10" text-anchor="middle" font-weight="bold" textLength="14.00" lengthAdjust="spacingAndGlyphs" fill="#333">1.0</text>
<text x="724.80" y="935.10" font-size="10" text-anchor="middle" font-weight="bold" textLength="14.00" lengthAdjust="spacingAndGlyphs" fill="#333">0.0</text>
<text x="761.10" y="935.10" font-size="10" text-anchor="middle" font-weight="bold" textLength="18.00" lengthAdjust="spacingAndGlyphs" fill="#333">-1.0</text>
<text x="561.20" y="948.60" font-size="9.6" font-weight="bold" textLength="41.30" lengthAdjust="spacingAndGlyphs" fill="#333">&#948; (ppm)</text>
<text x="369.9" y="898.2" font-size="11.8" font-weight="bold" fill="#111" textLength="193.7" lengthAdjust="spacingAndGlyphs">Acylic protons (CH<tspan font-size="8.2" dy="2.8">2</tspan><tspan dy="-2.8">=C(CH</tspan><tspan font-size="8.2" dy="2.8">3</tspan><tspan dy="-2.8">)CONH-)</tspan></text>
<text x="394.70" y="911.90" font-size="11.8" font-weight="bold" textLength="143.30" lengthAdjust="spacingAndGlyphs" fill="#111">of methacrylamide groups</text>
<text x="572.6" y="897.9" font-size="11.8" font-weight="bold" fill="#111" textLength="193.5" lengthAdjust="spacingAndGlyphs">Methyl protons (CH<tspan font-size="8.2" dy="2.8">2</tspan><tspan dy="-2.8">=C(CH</tspan><tspan font-size="8.2" dy="2.8">3</tspan><tspan dy="-2.8">)CO-) of</tspan></text>
<text x="612.50" y="912.00" font-size="11.8" font-weight="bold" textLength="112.90" lengthAdjust="spacingAndGlyphs" fill="#111">methacryloyl groups</text>
<text x="367.60" y="707.10" font-size="23.7" font-weight="bold" textLength="42.60" lengthAdjust="spacingAndGlyphs" fill="#000">(E2)</text>
<text x="391.60" y="680.80" font-size="4.6" textLength="13.90" lengthAdjust="spacingAndGlyphs" fill="#444">GelMA</text>
<line x1="490.80" y1="685.50" x2="490.80" y2="691.00" stroke="#4a5a6a" stroke-width="0.6"/>
<text x="491.20" y="684.50" font-size="3.6" fill="#4a5a6a" transform="rotate(-90 491.20 684.50)">6.00</text>
<line x1="504.50" y1="685.50" x2="504.50" y2="691.00" stroke="#4a5a6a" stroke-width="0.6"/>
<text x="504.90" y="684.50" font-size="3.6" fill="#4a5a6a" transform="rotate(-90 504.90 684.50)">5.67</text>
<line x1="507.20" y1="685.50" x2="507.20" y2="691.00" stroke="#4a5a6a" stroke-width="0.6"/>
<text x="507.60" y="684.50" font-size="3.6" fill="#4a5a6a" transform="rotate(-90 507.60 684.50)">5.64</text>
<line x1="509.90" y1="685.50" x2="509.90" y2="691.00" stroke="#4a5a6a" stroke-width="0.6"/>
<text x="510.30" y="684.50" font-size="3.6" fill="#4a5a6a" transform="rotate(-90 510.30 684.50)">5.43</text>
<line x1="609.70" y1="685.50" x2="609.70" y2="691.00" stroke="#4a5a6a" stroke-width="0.6"/>
<text x="610.10" y="684.50" font-size="3.6" fill="#4a5a6a" transform="rotate(-90 610.10 684.50)">2.92</text>
<line x1="648.50" y1="685.50" x2="648.50" y2="691.00" stroke="#4a5a6a" stroke-width="0.6"/>
<text x="648.90" y="684.50" font-size="3.6" fill="#4a5a6a" transform="rotate(-90 648.90 684.50)">1.90</text>
</svg>
</body></html>
